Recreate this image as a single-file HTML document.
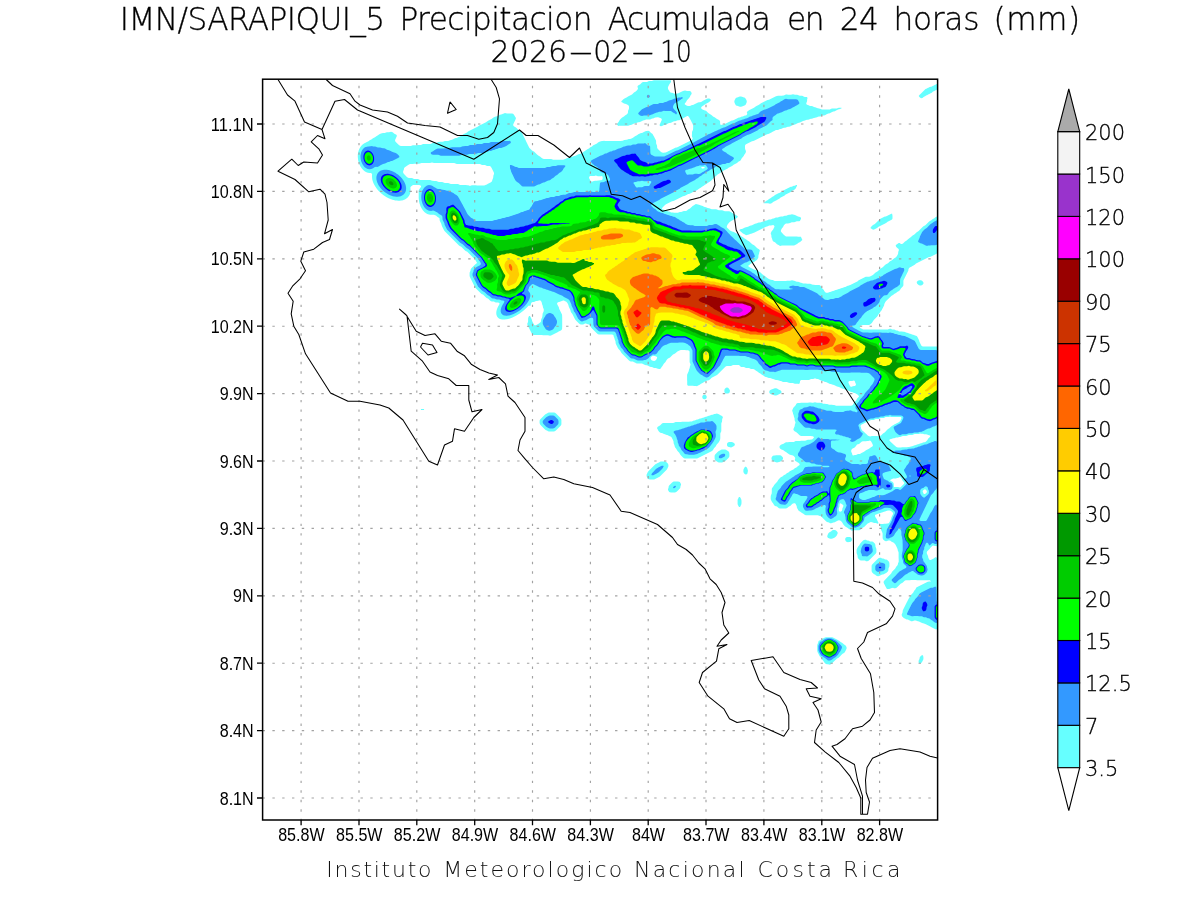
<!DOCTYPE html>
<html lang="es"><head><meta charset="utf-8"><title>IMN/SARAPIQUI_5 Precipitacion Acumulada en 24 horas (mm)</title>
<style>html,body{margin:0;padding:0;background:#fff}svg{display:block;will-change:transform}text{font-family:"Liberation Sans",sans-serif;fill:#000}.t2{font-family:"DejaVu Sans","Liberation Sans",sans-serif;font-weight:200;fill:#111}.t{font-family:"DejaVu Sans","Liberation Sans",sans-serif;font-weight:200;stroke:#000;stroke-width:.3px}</style></head><body>
<svg width="1200" height="900" viewBox="0 0 1200 900">
<rect width="1200" height="900" fill="#fff"/>
<g id="precip" clip-path="url(#clipf)"><path fill="#66FFFF" fill-rule="evenodd" d="M652,81 653,80.5 654,80.2 655,80.2 656,80.2 657,80.2 658,80.2 659,80.2 660,80.2 661,80.3 662,80.3 663,80.3 664,80.3 665,80.3 666,80.3 667,80.3 668,80.3 669,80.3 670,80.3 671,80.5 671,81.8 670.4,83 669.5,84 669,85 668.5,86 668,87 667.9,88 668.1,89 668.6,90 669,90.6 669.9,92 671,92.7 672,92.8 672.9,93 674,93.6 675,93.7 676,93.7 677,93.6 678,93.5 678.9,93 680,92.5 680.9,92 682,91.6 683,91 684,90.7 685,90.4 686,90.7 687,90.9 688,90.9 689,90.9 690,91 691,91.8 691.6,93 691.6,94 691,94.8 690.2,96 690,96.7 689.1,98 688.2,99 687.2,100 686.5,101 686.1,102 685.2,103 684.6,104 685,104.6 685.7,105 687,105.8 688,106 689,106 690,105.9 691,105.4 692,105.1 693,104.9 694,104.5 694.9,104 696,103.5 697,103 698,102.6 699,102.3 700,102.2 701,102.1 702,101.6 702.6,101 704,100.2 705,99.7 706,99.3 707,98.7 708,98.4 709,98.5 710,98.8 711,100 710.2,101 709.2,102 708,102.7 707,103.3 706,103.7 705,104.3 704.3,105 703,105.8 702,106.4 701.4,107 701.1,108 701.7,109 703,109.7 703.6,110 705,110.4 706,110.8 707,111.7 708,112.7 709,113.6 709.8,114 711,114.7 712,115.5 712.5,116 713,116.5 714,117 715,117.5 715.6,118 717,118.9 718,119.4 719,119.9 720,120.9 720.1,122 720.1,123 720.2,124 720.7,125 722,124.8 723,124.6 724,124.4 724.7,124 726,123.4 726.7,123 728,122.4 728.7,122 730,121.4 730.7,121 732,120.6 733,120.4 733.7,120 735,119.4 735.7,119 737,118.4 737.7,118 739,117.6 740,117.4 740.7,117 742,116.6 743,116.4 743.7,116 745,115.6 746,115.4 746.6,115 747.3,114 747,113.1 746.8,112 748,111 749,110.2 750,109.8 751,109.2 752,108.8 753,108.2 754,107.8 755,107.1 756,106.2 757,105.8 758,105.2 759,104.8 760,104.1 761,103.2 762,102.8 763,102.2 764,101.8 765,101.2 766,100.8 767,100.3 767.7,100 769,99.8 770,99.2 771,98.8 772,98.2 773,97.8 774,97.2 775,96.8 776,96.2 777,95.9 778,95.8 779,95.8 780,95.8 781,95.7 782,95.7 783,95.6 784,95.4 784.7,95 786,94.6 787,94.6 788,94.7 789,94.7 790,94.7 791,94.7 792,94.6 793,94.3 794,94.6 795,94.7 796,94.7 797,94.7 798,94.9 799,95.5 800,95.7 801,95.7 802,95.8 802.8,96 804,96.7 805,96.9 806,96.9 806.9,97 807.6,98 807.2,99 807.1,100 807.1,101 806.8,102 806.3,103 806.3,104 807,104.7 808,104.9 809,105.4 810,105.9 811,106 812,106.1 813,106.5 814,107 815,107.2 816,107.6 816.9,108 818,108.3 819,108.4 820,108.7 820.7,109 822,109.4 823,109.4 824,109.4 825,109.4 826,109.4 827,109.5 828,109.5 829,109.5 830,109.4 830.6,109 832,108.6 833,108.5 834,108.6 835,108.6 836,108.6 837,108.5 837.8,108 839,107.7 840,107.7 841,107.7 842,108 841,108.4 840.2,109 839,109.3 838,109.5 837.2,110 836,110.5 835.3,111 834,111.4 833,111.6 832.4,112 831,112.6 830.4,113 829,113.5 828,113.6 827.4,114 826,114.6 825.5,115 824,115.5 823,115.6 822,115.7 821,116.2 820,116.6 819,116.6 818,116.8 817,117.3 816,117.6 815,117.7 814,117.9 813,118.3 812,118.7 811,118.7 810,118.9 809,119.4 808,119.7 807,119.8 806,119.9 805,120.4 804,120.7 803,121 802,121.4 801,121.9 800,122.4 799,122.8 798,123 797,123.4 796,123.9 795,124.4 794,124.8 793,125 792,125.4 791,125.9 790,126.4 789,126.7 788,126.8 787,127 786,127.4 785,127.8 784,127.8 783.2,128 782,128.5 781,128.9 780,129.1 779,129.5 778,129.9 777,130 776,130.1 775,130.6 774.3,131 773,131.6 772.3,132 771,132.7 770.4,133 769,133.7 768.1,134 767,134.2 766,134.7 765.4,135 764,135.7 763.4,136 762,136.7 761,137.2 760,137.7 759,138.2 758,138.7 757,139.2 756,139.7 755,140.2 754,140.7 753.3,141 752,141.2 751,141.7 750,142.2 749,142.7 748,143.2 747,143.7 746,144.2 745.2,145 745,146 745,147 745,148 745.1,149 745.5,150 745.9,151 745.9,152 745.5,153 745,153.7 744.1,155 743.7,156 743,156.8 742,157.9 741.3,159 741,159.7 740,160.9 739,161.3 738.1,162 737,163 736,163.4 735.1,164 734,164.5 733.3,165 732.1,166 731,166.5 730.1,167 729,167.4 728.2,168 727,169 726,169.3 725,169.9 724,170.3 723,171 722,171.8 721,172.2 720,172.9 719,173.8 718,174.2 717,174.9 716,175.9 715,176.8 714,177.8 713,178.8 712,179.8 711,180.7 710,181.6 709.3,182 708,182.8 707,183.6 706.3,184 705,184.8 704,185.6 703.3,186 702,186.8 701,187.6 700.3,188 699,188.8 698,189.6 697.3,190 696,190.7 695,191.6 694,192 693,192.1 692,192.6 691.3,193 690,193.6 689.1,194 688,194.1 687,194.7 686.4,195 685,195.7 684.2,196 683,196.2 682,196.7 681,197.2 680,197.7 679,198.2 678,198.7 677,199.2 676,199.8 675,200.2 674,200.7 673.3,201 672,201.2 671,201.8 670,202.2 669,202.8 668,203.2 667,203.8 666,204.2 665,204.9 664,205.9 663,207 662.2,208 661.8,209 663,209.5 664,209.8 665,210.4 666,210.6 667,210.8 668,211.4 669,211.6 670,211.8 671,212.4 672,212.6 673,212.6 674,212.7 675,212.7 676,212.7 677,212.8 678,212.7 679,212.2 680,211.9 681,211.9 682,211.8 683,211.3 684,211 685,211 686,210.9 687,210.4 688,209.5 689,209 690,208.5 690.5,208 691,207.6 691.6,207 692.6,206 694,205.2 695,204.6 695.9,204 697,204.2 698,204.4 699,204.7 699.7,205 701,205.4 702,205.7 702.7,206 704,206.7 704.8,207 706,207.3 707,207.7 707.8,208 709,208.3 710,208.6 710.9,209 712,209.2 713,209.2 714,209.2 715,209.2 716,209.2 717,209.6 718,210 719,210.2 720,210.2 721,210.2 722,210.2 723,210.6 724,211 725,211.2 726,211.2 727,211.2 728,211.2 729,211.3 730,211.6 730.8,212 732,212.7 733,213.6 733.8,214 735,214.6 735.8,215 737,215.7 738,216.8 737,217.8 736,218.4 735,219 734,219.4 733,220 732,220.5 731.2,221 730,221.7 729,222.8 728,224 727.3,225 727,226 726.7,227 727.4,228 728,228.6 729,229.6 730,230.5 731,230.9 732,231.5 733,231.7 734,232 735,232.7 735.9,233 737,233.7 737.8,234 739,234.7 739.7,235 741,236 742,236.8 743,237.2 743.9,238 745,238.8 746,239.3 746.8,240 748,240.8 749,241.3 749.8,242 750.9,243 752,244 753,244.7 753.9,245 755,245.9 756,246.9 757,247.9 758,248.7 758.7,249 759.7,250 759.8,251 759.3,252 759.2,253 759,254 758.5,255 758.4,256 758.4,257 758.2,258 757.5,259 757,260 756,260.5 755.3,261 754.1,262 753,262.5 752.2,263 751,263.5 750.4,264 749.2,265 748,265.9 749,266.8 750,267.5 751,267.9 752,268.5 753,268.9 754,269.5 755,269.7 756,270 757,270.6 758,271 759,271.7 759.9,272 761,272.9 762,273.9 763,274.8 764,275.6 765,276 766,276.9 767,277.8 768,278.6 769,279 770,279.6 771,279.8 772,279.9 773,280.1 774,280.7 775,280.9 776,280.9 777,280.9 778,280.9 779,281 780,281 781,280.9 782,280.9 783,280.9 784,280.9 785,280.9 786,280.9 787,280.8 788,280.8 789,280.8 790,280.8 791,280.6 792,280.3 793,280.6 794,280.7 795,281 796,281.6 797,281.7 798,281.7 799,281.9 800,282.5 801,282.7 802,282.9 803,283.5 804,283.6 805,283.6 806,283.6 807,283.7 808,283.7 809,283.8 810,283.8 810.9,284 812,284.6 813,284.8 814,284.8 815,284.9 816,284.9 817,284.9 818,284.9 819,284.9 820,285.3 820.7,286 821.2,287 821.9,288 822.9,289 823.8,290 824.3,291 825,291.9 826,292.7 827,292.8 828,292.7 829,292.2 830,291.9 831,291.8 832,291.2 833,290.9 834,290.8 835,290.2 835.7,290 837,289.8 838,289.2 839,288.9 840,288.8 841,288.2 842,287.9 843,287.7 844,287.2 845,286.9 846,286.7 847,286.1 848,285.8 849,285.6 850,285 851,284.7 852,284 853,283.7 854,283 855,282.7 856,282 857,281.7 857.9,281 859,280.1 860,279.7 861,279 862,278.7 863,278 864,277.7 865,277 866,276.8 867,276.8 868,276.8 869,276.7 870,276.6 871,276 872,275.6 872.9,275 874,274 875,273 876,272.2 877,271.8 878,271 879,270.1 880,269.1 881,268.2 882,267.8 883,267.1 884,266.1 885,265.1 886,264.3 887,263.8 888,263.2 889,262.2 890,261.3 890.6,261 892,260.2 893,259.3 894,258.4 894.7,258 896,257.3 896.9,256 897.5,255 898,254 898.2,253 898.2,252 898.6,251 898.9,250 898.6,249 898,248.4 897.3,248 896.3,247 895.8,246 895.8,245 897,244.2 898,243.6 898.7,243 899.7,243 900.9,244 902,244 903,243.5 903.5,243 904,242.5 904.5,242 905,241.5 905.9,241 907,240.3 908,239.3 909,238.4 909.6,238 911,237.1 912,236.1 913,235.2 914,234.7 914.9,234 915.9,233 917,232 918,231.5 918.6,231 919.6,230 920.6,229 921.6,228 922.6,227 923.8,226 925,225.4 925.6,225 926.6,224 927.6,223 928.6,222 929.8,221 931,220.4 931.6,220 932.8,219 934,218.4 934.6,218 935.8,217 937,216.6 938,216.6 938,218 938,219 938,220 938,221 938,222 938,223 938,224 938,225 938,226 938,227 938,228 938,229 938,230 938,231 938,232 938,233 938,234 938,235 938,236 938,237 938,238 938,239 938,240 938,241 938,242 938,243 938,244 938,245 938,246 938,247 938,248 937.5,249 937.2,250 937.2,251 937.1,252 937.1,253 936.3,254 935,254.6 934.3,255 933,255.6 932.2,256 931,256.6 930,256.9 929,257.1 928,257.6 927.1,258 926,258.5 925.1,259 924,259.5 923,260 922,260.4 921,260.9 920,261.4 919,262 918,262.5 917.1,263 916,263.6 915,264.6 914.3,265 913,265.7 912,266.2 911,266.9 910,267.3 909.2,268 908.5,269 908.4,270 908.2,271 907.6,272 907.2,273 906.6,274 906.2,275 905.6,276 905.2,277 904.6,278 904.2,279 903.6,280 903.4,281 903.4,282 903.4,283 903.4,284 903.4,285 903.2,286 902.3,287 901.3,288 900.5,289 900,290 899,291 898,291.4 897.2,292 896,293 895,293.4 894.2,294 893,295 892,295.4 891.3,296 890.3,297 889.2,298 888.2,299 887.1,300 886.1,301 885.3,302 885,302.8 884.3,304 884.2,305 883.9,306 883.2,307 883,307.7 882.2,309 881.8,310 881,310.9 880.2,312 879.7,313 879,313.8 878.1,315 877.6,316 877,316.7 876,317.7 875,318.7 874,319.7 873.1,321 872.5,322 872,322.7 871,323.7 870,324.6 869.1,325 868,325 867,325 866,325.1 865,325.1 864,325.1 863,325.1 862,325.2 861,325.4 860.2,326 859.7,327 860.4,328 861,328.4 862,328.8 863,329.4 864,329.6 865,329.6 866,329.6 867,329.6 868,329.6 869,329.6 870,329.6 871,329.6 872,329.6 873,329.6 874,329.6 875,329.6 876,329.6 877,329.6 878,329.6 879,329.6 880,329.6 881,329.6 882,329.6 883,329.6 884,329.6 885,329.6 886,329.6 887,329.6 888,329.4 888.7,329 890,328.7 891,328.8 892,329.4 893,329.6 894,329.6 895,329.8 896,330.4 897,330.6 898,330.8 899,331.4 900,331.6 901,331.6 902,331.6 903,331.7 904,331.7 905,331.9 906,332.5 907,332.7 908,332.9 909,333.5 910,333.7 911,334 912,334.6 913,334.8 914,335 915,335.6 916,335.8 917,336.3 917.4,337 918,337.9 918.4,339 919,339.9 919.3,341 919.5,342 920,342.8 920.5,344 921,344.8 921.6,346 923,346.6 924,346.6 925,346.6 926,346.6 927,346.6 928,346.6 929,346.6 930,346.6 931,346.6 932,346.6 933,346.6 934,346.6 935,346.6 936,346.6 937,346.6 938,346.6 938,348 938,349 938,350 938,351 938,352 938,353 938,354 938,355 938,356 938,357 938,358 938,359 938,360 938,361 938,362 938,363 938,364 938,365 938,366 938,367 938,368 938,369 938,370 938,371 938,372 938,373 938,374 938,375 938,376 938,377 938,378 938,379 938,380 938,381 938,382 938,383 938,384 938,385 938,386 938,387 938,388 938,389 938,390 938,391 938,392 938,393 938,394 938,395 938,396 938,397 938,398 938,399 938,400 938,401 938,402 938,403 938,404 938,405 938,406 938,407 938,408 938,409 938,410 938,411 938,412 938,413 938,414 938,415 938,416 938,417 938,418 938,419 938,420 938,421 938,422 938,423 938,424 938,425 938,426 938,427 938,428 937.6,429 937.3,430 937.2,431 937.2,432 937.1,433 937.2,434 937.2,435 937.5,436 938,437 938,438 938,439 938,440 938,441 938,442 938,443 938,444 938,445 938,446 938,447 938,448 938,449 938,450 938,451 938,452 938,453 938,454 938,455 938,456 938,457 938,458 938,459 938,460 938,461 938,462 938,463 938,464 938,465 938,466 938,467 938,468 938,469 938,470 938,471 938,472 938,473 938,474 938,475 938,476 938,477 938,478 938,479 938,480 938,481 938,482 938,483 938,484 938,485 938,486 938,487 938,488 938,489 938,490 938,491 938,492 938,493 938,494 938,495 938,496 938,497 938,498 938,499 938,500 938,501 938,502 938,503 938,504 938,505 938,506 938,507 938,508 938,509 938,510 938,511 938,512 938,513 938,514 938,515 938,516 938,517 938,518 938,519 938,520 938,521 938,522 938,523 938,524 938,525 938,526 938,527 938,528 938,529 938,530 938,531 938,532 938,533 938,534 938,535 938,536 938,537 938,538 938,539 938,540 938,541 938,542 938,543 938,544 938,545 938,546 938,547 938,548 937.6,547 937,546.2 936,546 935,545.9 934,545.8 933,545.6 932.2,546 931.2,547 930.2,548 929.6,549 929,549.6 928,550.5 927.5,551 927,551.6 926.7,553 927,553.7 927.5,555 928,556 928.2,557 928.4,558 929,559 929.6,560 931,560 932,559.3 933,558.9 934,558.3 935,557.5 936,557 936.9,558 936.9,559 936.9,560 937,561 937,562 937,563 937,564 937,565 937,566 937,567 937,568 937,569 937,570 937,571 937,572 937,573 937,574 937,575 937,576 937.1,577 937.1,578 937.2,579 937.2,580 937.5,581 938,582 938,583 938,584 938,585 938,586 938,587 938,588 938,589 938,590 938,591 938,592 938,593 938,594 938,595 938,596 938,597 938,598 938,599 938,600 938,601 938,602 938,603 938,604 938,605 938,606 938,607 938,608 938,609 938,610 938,611 938,612 938,613 938,614 938,615 938,616 938,617 938,618 938,619 938,620 938,621 938,622 938,623 938,624 938,625 938,626 938,627 938,628 937.4,629 936,629.4 935,629 934,628.4 933,628 932,627.4 931,627 930,626.3 929.1,626 928,625.3 927.1,625 926,624.3 925.1,624 924,623.4 923,623.2 922.1,623 921,622.4 920,622 919,621.4 918,621.3 917,621.1 916,620.5 915,620.4 914,620.6 913.3,621 912,621.3 911,621.2 910,620.6 909,620.2 908,619.6 907,619.4 906,619.2 905,618.6 904,618.2 903,617.3 902,616.2 901.7,615 901.8,614 902.4,613 902.6,612 902.7,611 902.9,610 903.5,609 903.9,608 904.5,607 904.9,606 905.5,605 905.9,604 906.5,603 906.9,602 907.6,601 907.9,600 908.6,599 909,598 909.8,597 910.6,596 911,595 911.9,594 912.9,593 913.6,592 914,591 914.9,590 915.7,589 916,588.1 917,587.1 918,586.7 919,586.1 920,585.7 921,585.1 922,584.7 923,584.1 924,583.7 925,583.1 926,582.7 927,582 928,581.7 929,581.6 930,581.6 931,581.4 930,580.2 929,580.2 928,580.2 927,580.2 926,580.2 925,580.2 924,580.3 923,580.3 922,580.3 921,580.3 920,580.2 919,580.2 918,580.2 917,580.2 916,580.1 915,580.1 914,580.1 913,580.1 912,580.1 911,580.1 910,580.2 909,580.2 908,580.2 907,580.3 906,580.3 905,580.6 904.4,581 903.4,582 902.2,583 901,583.6 900.4,584 899.4,585 898.4,586 897.4,587 896.2,588 895,588.3 894,588.2 893,587.7 892.1,588 891,588.3 890,588.8 889,589.1 888,589.1 887,589 886.3,588 885.8,587 885.2,586 884.8,585 884.2,584 883.8,583 883.5,582 884,581 884.9,580 885.8,579 886.8,578 887.7,577 888.7,576 889.7,575 890.7,574 891.5,573 891.9,572 892.8,571 893.8,570 894.8,569 895.6,568 896,567 896.9,566 897.7,565 897.9,564 898.1,563 898.7,562 898.7,561 898.7,560 898.7,559 898.6,558 898.6,557 898.6,556 898.6,555 898.6,554 898.6,553 898.5,552 898,551.1 897.7,550 897.6,549 897,548 896.7,547 896.1,546 895.7,545 895,544 894,543 893,542.3 892,542 891,541.2 890,540.5 889,540.4 888,540.6 887.3,541 886,541.3 885,541.1 884,540.3 883,539.2 882.6,538 882.6,537 882.6,536 882.6,535 882.6,534 882.5,533 882,532 881.7,531 881.1,530 880.9,529 880.9,528 880.8,527 880.3,526 879.9,525 880,524.1 881,523.9 882,523.9 883,523.9 884,523.8 885,523.8 886,523.7 887,523.6 888,523.5 889,523.1 889.5,522 890,521.2 890.5,520 891,519.2 891.3,518 891.5,517 892,516.2 892.5,515 893,514.2 893.1,513 892.2,512 891,511 890,510.5 889,510.6 888,510.6 887,510.7 886.4,511 885,511.5 884,511.7 883.4,512 882,512.5 881,512.7 880,513.2 879,513.5 878,513.7 877,514.2 876,514.5 875,514.9 875.1,516 875.3,517 876,518 876.7,519 877.1,520 877.6,521 878,521.8 878.5,523 878,523.8 877,523.5 876,523.1 875,523 874,523 873,522.6 872,522.2 871,522.1 870,522.2 869,522.9 868,523.3 867.1,524 866.1,525 865.1,526 864.1,527 863,527.5 862.4,528 861.3,529 860.1,530 859,530.3 858,530.3 857,530.3 856,530.3 855,530.3 854,530.3 853,530.5 852,530.8 851,530.3 850,529.5 849,529.1 848,528.3 847,527.5 846,527.1 845,526.3 844,525.2 843,524.1 842.6,523 842,522.2 841,521.1 840,520.4 839,520.3 838,520.5 837.1,521 836,521.5 835.2,522 834,522.4 833,522.6 832.3,523 831,523.3 830,523.2 829,522.5 828,522.3 827,522 826,521.2 825,520.2 824,519.2 823,518.2 822,517.2 821,516.3 820,516.1 819,515.8 818,515.3 817,515.2 816,515.2 815,515.2 814,515.2 813,515.3 812,515.3 811,515.3 810,515.3 809,515.3 808,515.3 807,515.3 806,515.3 805,515.1 804,514.3 803,513.5 802,513.1 801,512.2 800,511.4 799,511 798.1,510 797.7,509 797,508 796.8,507 796.7,506 796.1,505 795.7,504 795,503.3 794,503.2 793,503.4 792.2,504 791.2,505 790.2,506 789,506.5 788.4,507 787.2,508 786,508.4 785,508.4 784,508.4 783,508.4 782,508.4 781,508.4 780,508.4 779,508.2 778,507.4 777,506.6 776,506.3 775,506 774,505.1 773.5,504 773,503.3 772,502.1 771.5,501 771,500.1 770.7,499 770.7,498 770.7,497 770.8,496 771,495 771.6,494 771.7,493 771.8,492 771.8,491 771.8,490 771.8,489 772,488.3 772.9,487 773.7,486 774,485.2 775,484 776,483 776.9,482 777.7,481 778,480.2 779,479 780,478 781,477.1 782,476.7 783,476 784,475.1 785,474.7 786,474 787,473.1 788,472.7 789,472 790,471.1 791,470.7 792,470.1 793,469.7 794,469 795,468.1 796,467.7 797,467 798,466.1 799,465.6 799.6,465 799.6,464 799,463.2 798,462.4 797,462 796,461.3 795.3,461 794.8,460 795,459 795.3,458 794.6,457 794,456.3 793,455.4 792,455.2 791,455.1 790,454.8 789,454.2 788,453.6 787.3,453 786,452.1 785,451.5 784.4,451 783,450 782,449.8 781,449.3 780,448.4 779.4,447 779.7,446 780.6,445 782,444.3 783,444.1 784,443.5 784.6,443 786,442.2 787,442.2 788,442.2 789,442.1 790,442.1 791,442.1 792,442 793,442 794,441.9 795,441.3 795.8,441 797,440.9 798,440.9 799,440.9 800,440.9 801,440.8 802,440.8 803,440.8 804,440.8 805,440.7 806,440.6 807,440 808,439.8 809,439.7 810,439.7 811,439.6 812,439.4 812.6,439 813.6,438 814,437.3 813,436.2 812,436.2 811,436.1 810,436.1 809,436.1 808,436.1 807,436.1 806,436 805,436 804,436 803,436 802,436 801,436 800,435.6 799.3,435 798.3,434 797.3,433 796,432.1 795,431.6 794.3,431 793.5,430 793.4,429 793.9,428 794.3,427 794.7,426 794.8,425 795,424.1 795.5,423 795.4,422 795,421.3 794.6,420 794.6,419 794.5,418 794,417.1 793.8,416 793.6,415 793.1,414 792.9,413 792.7,412 792.2,411 792.3,410 792.8,409 793.2,408 794,407 795,406 795.8,405 796.2,404 797,403.2 798,402.9 799,402.9 800,402.9 801,402.8 802,402.8 803,402.8 804,402.8 805,402.8 806,402.8 807,402.7 808,402.7 809,402.6 810,402.6 811,402.6 812,402.7 813,402.7 814,402.6 815,402.3 816,402.6 817,402.8 818,402.8 819,402.8 820,402.8 821,402.9 822,403.1 823,403.7 824,403.8 825,403.8 826,403.9 827,403.9 828,404.2 829,404.7 830,404.8 831,404.8 832,404.8 833,404.9 834,404.9 835,405.2 836,405.7 837,405.8 838,405.8 839,405.8 840,405.8 841,405.8 842,405.8 843,405.8 844,405.8 845,405.8 846,405.8 847,405.8 848,405.8 849,405.7 850,405.7 851,405.7 852,405.5 852.7,405 853.4,404 853.8,403 854.6,402 855.6,401 856.4,400 856.8,399 857.6,398 858.6,397 859,396.3 858.1,395 857,394.2 856,393.7 855,393.1 854,393 853,392.6 852,392.1 851,391.9 850,391.5 849,391 848,390.4 847.1,390 846,389.7 845,389.4 844.1,389 843,388.7 842,388.4 841.1,388 840,387.4 839,387 838,386.8 837,386.4 836,386 835,385.5 834,385 833,384.8 832,384.5 831,384 830,383.9 829,383.5 828,383 827,382.5 826,382.1 825,381.9 824,381.5 823,381.1 822,381 821,380.6 820,380.1 819,379.6 818,379.1 817,379 816,378.7 815,378.3 814,378.7 813,379 812,379 811,379.1 810,379.6 809,380 808,380 807,380 806,380 805,380 804,380 803,380 802,380 801,380.1 800.1,381 799.9,382 799.8,383 799,383.9 798,383.8 797,383.8 796,383.8 795,383.8 794,383.4 793,383 792,382.9 791,382.9 790,382.9 789,382.8 788,382.5 787,382 786,381.9 785,381.9 784,381.9 783,381.9 782,381.5 781,381.1 780.1,381 779,380.6 778,380.2 777,380.1 776,380.1 775,379.7 774,379.2 773,379.1 772,378.8 771,378.2 770,378.1 769,378.1 768,377.8 767,377.3 766,377.1 765,376.8 764,376 763,375.3 762.2,375 761,374.1 760,373.3 759.2,373 758,372 757,371.2 756,370.8 755.1,370 754,369.2 753,369.1 752,369 751,369 750,368.6 749,368.1 748,368 747,368 746,367.9 745,367.5 744,367.1 743,367 742,366.9 741,366.9 740,366.1 739,365.1 738,365 737,365 736,365 735,365 734,365 733,365.1 732,365.6 731,366 730,366 729,366 728,366.1 727,366.1 726,366.3 725.1,367 724.1,368 723.1,369 722.1,370 721.1,371 720.1,372 719.1,373 718.1,374 717,375 716,375.4 715.1,376 714,376.5 713.2,377 712,377.5 711.4,378 710.4,379 709.2,380 708,380.4 707,380.5 706.1,381 705,381.4 704.1,382 703,382.8 702,383.2 701,383.8 700,384.6 699.3,385 698,385.6 697,386.2 696,386 695,385.9 694,385.9 693,385.8 692,385.8 691,385.8 690,385.8 689,385.8 688,385.7 687.3,385 687.2,384 687.2,383 687.2,382 687.2,381 687.1,380 687.1,379 687.1,378 687.1,377 687.1,376 687.1,375 687.4,374 687.9,373 688.3,372 688.8,371 688.9,370 689.2,369 689.7,368 689.8,367 690,366 690.5,365 690.4,364 690,363.3 689.6,362 689.6,361 689.6,360 689.6,359 689.6,358 689.6,357 689.6,356 689.6,355 689.6,354 689.6,353 689.6,352 689.4,351 688,350.3 687,350.2 686,350.2 685,350.1 684,350.1 683,350.1 682,350.1 681,350.1 680,350.2 679,350.7 678.4,351 677,351.8 676,352.7 675,353.5 674.1,354 673,354.6 672,355.6 671,356.6 670,357.5 669.1,358 668,358.6 667,359.6 666,361 665.5,362 665,362.6 664,363.6 663,365 662.5,366 662,366.5 661,368 660.2,369 659,369 658,368.8 657,368.5 656,368.1 655,368 654,367.9 653,367.6 652,367.1 651,367 650,366.7 649,366.2 648,365.8 647,365.3 646,365.2 645.1,365 644,364.4 643,364.1 642,363.5 641,363.4 640,363.4 639,363.4 638,363.4 637,363.4 636,363.2 635,362.6 634,362.2 633,361.6 632,361.4 631,361.4 630,361.2 629,360.4 628,359.4 627,358.4 626,357.4 625,356.4 624,355.4 623,354.4 622,353.4 621,352.2 620.4,351 620,350.4 619,349.4 618,348.2 617.4,347 617,346.3 616.4,345 616,344.3 615.6,343 615.6,342 615.4,341 615,340.3 614.6,339 614.4,338 614,337.3 613.6,336 613.4,335 612,334.4 611,334.4 610,334.4 609,334.4 608,334.4 607,334.4 606,334.4 605,334.4 604,334.4 603,334.4 602,334.4 601,334.4 600,334.4 599,334.4 598,334.2 597,333.4 596,332.4 595,331.4 594,330.4 593,329.4 592,328.4 591,327.2 590.5,326 590,325.3 589,324.4 588,324.2 587,324.1 586,323.5 585,323.6 584.3,324 583,324.4 582,324.4 581,324.4 580,324.2 579,323.4 578,322.4 577,321.4 576,320.4 575,319.2 574.4,318 574,317.3 573.4,316 573,315.3 572.4,314 572,313.4 571,312.2 570.6,311 570.4,310 570,309.3 569.4,308 569,307.3 568.6,306 568.4,305 568,304.3 567.4,303 567,302.4 566,301.6 565,301.2 564,300.6 563,300.5 562,301 561,301.3 560,301.8 559,302.1 558,302.2 557.2,303 557.1,304 557.6,305 558,305.7 558.7,307 559,307.8 559.2,309 559.8,310 560.2,311 560.8,312 561.2,313 561.8,314 562.1,315 562.1,316 562.2,317 562.2,318 562.2,319 562.2,320 562.2,321 562.2,322 562.2,323 562.2,324 562.2,325 562.2,326 562.2,327 562.1,328 562.1,329 561.5,330 560,330.9 559,331.3 558,332 557,332.4 556.1,333 555,333.4 554.1,334 553,334.5 552.1,335 551,335.4 550,335.7 549,335.4 548,335.3 547,335.3 546,335.2 545,335.2 544,335.2 543,335.2 542,335.1 541,335.1 540,335.1 539,335.1 538,335 537,335 536,335 535,334.9 534,334.9 533,334.8 532,334 531.5,333 531,332 530.5,331 530,330 529.5,329 529,328 528.5,327 528,326 527.6,325 527.2,324 527.6,323 528,322 528.1,321 528.1,320 528.1,319 528.2,318 528.6,317 529,316.1 530,316.1 530.5,317 531,317.9 531.6,319 532,320 532.1,321 532.6,322 533,322.7 533.7,324 534.3,325 535,325.6 536,325.1 537,324.7 537.9,324 539,323.5 539.5,323 540.7,322 541,321.2 541.1,320 541.3,319 541.9,318 542.2,317 542.4,316 542.5,315 542.6,314 542.8,313 543.4,312 543.7,311 543.8,310 543.7,309 543.2,308 542.9,307 542.8,306 542.4,305 542,304 541.9,303 541.5,302 541,301.1 540,300.2 539,300.5 538,300.8 537,300.9 536,301 535,301.5 534,301.9 533,302 532,302.2 531.2,303 531,303.8 530.7,305 530.2,306 529,305.6 528,306.3 527.4,307 526.4,308 525.3,309 524.2,310 523,311 522,311.8 521,312.6 520.4,313 519,314 518,314.6 517.3,315 516,315.8 515,316.3 514,316.8 513,317.2 512,317.7 511.1,318 510,318.4 509,318.7 508,318.9 507,319.2 506,319.3 505,319.5 504,319.5 503,319.5 502,319.4 501,319.2 500,318.9 499,318.4 498.4,318 497.4,317 497,316.3 496.5,315 496.3,314 496.3,313 496.3,312 496.5,311 496.7,310 497,309.2 497.4,308 497.9,307 498.4,306 499,305 499.5,304 499.4,303 498,302.4 497,302.4 496,302.4 495,302.2 494,301.6 493,301.4 492,301.4 491,301.2 490,300.4 489,299.4 488,298.6 487,298.2 486,297.4 485,296.4 484,295.4 483,294.6 482,294.2 481,293.4 480,292.4 479,291.4 478,290.4 477,289.4 476,288.4 475,287.2 474.4,286 474,285.3 473.4,284 473,283.3 472.4,282 472,281.3 471.4,280 471,279.3 470.4,278 470,277.3 469.6,276 469.6,275 469.6,274 469.6,273 469.8,272 470.4,271 470.6,270 470.8,269 471.6,268 472.6,267 473.6,266 474.6,265 475.8,264 477,263.1 476.6,262 476,261.3 475.4,260 475,259.4 474,258.4 473,257.4 472,256.4 471,255.4 470,254.4 469,253.4 468,252.4 467,251.6 466,251.2 465,250.4 464,249.4 463,248.4 462,247.4 461,246.6 460,246.2 459,245.4 458,244.4 457,243.4 456,242.4 455,241.4 454,240.4 453,239.4 452,238.4 451,237.4 450,236.4 449,235.4 448,234.4 447,233.4 446,232.4 445,231.4 444,230.2 443.4,229 443,228.3 442.4,227 442,226.3 441.6,225 441.4,224 441,223.3 440.4,222 440,221.3 439.6,220 439.6,219 439.4,218 438,217.2 437,216.4 436,215.6 435,215.2 434,214.8 433,214.7 432,214.8 431,214.8 430,214.8 429,214.6 428,214.3 427.3,214 426,213.3 425,212.5 424.4,212 423.5,211 423,210.4 422,209 421.4,208 421,207.2 420.4,206 420.1,205 419.7,204 419.4,203 419.2,202 419,201 418.9,200 418.8,199 418.7,198 418.7,197 418.7,196 418.7,195 418.7,194 418.7,193 418.6,192 418.6,191 418.8,190 419.5,189 420,188.3 420.9,187 421.1,186 420,185.2 419,185.1 418,185.1 417,185.1 416,185 415,185 414,185 413,185.1 412,185.7 411,186.4 410.5,187 410.4,188 410.5,189 410.5,190 410.5,191 410.4,192 410.2,193 409.9,194 409.5,195 409,195.8 408.1,197 407.1,198 406,198.8 405,199.4 404,199.8 403,200.2 402,200.4 401,200.6 400,200.7 399,200.7 398,200.7 397,200.6 396,200.5 395,200.4 394,200.1 393,199.9 392,199.6 391,199.2 390,198.8 389,198.4 388.2,198 387,197.4 386.3,197 385,196.2 384,195.6 383.2,195 382,194 381,193.2 380,192.3 379,191.3 378,190.2 377,189 376.3,188 375.6,187 375,186.1 374.4,185 374,184.2 373.4,183 373,182 372.7,181 372.4,180 372.2,179 372.1,178 372,177 372,176 372,175 372.1,174 371,173.1 370,173.1 369.2,173 368,172.8 367,172.5 366,172 365,171.4 364.4,171 363.2,170 362.3,169 361.5,168 361,167.3 360.2,166 359.7,165 359.3,164 359,163.2 358.6,162 358.3,161 358.1,160 358,159 357.9,158 357.8,157 357.8,156 357.8,155 357.9,154 358.1,153 358.3,152 358.5,151 358.9,150 359.3,149 359.8,148 360.4,147 361,146.2 362,145 363,144.2 364,143.5 365,143.1 366,142.6 366.9,142 368,141.6 368.9,141 370,140.1 371,139.7 372,139 373,138.2 374,137.8 375,137.2 376,136.4 376.7,136 378,135.3 379,134.5 379.9,134 381,133.5 382,133.2 383,133.1 384,133.1 384.9,133 386,132.6 387,132.2 388,132.2 389,132.2 390,132.1 391,131.8 392,132.1 393,132.6 394,133.5 394.9,134 396,134.6 396.6,135 396.9,136 396.4,137 396,138 395.5,139 395.1,140 395.1,141 395.8,142 396.8,143 397.8,144 398.9,145 400,145.8 401,145.9 402,146 403,146 404,146 405,146 406,146 407,146.1 408,146.1 409,146.1 410,146.1 411,146 412,145.6 413,145.3 414,145.2 415,145.2 416,145.2 417,145.2 418,145.1 419,145.1 420,145.1 421,144.9 422,144.4 423,144 424,144 425,144 426,144 427,143.9 428,143.9 429,143.9 430,143.9 431,143.7 432,143.2 433,142.9 434,142.8 435,142.8 436,142.8 437,142.7 438,142.1 439,141.9 440,141.8 441,141.8 442,141.8 443,141.7 444,141.2 445,140.9 446,140.9 447,140.9 448,140.9 449,140.7 450,140.2 451,139.9 452,139.8 453,139.2 454,138.8 455,138.3 455.9,138 457,137.9 458,137.3 458.7,137 460,136.4 460.7,136 462,135.3 463,134.5 463.9,134 465,133.5 465.9,133 467,132.4 468,131.5 469,131 470,130.6 471,130 472,129.6 473,129 474,128.6 475,128.1 476,127.6 477,127.1 478,126.5 478.6,126 480,125.1 481,124.7 482,124.2 483,123.7 484,123.2 485,122.7 486,122.2 487,121.6 487.7,121 489,120.2 490,119.7 491,119.3 492,118.7 492.7,118 494,117.3 495,116.8 496,116.4 497,116.3 498,115.8 499,115.3 500,114.8 501,114.5 502,114.3 503,113.8 504,113.4 504.9,113 506,113.3 507,113.4 508,113.4 509,113.4 510,113.4 511,113.4 512,113.5 513,113.8 514,114.8 514.7,116 515.3,117 516,117.9 515.7,119 515.3,120 515,120.7 514.3,122 514,122.8 513.4,124 513.1,125 513.6,126 515,127 516,127.6 516.5,128 517,128.4 517.6,129 518.6,130 520,131 521,131.6 522,133 522.5,134 523,135 523.5,136 524,137 524.5,138 525,139 525.5,140 526,141 526.4,142 527,143 527.4,144 527.9,145 528.4,146 528.9,147 529.4,148 530,148.6 531,149.6 532,150.6 532.8,151 534,151.6 535,152.5 535.5,153 536,153.5 536.5,154 537,154.4 537.6,155 539,156 540,156.5 540.6,157 541.7,158 543,158.8 544,158.9 545,158.9 546,158.9 547,158.9 548,158.9 549,158.9 550,158.9 551,158.9 552,159.2 553,159.7 554,159.8 555,159.8 556,159.8 557,159.8 558,159.8 559,159.8 560,159.8 561,159.8 562,159.8 563,159.8 564,159.6 565,159 566,158.7 567,158.1 568,157.9 569,157.7 570,157.2 570.7,157 572,156.8 573,156.4 574,156 575,155.9 576,155.5 577,155 578,154.5 579,154.1 580,153.9 581,153.5 581.8,153 583,152.3 584,151.5 584.8,151 586,150.3 587,149.5 587.8,149 589,148.4 590,147.5 590.9,147 592,146.4 593,145.5 593.9,145 595,144.5 595.9,144 597,143.4 598,142.5 599,142 600,141.5 601,141.2 602,141.1 603,141 604,140.7 605,140.9 606,141 607,141 608,141 609,141 610,141 611,141 612,141 613,141 614,141 615,140.9 616,140.9 617,140.9 618,140.9 619,140.9 620,140.9 621,140.9 622,140.8 623,140.7 624,140.1 625,139.9 626,139.8 627,139.7 628,139.2 629,138.9 630,138.9 631,138.7 632,138.2 633,137.8 634,137.1 635,136.3 636,135.8 637,135.2 638,134.4 638.7,134 640,133.4 641,133 642,132.9 643,132.4 643.8,132 645,131.5 646,131.1 647,131 648,130.7 649,130.9 650,131.8 651,132.9 652,133.5 652.5,134 653,134.8 653.6,136 654,136.6 654.7,138 655.2,139 655.8,140 656.1,141 656.1,142 656.1,143 656.3,144 656.8,145 657.1,146 657.1,147 657.2,148 657.9,149 658.9,150 660,151 661,151.9 662,152.6 663,152.7 664,152.7 665,152.6 666,152.4 666.7,152 668,151.4 668.7,151 670,150.4 670.7,150 672,149.4 672.7,149 674,148.4 674.7,148 676,147.6 677,147.4 677.7,147 679,146.4 679.7,146 681,145.4 681.7,145 683,144.4 683.7,144 685,143.4 685.7,143 687,142.4 687.7,142 689,141.4 689.7,141 691,140.4 691.6,140 692.5,139 692.6,138 692.1,137 691.9,136 691.9,135 692,134 692,133 692,132 692.4,131 692.9,130 693.1,129 693.1,128 693.2,127 693.2,126 693,125 692.6,124 692.1,123 691.6,122 691.1,121 690.6,120 690,119 689.5,118 689,117.1 688,116.1 687,116.1 686,116.7 685.4,117 684,117.8 683,118.2 682,118.9 681,119.3 680,120 679,120.2 678,120.3 677,120.4 676,121 675,121.2 674,121.3 673,121.8 672,122.2 671,122.7 670,123 669,123.1 668,123.5 667.1,124 666,124.5 665,124.9 664,125 663,125.5 662,126 661,126.2 660,126 659.5,125 660,124 660.4,123 660.9,122 661.3,121 661.8,120 661.7,119 661,118.3 660.1,118 659,117.4 658,117.3 657,117.3 656,117.4 655,117.6 654.3,118 653,118.4 652,118.6 651.3,119 650,119.4 649,119.4 648,119.4 647,119.4 646,119.5 645.1,120 644,120.3 643,120.5 642.1,121 641,121.4 640,121.9 639,122.2 638,122.3 637,122.8 636.3,123 635,123.2 634,123.6 633.2,124 632,124.5 631,124.9 630,125 629,125.5 628,125.8 627,125.8 626,125.8 625,125.8 624,125.7 623,125.7 622,125.7 621,125.7 620,125.7 619,125.8 618.3,126 617.3,125 617,124.3 617.7,123 618.6,122 619,121.3 619.7,120 620.6,119 621.6,118 623,117 624,116.4 625,115.5 625.8,115 627,114.3 627.9,113 628,112 628,111 628.4,110 628.9,109 629,108 629,107 628.9,106 628,105 627,104.5 626,104 625,103.7 624,103.4 623.2,103 622,102.3 621.4,102 621.4,101 622,100.7 622.6,100 623.7,99 625,98.2 626,97.7 627,97.2 628,96.6 629,96.1 630,95.6 631,95 632,94.5 633,93.4 634,92.5 634.9,92 636,91.3 637,90.3 637.9,89 637.9,88 637.5,87 637.6,86 638.9,85 640,84.4 641,83.4 642,82.5 643,82.1 644,82.1 645,82.1 646,82.1 647,81.9 648,81.5 649,81.1 650,81.1 651,81.1 652,81ZM421.5,163 420,163.5 419,163.8 418,163.8 417,163.8 416,163.8 415,163.8 414,163.8 413,163.9 412,163.9 411,163.9 410,164.1 409,164.6 408.2,165 407,165.7 406,166.6 405.2,167 404.1,168 404,169 403.7,170 403.2,171 403.1,172 403.3,173 404,174 405,175 405.9,176 406.9,177 408,177.8 409,178 410,178 411,178 412,178.1 413,178.5 414,179 415,179.1 416,179.1 417,179.1 418,179.1 419,179.5 420,179.9 421,180 422,180 423,180 424,180 425,180 426,180 427,179.9 428,179.9 429,179.9 430,179.9 431,180.2 432,180.7 433,180.8 434,180.9 435,180.9 436,180.9 437,181.2 438,181.7 439,181.9 440,181.9 441,181.9 442,181.9 443,182.2 444,182.8 445,182.9 446,182.9 447,182.9 448,182.9 449,183.2 450,183.8 451,183.9 452,183.9 453,183.9 454,183.9 455,184 456,184 457,184 458,184 459,184.4 460,184.9 460.9,185 462,185 463,185.1 464,185.1 465,185.1 466,185.1 467,185.2 468,185.2 469,185.6 470,185.9 471,185.6 472,185.3 473,185.3 474,185.3 475,185.3 476,185.3 477,185.4 478,185.4 479,185.4 480,185.4 481,185.4 482,185.4 483,185.5 484,185.5 485,185.3 486,184.8 487,184.4 487.5,184 489,183.3 490,182.7 491,182.3 492,181.3 492.3,180 492.7,179 493,178.2 493.3,177 493.3,176 493.6,175 494,174.1 494,173 493.6,172 493.1,171 492.6,170 492.1,169 491.6,168 491,167 490,166 489,165.9 488,165.9 487,165.9 486,165.5 485,165.1 484,164.9 483,164.9 482,164.9 481,164.6 480,164.1 479,164 478,164 477,164 476,164 475,164 474,164 473,164 472,164 471,164 470,164 469,164 468,164 467,164 466,164 465,164 464,164 463,164.1 462,164.1 461,164.1 460,164.1 459,164.1 458,164.1 457,164.1 456,163.8 455,163.2 454,163.1 453,163.1 452,163.1 451,163.1 450,163.1 449,163.1 448,163.1 447,163.1 446,163.1 445,163.1 444,163.1 443,163.1 442,163.1 441,163.1 440,163.1 439,163.1 438,163.1 437,163.1 436,163.1 435,163.1 434,163.1 433,162.8 432,162.4 431,162.8 430,163.1 429,163.1 428,163.1 427,163 426,163 425,163 424,163 423,163 422,162.9ZM703.4,167 702,167.1 701,167.6 702,168.5 703,168.4 704,168.3 704.8,168 704.3,167ZM594.5,176 593,176.1 592,176 591,176 590,176.1 589.1,177 589.1,178 589.5,179 590,179.8 590.8,181 592,181.7 593,181.2 594,180.9 595,180.8 596,180.7 597,180.7 598,180.6 599,180.4 600,180.3 601,180.3 602,180.1 602.6,179 602.7,178 602.6,177 602.1,176 601,176.2 600,176.3 599,176.3 598,176.2 597,176 596,175.5 595,175.8ZM652.5,356 651,357 650.6,358 650.7,359 651.4,360 652,360.6 653,360.8 654,360.9 655,360.7 655.9,360 656.7,359 656.9,358 657.2,357 656,356.5 655,356.1 654,355.9 653,355.7ZM852.2,381 851,381 850,381.1 849,381.3 848.3,382 848.6,383 849,383.9 849.5,385 850,386 851,386.9 852,386.5 853,386.2 854,386.1 855,385.9 855.9,385 855.9,384 855.4,383 855,382 854.7,381 854,380.4 853,380.7 852.2,381ZM885.9,417 885,417.3 884,417.9 883,418 882,418 881,418 880,418.3 879,418.9 878,419 877,419 876,419 875,419.3 874,419.9 873,420 872,420 871,420 870,420.4 869,420.9 868,421.3 867,421.9 866,422.3 865,422.9 864,423.3 863,423.9 862,424.3 861,424.9 860.4,426 860.8,427 861,428 861.3,429 861.9,430 862.7,431 864,431.8 865,433 866,433.8 867,434.8 868,435.7 868.8,436 870,436.6 871,436.3 871.9,436 873,436 874,436 875,436.1 876,436.1 877,436.1 878,436.2 879,436.2 880,436 881,435.5 882,434.4 883,433.5 883.8,433 885,432.2 886,431.1 887,430 888,429.1 889,428.6 889.6,428 890.6,427 891.9,426 893,425.2 894,424.7 895,424.1 896,423.7 897,423.1 898,422.7 899,422.1 900,421.3 900.7,420 901.1,419 901.6,418 901,417 900,417 899,417 898,417 897,417 896,417 895,417 894,417 893,417 892,417 891,416.9 890,416.6 889,416.9 888,417 887,417 886,417ZM914.9,434 914,434.3 913,434.8 912,434.9 911,435 910,435 909,435 908,435.3 907,435.8 906,435.9 905,435.9 904,435.9 903,436 902,436.3 901,436.8 900,437 899,437.1 898,437.4 897,437.5 896,437.5 895,438 894,438.2 893,438.3 892,438.8 891,439.1 890,439.3 889.3,440 889.8,441 890.8,442 891.9,443 893,444 894,444.9 895,445.8 896,446.7 897,447.3 898,447.5 899,447.5 900,447.5 901,447.4 902,447.3 903,447.3 904,447.3 905,447.3 906,447.3 907,447.2 908,447.1 909,447 910,446.8 911,446.4 912,446.3 913,446.1 914,445.5 915,445.3 916,445.1 917,444.5 918,444.3 919,444.1 920,443.5 921,443.3 922,443.1 923,442.5 924,442.3 925,442.2 926,441.5 926.5,441 927,440.5 927.5,440 927.9,439 928.8,438 929.9,437 930.5,436 930,435.4 929,435.2 928.3,435 927,434.4 926,434.3 925,434.3 924,434.2 923,433.8 922,433.8 921,433.8 920,433.6 919,433.9 918,434 917,434 916,434 915,434ZM868.3,441 867,441.1 866,441.2 865,441.2 864,441.3 863,441.3 862,441.5 861.3,442 860.2,443 859.1,444 858,444.3 857,444.6 856,446 855.1,447 854,447.9 853,448.3 852,449 851.3,450 851.2,451 851.3,452 851.9,453 852.2,454 852.4,455 853,455.5 854,455.2 854.8,455 856,454.9 857,454.4 858,454 859,454 860,453.9 861,453.3 862,452.8 863,452.2 864,451.8 865,451 866,450.2 867,449.8 868,449.2 869,448.8 870,448.1 871,447.3 872,446.8 872.8,446 872.9,445 872.4,444 872,443.1 871.4,442 871,441.3 870,440.4 869,440.8 868.3,441ZM900,477 899,477.6 898,477.9 897,478.1 896,478.4 895,478.4 894,478.4 893,478.4 892.2,479 891,479.5 890.3,480 890.5,481 892,481.5 892.6,482 893.5,483 893.7,484 893.8,485 893.8,486 894,486.9 895,487.1 896,487.1 897,487.1 898,487.1 899,487.2 900,487.4 900.8,487 901.8,486 902.8,485 903.8,484 904.4,483 904,482.2 903,481.2 902.2,480 901.7,479 901.1,478 900,477ZM923.5,490 922.7,491 922.8,492 923.4,493 923.7,494 925,494.1 926,493.3 927,492.1 926.7,491 926.1,490 925,489.3 924,489.8ZM839.7,504 839.5,505 839.5,506 839.4,507 839,507.6 838.7,509 838.8,510 839,511 840,511.7 841,511.5 841.7,511 842.2,510 842.3,509 842.5,508 843,507.3 843.4,506 843.2,505 842,504.2 841,503.4 840,503.3 839.7,504ZM937,83.9 938,83.5 938,85 938,86 938,87 938,88 938,89 937,89.6 936.5,90 935,90.6 934.5,91 933,91.6 932,92.5 931.4,93 930,93.6 929.5,94 928,94.6 927.5,95 926,95.6 925.5,96 924,96.7 923,97.5 922.5,98 921,98.3 920,97.6 919.4,97 918.7,96 919.4,95 920,94.4 921,93.4 922,92.4 923,91.4 924,90.4 925,89.5 925.5,89 927,88.4 927.5,88 929,87.4 929.5,87 931,86.8 932,86.4 932.5,86 934,85.4 934.5,85 936,84.4 936.5,84ZM739,96.7 740,96.4 741,96.4 742,96.7 742.7,97 744,97.4 745,97.7 745.8,99 746.4,100 746.7,101 746.8,102 746.4,103 746,104 745.4,105 744,105.8 743.2,106 742,106.5 741,106.8 740,106.8 739,106.4 738,106 737,105.8 736,105.4 735.1,104 734.7,103 734.3,102 734.4,101 734.7,100 735.3,99 735.8,98 737,97.4 738,97.2 739,96.7ZM797,184.9 797,185.9 796.3,187 796,188 795.2,189 794,190 793,190.3 792,191 791,191.9 790,192.3 789,193 788,193.3 787,194 786,194.3 785.1,195 784,196 783,196.3 782,197 781,197.3 780.1,198 779,199 778,199.3 777.1,200 776,200.4 775.1,201 774,201.4 773.1,202 772,203 771,203.4 770,203.7 769,203.4 768,203.3 767,203.3 766,203.3 765,203.3 764,203.2 763.1,203 764,202.7 764.9,202 766,201 767,200.6 767.9,200 769,199 770,198.6 770.9,198 772,197 773,196.6 773.9,196 775,195 776,194.6 776.9,194 778,193.6 778.9,193 780,192.7 780.9,192 782,191.7 782.9,191 784,190 785,189.7 786,189 787,188.7 788,188 789,187.7 790,187 791,186.8 792,186.7 793,186 794,185.8 795,185.7 796,185.1 797,184.9ZM891,213.9 892,213.6 892.4,215 892.5,216 892.5,217 892.5,218 892.4,219 891.3,220 890,220.5 889.3,221 888,221.5 887.3,222 886.1,223 885,223.5 884.3,224 883,224.5 882.2,225 881,225.5 880.2,226 879,226.5 878.2,227 877.1,228 876,228.4 875.2,229 874,229.4 873,229.7 872,229.1 871,228.4 870.4,228 871,227 871.9,226 873,225 874,224.6 874.8,224 875.9,223 876.9,222 877.9,221 878.9,220 879.9,219 881,218.5 881.8,218 883,217.5 883.8,217 885,216.6 886,216.5 886.7,216 888,215.5 888.7,215 890,214.5 890.7,214ZM788,215 789,214.7 790,214.7 791,214.6 792,214.3 793,214.6 794,214.7 795,215 796,215.6 797,216 798,216.6 799,216.7 800,217 801,217.7 801,219 800.3,220 800,221 799,221.3 798,221.3 797,221.3 796,221.4 795.1,222 794,222.3 793,222.3 792,222.3 791,222.4 790.2,223 789,223.3 788,223.4 787,223.4 786,223.5 785.2,224 784.1,225 783.5,226 783.1,227 782.2,228 781.5,229 781.1,230 780.8,231 781.2,232 782,232.8 783,233.9 784,234.9 785,235.8 786,236.4 787,236.6 788,236.6 789,236.6 790,236.6 791,236.6 792,236.6 793,236.6 794,236.6 795,236.6 796,236.6 797,236.6 798,236.7 799,236.7 800,236.7 801,236.7 801.4,238 802,238.9 802.3,240 801.2,241 800.1,242 799,242.4 798.2,243 797.1,244 796,244.5 795.2,245 794,245.4 793,245.4 792,245.4 791,245.4 790,245.4 789,245.4 788,245.5 787,245.5 786,245.5 785,245.5 784,245.5 783,245.5 782,245.5 781,245.7 780,246 779,245.3 778,244.7 777,244.2 776,243.3 775,242.3 774.4,242 773,241.2 772.4,240 772.2,239 771.8,238 771.4,237 771.4,236 771.3,235 770.8,234 770.8,233 771.3,232 771.8,231 772.8,230 773.4,229 773.8,228 774.4,227 774.4,226 773.3,225 772,225.2 771,225.5 770,225.5 769,225.6 768.4,226 767,226.5 766,226.7 765,227.2 764,227.7 763,228.2 762,228.7 761,229.3 760,229.7 759,230.3 758,230.8 757,231.3 756,231.8 755,232.3 754,232.7 753,232.9 752,233.4 751,233.8 750,234 749,234.4 748,234.8 747,235 746,235.3 745,234.6 744,234.1 743,233.6 742.3,233 741.3,232 740,231.1 739.2,230 740,229.5 741,229.1 742,229 743,228.5 744,228 745,227.6 746,227.3 747,227.1 748,226.7 749,226.2 750,225.7 751,225.4 752,225.2 753,224.7 754,224.3 755,223.8 756,223.5 757,223.3 758,222.8 759,222.5 760,222.5 761,222.3 761.6,222 763,221.5 764,221.4 764.6,221 766,220.6 767,220.4 767.7,220 769,219.6 770,219.5 771,219.4 771.7,219 773,218.6 774,218.5 774.7,218 776,217.6 777,217.6 778,217.5 778.8,217 780,216.7 781,216.6 782,216.6 783,216.5 783.8,216 785,215.7 786,215.7 787,215.6 787.9,215ZM918,280.7 919,280.3 920,280.3 921,280.3 922,280.7 923,281.7 923.6,283 923.2,284 922.3,285 921,285.6 920,285.6 919,285.3 918,284.4 917,283.4 916.7,282 917.6,281ZM726,387.7 727,387.4 728,387.8 729,388.7 729.7,390 730,390.8 729.7,392 729.2,393 728,393.5 727,393.6 726,393.6 725,393.2 724.4,392 724.4,391 724.4,390 724.7,389 725.7,388ZM774,388.6 775,388.3 776,388.3 777,388.6 777.8,389 779,389.7 779.7,390 781,390.7 781.6,392 781.2,393 780,393.7 779,394.3 778,394.7 777,395.3 776,395.6 775,395.6 774,395.3 773.4,395 772,394.6 771,394.3 770.4,394 769.4,393 769.3,392 769.4,391 770,390.2 771,389.7 772,389.3 773,389.1 774,388.6ZM704,394.7 705,394.7 705.7,395 706.6,396 706.7,397 706.6,398 706,398.7 705,399.2 704,399.2 703,398.7 702.4,398 702.3,397 702.4,396 703,395.2 704,394.7ZM421,408.9 422,408.9 423,408.9 424,408.9 424.1,410 423,410.1 422,410.1 421,410.1 420.9,409ZM548,412.8 549,412.6 550,412.6 551,412.6 552,412.6 553,412.6 554,412.6 555,412.8 556,413.6 557,414.6 558,415.6 559,416.6 560,417.6 561,418.8 561.4,420 561.4,421 561.4,422 561.4,423 561.4,424 561.2,425 560.4,426 559.4,427 558.4,428 557.4,429 556.4,430 555.2,431 554,431.4 553,431.4 552,431.4 551,431.4 550,431.4 549,431.4 548,431.2 547,430.6 546,430.2 545,429.4 544,428.4 543,427.4 542,426.4 541,425.4 540,424.2 539.6,423 539.6,422 539.6,421 539.8,420 540.6,419 541.6,418 542.6,417 543.6,416 544.6,415 545.8,414 547,413.4 547.7,413ZM715,413.9 716,413.8 717,413.6 718,413.9 719,414.3 720,414.9 721,415.4 722,415.9 722.9,417 722.7,418 722.2,419 722.1,420 722.1,421 721.9,422 721.4,423 721.3,424 721.3,425 721.3,426 721.3,427 721.3,428 721.3,429 721.3,430 721.3,431 721,432 720.4,433 720.3,434 720.3,435 720.3,436 720.3,437 720.3,438 720.2,439 720,440 719.4,441 719,442 718.1,443 717.2,444 716.4,445 716,446 715.2,447 714.2,448 713.5,449 713,450 712,451 711,451.4 710.1,452 709,452.4 708.1,453 707,453.5 706.1,454 705,454.5 704.2,455 703,455.5 702.2,456 701,456.5 700.3,457 699,457.6 698.3,458 697,458.4 696,458.4 695,458.4 694,458.4 693,458.4 692,458.4 691,458.4 690,458.4 689,458.4 688,458.4 687,458.4 686,458.4 685,458.4 684,458.2 683,457.4 682,456.4 681,455.4 680,454.2 679.4,453 679,452.4 678,451.4 677,450.2 676.4,449 676,448.4 675,447.2 674.6,446 674.4,445 674,444.3 673.6,443 673.6,442 673.4,441 673,440.3 672.5,439 672,438.2 671.4,437 670,436.3 669,436 668,435.3 667,435.1 666,434.8 665,434.2 664,434 663,433.6 662,433.1 661,432.9 660,432.5 659.4,432 658.5,431 658,430 657.5,429 657,428.3 657.5,427 659,426 660,425.4 661,424.4 662,423.5 663,423.1 664,423 665,423 666,423 667,423 668,423 669,422.9 670,422.9 671,422.9 672,422.9 673,422.9 674,422.8 675,422.2 675.7,422 677,421.9 678,421.9 679,421.9 680,421.9 681,421.9 682,421.8 683,421.8 684,421.8 685,421.8 686,421.8 687,421.7 688,421.7 689,421.7 690,421.6 691,421.6 692,421.4 692.7,421 694,420.6 695,420.4 695.7,420 697,419.6 698,419.4 698.7,419 700,418.6 701,418.5 701.9,418 703,417.7 704,417.5 704.9,417 706,416.7 707,416.6 708,416 709,415.8 710,415.6 711,415 712,414.8 713,414.7 714,414.1 715,413.9ZM728,442.5 729,442.1 730,442.1 731,442.1 732,442.1 733,442.5 734,443 734.8,444 734.8,445 734.1,446 733,446.6 732.3,447 731,447.4 730,447.2 729,447.1 728,446.7 727.3,446 727,445.2 727,444 727.4,443 728,442.5ZM721,449.8 722,449.6 723,449.6 724,449.6 725,449.6 726,449.8 727,450.5 728,450.9 729,451.9 729.3,453 729.4,454 729.4,455 729.4,456 729.2,457 728.4,458 727.4,459 726.4,460 725.2,461 724,461.6 723.3,462 722,462.4 721,462.4 720,462.4 719,462.4 718,462.2 717,461.5 716,461.1 715,460.1 714.7,459 714.6,458 714.6,457 714.6,456 714.8,455 715.6,454 716.6,453 717.6,452 718.8,451 720,450.4 720.7,450ZM773,455.8 774,455.4 775,455.4 776,455.3 777,455.3 778,455.3 779,455.3 780,455.3 781,455.6 782,456.5 782.5,457 783,457.7 783,458.8 782.4,460 781.4,461 780,461.7 779,461.9 778,462.3 777,462.6 776,462.3 775.3,462 774,461.6 773,461.2 772,460.2 771.5,459 771.5,458 771.8,457 772.7,456ZM660,461.8 661,461.6 662,461.6 663,461.6 664,461.6 665,461.6 666,461.8 667,462.7 668,463.8 668.4,465 668.4,466 668.2,467 667.6,468 667.2,469 666.4,470 665.4,471 664.4,472 663.4,473 662.4,474 661.4,475 660.4,476 659.2,477 658,477.6 657.3,478 656,478.6 655.3,479 654,479.4 653,479.4 652,479.4 651,479.4 650,479.4 649,479.3 648,479 647.5,478 647,477.3 646.6,476 646.6,475 646.8,474 647.4,473 647.8,472 648.6,471 649.6,470 650.6,469 651.6,468 652.6,467 653.6,466 654.6,465 655.8,464 657,463.4 657.7,463 659,462.4 659.7,462ZM745,466.8 746,466.8 747,467.7 747.5,469 747.7,470 748,470.8 747.7,472 747.5,473 747.2,474 746,474.5 745,474.2 744,473.2 743.4,472 743.4,471 743.4,470 743.7,469 744.3,468 744.8,467ZM673,481.8 674,481.6 675,481.6 676,481.6 677,481.6 678,481.6 679,481.7 679.9,482 680.4,483 681,483.9 681,485 680.5,486 680.4,487 680.2,488 679.4,489 678.4,490 677.4,491 676.2,492 675,492.4 674,492.4 673,492.4 672,492.4 671,492.4 670,492.3 669.1,492 668.6,491 668,490.1 668,489 668.5,488 668.6,487 668.8,486 669.6,485 670.6,484 671.6,483 672.8,482ZM739,496.9 740,496.9 740.5,498 741,498.7 741.4,500 741.5,501 741.5,502 741.5,503 741.4,504 741.1,505 740.5,506 740.1,507 739,507.1 738.5,506 738,505.3 737.6,504 737.6,503 737.6,502 737.6,501 737.6,500 737.9,499 738.5,498 738.9,497ZM832,530.5 833,530.1 834,530 835,530.1 836,530.5 836.6,531 837.4,532 837.8,533 837.4,534 837,534.9 836.4,536 835.4,537 834,537.9 833,538.3 832,538.7 831,538.7 830,538.7 829,538.3 828.2,538 827.3,537 827.3,536 827.6,535 828,534 828.6,533 829.9,532 831,531.4 832,530.5ZM846,537.5 847,537.1 848,537.1 849,537 850,537.1 851,537.5 851.5,538 851.9,539 851.9,540 851.5,541 851,541.5 850,541.9 849,542 848,542.2 847.1,542 846,541.4 845.2,540 845.2,539 845.5,538 846,537.5ZM864,539.9 865,539.7 866,539.8 867,540.4 868,540.6 869,540.8 870,541.4 871,541.6 872,541.6 873,541.8 874,542.7 875,543.8 875.4,545 875.4,546 875.6,547 876,547.7 876.4,549 876.4,550 876.4,551 876.4,552 876.2,553 875.4,554 874.4,555 873.4,556 872.4,557 871.4,558 870.4,559 869.4,560 868.2,561 867,561.3 866,561.2 865,560.6 864,560.4 863,560.4 862,560.4 861,560.4 860,560.2 859,559.3 858,558.2 857.6,557 857.6,556 857.4,555 857,554.3 856.6,553 856.6,552 856.6,551 856.6,550 856.8,549 857.4,548 857.8,547 858.6,546 859.5,545 859.9,544 860.7,543 861.6,542 862.6,541 863.8,540ZM879,557.9 880,557.7 881,557.8 882,558.4 883,558.6 884,558.8 885,559.4 886,559.6 887,559.8 888,560.7 889,561.8 889.4,563 889.4,564 889.4,565 889.4,566 889.2,567 888.6,568 888.4,569 888.4,570 888.2,571 887.3,572 886.2,573 885,573.6 884.3,574 883,574.4 882,574.6 881.3,575 880,575.6 879.3,576 878,576.3 877,576.1 876,575.4 875,574.6 874,574.2 873,573.3 872,572.2 871.6,571 871.6,570 871.6,569 871.6,568 871.6,567 871.6,566 871.8,565 872.6,564 873.6,563 874.6,562 875.6,561 876.6,560 877.6,559 878.8,558ZM825,637.5 826,637.3 827,637.2 828,637.2 829,637.2 830,637.2 831,637.2 832,637.3 833,637.5 833.8,638 835,638.5 835.8,639 837,639.5 837.7,640 839,640.7 840,641.5 840.6,642 842,642.8 843,643.6 844,644.5 845,644.9 846,645.9 846.4,647 846.7,648 846.4,649 846,650 845.4,651 845,652 844,653 843,653.5 842.3,654 841.3,655 840.4,656 839.4,657 838.3,658 837,658.6 836,659.5 835.4,660 834.4,661 833.4,662 832.3,663 831.2,664 830,664.7 829,664.4 828,664.3 827,664.3 826,664 825,663.2 824,662.1 823.5,661 823,660.4 822,659.3 821.3,658 820.4,657 819.5,656 819.1,655 818.5,654 818.1,653 817.5,652 817.3,651 817.2,650 817.2,649 817.2,648 817.2,647 817.2,646 817.3,645 817.5,644 818,643.2 818.3,642 818.6,641 820,640.3 821,640.1 822,639.3 823,638.5 824,638.1 825,637.5ZM921,655.9 922,655.1 923,655.5 923.4,657 923.4,658 923.4,659 923.1,660 922.5,661 922.1,662 921.1,663 920,663.7 919,663.1 918.6,662 918.6,661 918.9,660 919.5,659 919.6,658 919.9,657 920.9,656Z"/>
<path fill="#3399FF" fill-rule="evenodd" d="M648,94.8 649,95 649.9,96 649.6,97 649,97.6 648,97.9 647,97.1 646.8,96 647.6,95ZM682,97 683,98 682,98.7 681,99.3 680.3,100 679,100.8 678,101.4 677,102 676,102.5 675.1,103 674.1,104 673.6,105 673.1,106 673,107 673.1,108 673.8,109 674.7,110 675.7,111 676.6,112 676.9,113 676.7,114 676,114.4 675.5,114 675,113.6 674,113 673,112.5 672.3,112 671,111.1 670,111 669,111 668,111 667,110.9 666,110.9 665,110.9 664,110.8 663,111 662,111.4 661,111.7 660,111.7 659,111.8 658,112.3 657,112.6 656,112.7 655,113.2 654,113.6 653.4,114 652,114.5 651,114.7 650,115.2 649,115.5 648,115.6 647,115.6 646,115.6 645,115.6 644,115.6 643,115.8 642,116.1 641,115.8 640,115.4 639.5,115 639,114.5 638.2,114 638.4,113 639,112.3 640,111.3 641,110.2 642,109.3 642.6,109 644,108.3 644.6,108 646,107.3 646.8,107 648,106.8 649,106.3 649.6,106 651,105.3 651.6,105 653,104.3 653.9,104 655,104 656,104 657,104 658,103.9 659,103.3 659.9,103 661,103 662,103 663,102.9 664,102.4 665,102.1 666,102 667,101.5 668,101 669,100.6 670,100.3 671,100.1 672,99.7 673,99.3 674,98.8 675,98.5 676,98.5 677,98.3 678,97.8 679,97.6 680,97.5 681,97.4 681.9,97ZM786,98.8 787,99 788,99.2 789,99.2 790,99.2 791,99.2 792,99.2 793,99.2 794,99.3 795,99.3 796,99.3 797,99.4 797.9,100 798.4,101 799,101.9 799.4,103 799.1,104 798,104.6 797.4,105 796,105.8 795,106.3 794,106.9 793,107.3 792,108 791,108.4 790.1,109 789,109.3 788,109.5 787.2,110 786,110.4 785,110.6 784.3,111 783,111.6 782.4,112 781,112.5 780,112.7 779,113.3 778,113.6 777,113.8 776,114.7 775,115.5 774,115.9 773,116.9 772.4,118 772.6,119 772.5,120 772,120.5 771,121 770,121.9 769,123 768,124 767,125 766,125.7 765.1,126 764,126.7 763.1,127 762,127.7 761.1,128 760,128.7 759.2,129 758,129.9 757,130.7 756.1,131 755,131.7 754.1,132 753,132.7 752.1,133 751,133.7 750,134 749,134.6 748,134.8 747.1,135 746,135.7 745.1,136 744,136.7 743.1,137 742,137.9 741,138.7 740.1,139 739,139.7 738.2,140 737,140.7 736.3,141 735,141.8 734,142.2 733,142.8 732,143.3 731,143.9 730,144.4 729,144.9 728,145.4 727,145.9 726,146.5 725.3,147 724,147.9 723,148.5 722.3,149 722,149.7 723,151 724,151.4 724.8,152 726,152.6 726.5,153 727,153.5 727.6,154 729,154.8 730,155.5 731,155.9 732,156.6 732.9,157 734,157.9 733.7,159 733,159.7 732,160.7 731,161.6 730,162.5 729,162.9 728,163 727,163.1 726,163.6 725.1,164 724,164.1 723,164.1 722,164.2 721,164.8 720,165.1 719,165.2 718,165.3 717,165.9 716,166.3 715.1,167 714,167.9 713,168.3 712,168.9 711,169.3 710,170 709,170.8 708,171.2 707,171.7 706,172.2 705,172.9 704,173.8 703,174.3 702,175 701,175.9 700,176.3 699.1,177 698,178 697,178.4 696.1,179 695,180 694,180.4 693,181 692,181.4 691,182 690,182.4 689.2,183 688,184 687,184.4 686.1,185 685,185.5 684.2,186 683,186.5 682.3,187 681,187.6 680.4,188 679.3,189 678,189.6 677.4,190 676,190.6 675.5,191 675,191.4 674.3,192 673,192.6 672.3,193 671,193.6 670.3,194 669,194.6 668.3,195 667,195.6 666.3,196 665,196.6 664.3,197 663,197.6 662.3,198 661,198.5 660.4,199 659.2,200 658,200.5 657.2,201 656,201.5 655.2,202 654,202.5 653.3,203 652.2,204 651,205 651.5,206 652,206.5 653,207.6 653.5,208 654,208.4 655,208.8 656,209.8 657,210.8 658,211.6 659,211.8 660,212.2 661,212.7 662,212.9 663,213.1 664,213.7 665,213.9 666,214.2 667,214.7 668,214.9 669,215.2 670,215.7 671,215.9 672,216.1 673,216.7 674,216.8 674.9,217 676,217.8 677,218.5 678,218.9 679,219.6 679.5,220 680,220.4 681,220.7 682,221.5 682.7,222 684,222.6 684.6,223 685.9,224 687,224.4 688,225 689,225.1 690,225.2 691,225.2 692,225.2 693,225.3 694,225.8 694.7,226 696,226.1 697,226 698,226 699,226 700,226 701,226 702,226 703,226 704,226 705,226 706,226 707,226 708,225.6 709,225.1 710,225 711,225 712,225 713,224.7 714,224.2 715,224.1 716,224.1 717,224.3 718,225 719,225.4 719.8,226 720.9,227 722,227.5 722.7,228 724,228.6 725,229.5 725.5,230 726,230.5 726.5,231 727,231.6 728,232.7 729,233.8 730,234.8 731,235.9 732,236.8 733,237.8 734,238.7 735,239.7 736,240.6 737,241.5 737.5,242 738,242.5 738.6,243 739.6,244 740.7,245 741.8,246 742.9,247 743.9,248 745,249 746,249.3 747,249.4 748,249.4 749,249.5 750,249.6 751,249.7 752,250 752.5,251 753,251.8 753.5,253 754,253.8 754.4,255 754.9,256 754.6,257 754,257.3 753.2,258 752.1,259 751,259.5 750.3,260 749.1,261 748,261.5 747.2,262 746,262.4 745,262.6 744.4,263 743,263.7 742,264.4 741,264.9 740.1,266 741,266.3 741.9,267 743,267.5 743.7,268 745,268.6 745.6,269 747,269.6 747.6,270 749,270.6 749.6,271 751,271.6 752,272.4 752.7,273 754,273.6 754.6,274 755.7,275 756.9,276 758,276.5 758.7,277 759.8,278 761,278.6 761.6,279 762.7,280 763.8,281 765,281.6 765.6,282 766.7,283 767.9,284 769,284.5 769.7,285 770.9,286 772,287 773,287.4 773.9,288 775,288.9 776,289.2 777,289.3 778,289.3 779,289.3 780,289.4 781,289.4 782,289.5 783,289.5 784,289.5 785,289.5 786,289.5 787,289.5 788,289.5 789,289.5 790,289.4 791,289.3 792,289.3 793,289.1 792,288.6 791,288.6 790,288.3 789,287 790,286.2 791,285.9 792,285.8 793,285.6 794,285.8 795,285.9 796,286 797,286 798,286 799,286.4 800,286.9 801,287 802,287.1 803,287.1 804,287.1 805,287.5 806,287.9 807,288.4 808,288.9 809,289.3 810,289.9 811,290.3 812,290.8 813,291.3 814,291.8 815,292.2 816,292.8 817,293.2 817.9,294 818.9,295 820,295.8 821,296.3 821.8,297 822.9,298 824,299 825,299.7 826,299.8 827,299.9 828,299.9 829,299.7 830,299.2 831,298.9 832,298.9 833,298.9 834,298.8 835,298.2 836,297.9 837,297.9 838,297.9 839,297.7 840,297.1 841,296.7 842,296 843,295.2 844,294.8 845,294.2 846,293.8 847,293.2 848,292.8 849,292 850,291.2 851,290.8 852,290.2 853,289.8 854,289.2 855,288.8 856,288.2 857,287.8 858,287.2 859,286.7 860,286 861,285.1 862,284.7 863,284 864,283.6 864.9,283 866,282.5 866.8,282 868,281.6 869,281.4 869.7,281 871,280.6 872,280.5 873,280.3 874,279.7 875,279.4 876,279.2 877,278.6 878,278.3 879,278.1 880,277.3 881,276.6 882,276.2 883,275.4 884,274.6 885,274.3 886,273.5 886.7,273 888,272.4 888.7,272 890,271.5 890.8,271 892,270.5 892.9,270 894,269.6 894.9,269 896,268.7 897,268.6 897.9,268 899,267.6 900,267.3 901,267.7 902,267.9 903,267.9 904,268.2 904.1,269 904.3,270 904,271 903.5,272 903,273 902.5,274 902.1,275 901.6,276 901.1,277 900.6,278 900.2,279 900.1,280 900,281 900,282 900,283 900,284 899.4,285 898,286 897,286.9 896,287.3 895,288 894,288.5 893.3,289 892.1,290 891,290.5 890.4,291 889.3,292 888.5,293 888,294 887,295 886,295.3 885,295.3 884,295.6 883.4,296 882.4,297 881.5,298 881,298.6 880,299.8 879.7,301 879.5,302 879,302.7 878,303.9 877,304.9 876,305.9 875,306.7 874.1,307 873,307.9 872,308.7 871.2,309 870,309.7 869.3,310 868,310.8 867.3,311 866,311.9 865,312.8 864,313.8 863,314.9 862,316 861.6,317 861,317.7 860,318.7 859,319.8 858.3,321 857.4,322 856.6,323 856.1,324 855.2,325 854,325.5 853,325.6 852,325.8 852.2,327 853,327.3 853.9,328 855,328.5 855.7,329 857,329.6 857.6,330 859,330.7 860,331.3 861,331.7 862,332.3 863,332.5 864,332.5 865,332.6 866,332.6 867,332.6 868,332.6 869,332.7 870,332.7 871,332.7 872,332.7 873,332.6 874,332.6 875,332.6 876,332.5 877,332.5 878,332.5 879,332.5 880,332.6 881,332.6 882,332.7 883,332.7 884,332.7 885,332.8 886,332.8 887,332.8 888,332.9 889,332.8 890,332.5 891,332.8 892,332.9 893,333 894,333.4 895,333.9 896,334 897,334.3 898,334.8 899,334.9 900,334.9 901,335.2 902,335.7 903,335.8 904,335.9 905,336.1 906,336.7 907,337 908,337.6 909,338 910,338.6 911,338.9 912,339.5 913,339.9 914,340.6 914.8,341 915.3,342 916,343 916.3,344 916.9,345 917.3,346 917.9,347 918.3,348 919,349 920,349.7 921,349.9 922,349.9 923,349.9 924,349.9 925,349.9 926,349.9 927,350 928,350 929,350 930,350 931,349.9 932,349.9 933,349.9 934,349.9 935,349.9 936,349.9 937,350.5 937.4,352 937.5,353 937.6,354 937.7,355 937.8,356 938,357 938,358 938,359 938,360 938,361 938,362 938,363 938,364 938,365 938,366 938,367 938,368 938,369 938,370 938,371 938,372 938,373 938,374 938,375 938,376 938,377 938,378 938,379 938,380 938,381 938,382 938,383 938,384 938,385 938,386 938,387 938,388 938,389 938,390 938,391 938,392 938,393 938,394 938,395 938,396 938,397 938,398 938,399 938,400 938,401 938,402 938,403 938,404 938,405 938,406 938,407 938,408 938,409 938,410 938,411 938,412 938,413 938,414 938,415 938,416 938,417 938,418 938,419 938,420 938,421 938,422 937.7,423 937.5,424 937,425 936,425.4 935.1,426 934,426.4 933,426.6 932.4,427 931,427.7 930,428.3 929,428.4 928,428.6 927.2,429 926,429.4 925.1,430 924,430.7 923.4,431 922,431.6 921.1,432 920,431.7 919.4,432 918,432.4 917,432.4 916,432.4 915,432.4 914,432.5 913.1,433 912,433.3 911,433.3 910,433.3 909,433.3 908,433.4 907,434 906,434.2 905,434.3 904,434.3 903,434.2 902,434.3 901,434.9 900,435.2 899,435.1 898,434.3 897,433.4 896,432.6 895.5,432 895,431.2 894.5,430 894,429 893.7,428 893.7,427 895,426 896,425.7 896.9,425 898,424.6 898.9,424 900,423.6 900.8,423 901.5,422 901.9,421 902.5,420 902.9,419 903.4,418 903.3,417 902.4,416 901,415.6 900,415.5 899,415.5 898,415.5 897,415.5 896,415.5 895,415.5 894,415.4 893,415.4 892,415.4 891,415.2 890,414.8 889,415.2 888,415.5 887,415.5 886,415.5 885,415.7 884,416.2 883,416.5 882,416.5 881,416.6 880,416.7 879,417.2 878,417.5 877,417.6 876,417.6 875,417.7 874,418.2 873,418.5 872,418.6 871,418.6 870,418.8 869,419.3 868,419.7 867,420.2 866,420.6 865.4,421 864,421.6 863.3,422 862,422.5 861.3,423 860,423.5 859.3,424 858.5,425 858.4,426 859,426.9 859.3,428 859.4,429 860,429.9 860.3,431 861,431.9 862,432.7 862.6,433 862.7,434 862.4,435 862,435.6 861,437 860,437.9 859,438.4 858,438.9 857,439.5 856.4,440 855,440.9 854,441.4 853,441.8 852,441.9 851,441.6 850,441 850.4,440 851,439.6 851.5,439 851,438.4 850,438.2 849.3,438 848,437.3 847,437.2 846,437.1 845,436.5 844,436.3 843,436.2 842,435.6 841,435.4 840,435.3 839,434.7 838,434.5 837,434.5 836,434.4 835,433.3 835.4,432 836,431.3 836.8,430 836,429.7 835,429.6 834,429.6 833,429.5 832,429.5 831,429.5 830,429.5 829,429.5 828,429.6 827,429.6 826,429.6 825,429.6 824,429.6 823,429.6 822,429.6 821,429.6 820,429.6 819,429.6 818,429.6 817,429.6 816,429.4 815.2,429 814,428.7 813,428.7 812,428.7 811,428.5 810.1,428 809,427.8 808,427.7 807,427.7 806,427.7 805,427.5 804.3,427 803.2,426 802.3,425 801.3,424 800.4,423 799.5,422 799,421.5 798,420.2 797.6,419 797.8,418 798.2,417 798.4,416 798.3,415 798.3,414 798.5,413 799,412.1 799.3,411 799.6,410 801,409.3 802,409 803,408.2 804,407.5 805,407.4 806,407.3 807,407.2 808,406.7 809,406.4 810,406 811,406.4 812,406.6 813,406.6 814,406.8 815,407.3 816,407.5 817,407.7 818,408.3 819,408.5 820,408.6 821,408.8 822,409.4 823,409.6 824,409.7 825,409.9 826,410.5 827,410.7 828,410.8 829,410.8 830,410.8 831,410.8 831.8,411 833,411.7 834,411.8 835,411.9 836,411.9 837,411.9 838,411.9 839,411.9 840,411.9 841,411.9 842,411.9 843,411.9 844,411.7 845,411.1 846,410.9 847,410.8 848,410.8 849,410.7 850,410.3 851,410.6 852,410.9 853,411.5 854,411.6 855,411.7 856,412.3 857,412.2 857.7,411 857.1,410 856.2,409 855.6,408 855.5,407 855.7,406 856.3,405 856.7,404 857.5,403 858,402.5 858.5,402 859,401.4 859.7,400 860.5,399 861,398.5 861.5,398 862,397.4 863,396.3 864,395.2 864.5,394 865,393.2 866,392.1 867,391 867.9,390 868.9,389 869.7,388 870.1,387 870.8,386 871.7,385 872.6,384 873,383.2 873.6,382 874,381.2 874.5,380 874.6,379 874,378.1 873,377 872,376 871,375 870,374 869,373.2 868,372.9 867,372.8 866,372.8 865,372.8 864,372.7 863,372.7 862,372.7 861,372.7 860,372.6 859,372.6 858,372.6 857,372.6 856,372.6 855,372.6 854,372.6 853,372.6 852,372.6 851,372.6 850,372.7 849,372.7 848,372.7 847,372.7 846,372.7 845,372.7 844,372.7 843,372.7 842,372.7 841,372.8 840,372.6 839,372.1 838,371.9 837,371.9 836,371.9 835,371.9 834,371.8 833,371.8 832,371.8 831,371.6 830,371.1 829,370.9 828,370.8 827,370.8 826,370.8 825,370.8 824,370.8 823,370.8 822,370.6 821,370.1 820,369.9 819,369.9 818,369.8 817,369.8 816,369.8 815,369.8 814,369.8 813,369.8 812,369.8 811,369.8 810,369.8 809,369.8 808,369.9 807,369.9 806,369.9 805,369.9 804,369.8 803,369.8 802,369.8 801,369.8 800,369.8 799,369.8 798,369.8 797,369.8 796,369.8 795,369.8 794,369.8 793,369.8 792,369.8 791,369.8 790,369.8 789,369.8 788,369.8 787,369.7 786,369.7 785,369.7 784,369.7 783,369.7 782,369.7 781,369.9 780,370.5 779,370.7 778,370.9 777,371.5 776,371.8 775,372.2 774,371.8 773,371.7 772,371.7 771,371.7 770,371.7 769,371.6 768.1,371 767,370.7 766,370.6 765,370.3 764,369.6 763.4,369 762.5,368 762.1,367 761.2,366 760.2,365 759.2,364 758.4,363 758,362 757.1,361 756,360 755,359.6 754,359 753,358.8 752,358.6 751,358 750,357.7 749,357.1 748,356.9 747,356.7 746,356.2 745,355.9 744,355.9 743,355.9 742,355.9 741,355.9 740,355.9 739,355.8 738,355.8 737,355.8 736,355.8 735,355.7 734,355.7 733,355.7 732,355.7 731,355.7 730,355.7 729,355.7 728,355.7 727,355.7 726,355.7 725.2,356 724.6,357 724,357.9 723.5,359 723,359.8 722.5,361 722,361.7 721.4,363 721,363.6 720.4,365 719.6,366 719,366.6 718,367.6 717,368.7 716,369.7 715,370.7 714,371.7 713,372.7 712,373.6 711,374.6 710,375.5 709.5,376 709,376.5 708.4,377 707,377.5 706,377.4 705.3,377 704,376.5 703.2,376 702,375 701,374.7 700,374 699,373 698,372 697.1,371 696.4,370 696,369 695.4,368 695.1,367 694.5,366 694.2,365 693.6,364 693.3,363 692.7,362 692.5,361 692.5,360 692.5,359 692.5,358 692.5,357 692.5,356 692.5,355 692.5,354 692.5,353 692.5,352 692.5,351 692.3,350 691.7,349 691.2,348 690.6,347 690.1,346 689,345.4 688,344.6 687.3,344 686,343.4 685.2,343 684,342.7 683,342.6 682,342.6 681,342.6 680,342.6 679,342.6 678,342.7 677,342.7 676,342.7 675,342.8 674,342.8 673,342.7 672,342.7 671,342.8 670,342.9 669,343.5 668,343.8 667,344.5 666,344.7 665,344.9 664,345.6 663,346 662,346.9 661,348 660.5,349 660,349.6 659,350.6 658,351.6 657.2,353 656.2,354 655,354.6 654,354.5 653,354.3 652,354.9 651,355.7 650.4,356 649.2,357 649,357.7 648,358.6 647.3,359 646,359.7 645.3,360 644.1,360 643,360.4 642,360.5 641,360.5 640,360.5 639,360.5 638,360.5 637,360.3 636,359.7 635,359.3 634,358.7 633,358.5 632,358.5 631,358.3 630,357.5 629.5,357 629,356.5 628.5,356 628,355.5 627.5,355 627,354.5 626.5,354 626,353.5 625.5,353 625,352.5 624.5,352 624,351.4 623.3,350 622.5,349 622,348.5 621.5,348 621,347.4 620.3,346 619.7,345 619.3,344 618.7,343 618.5,342 618.5,341 618.3,340 617.7,339 617.5,338 617.3,337 616.7,336 616.5,335 616.3,334 615.7,333 615.2,332 614,331.6 613,331.5 612,331.5 611,331.5 610,331.5 609,331.5 608,331.5 607,331.5 606,331.5 605,331.5 604,331.5 603,331.5 602,331.5 601,331.5 600,331.5 599,331.3 598,330.5 597.5,330 597,329.5 596.5,329 596,328.5 595.5,328 595,327.5 594.5,327 594,326.4 593.5,325 593.4,324 593.4,323 593.3,322 593.3,321 593.3,320 593.2,319 593,318.2 592,317.7 591,317.7 590,318 589,318.6 588,318.9 587,319.7 586,320.3 585,320.5 584,320.7 583,321.3 582,321.5 581,321.3 580,320.5 579.5,320 579,319.5 578.5,319 578,318.4 577.3,317 576.7,316 576.3,315 575.7,314 575.3,313 574.5,312 574,311.4 573.5,310 573.3,309 572.7,308 572.3,307 571.7,306 571.5,305 571.3,304 570.7,303 570.4,302 570,301.4 569.3,300 568,299.1 567,298.4 566,298 565,297.4 564,297 563,296.3 562,295.6 561,295.2 560,294.7 559,294.4 558.3,294 557,293.5 556.2,293 555,292.6 554.1,292 553,291.7 552,291.6 551,291 550,290.7 549,290.6 548.1,290 547,289.7 546,289.5 545.2,289 544,288.7 543,288.5 542.2,288 541,287.6 540,287.5 539.2,287 538,286.5 537.2,286 536,285.5 535.1,285 534,284.6 533,284.1 532,284.3 531.2,285 530.1,286 529.2,287 528.9,288 528.7,289 528.1,290 528.4,291 529,291.7 529.9,293 530.2,294 530.3,295 530.3,296 530.1,297 529.8,298 529.5,299 529,300 528.5,301 528,301.8 527.2,303 526.5,304 526,304.5 525,305.7 524,306.7 523,307.7 522,308.6 521,309.4 520.3,310 519,310.9 518,311.6 517.3,312 516,312.8 515,313.3 514,313.8 513,314.2 512,314.6 511,314.9 510,315.2 509,315.5 508,315.6 507,315.7 506,315.7 505,315.6 504,315.4 503,315 502,314.3 501.1,313 500.8,312 500.7,311 500.7,310 500.9,309 501.2,308 501.5,307 502,306 502.5,305 503,304.2 503.8,303 504.3,302 504.2,301 503,300.6 502,300.5 501,300.3 500,299.7 499,299.5 498,299.5 497,299.5 496,299.3 495,298.7 494,298.5 493,298.5 492,298.3 491,297.5 490.5,297 490,296.5 489.4,296 488,295.3 487,294.5 486.5,294 486,293.5 485.5,293 485,292.5 484.4,292 483,291.3 482,290.5 481.5,290 481,289.5 480.5,289 480,288.5 479.5,288 479,287.5 478.5,287 478,286.4 477.3,285 476.7,284 476.3,283 475.7,282 475.3,281 474.7,280 474.3,279 473.7,278 473.3,277 472.7,276 472.5,275 472.5,274 472.7,273 473.3,272 473.5,271 473.7,270 474.5,269 475,268.5 475.5,268 476,267.5 476.6,267 478,266.3 479,265.7 480,265.2 481,264 480.6,263 480.3,262 479.5,261 479,260.4 478.3,259 477.5,258 477,257.5 476.5,257 476,256.5 475.5,256 475,255.5 474.5,255 474,254.5 473.5,254 473,253.5 472.5,253 472,252.5 471.5,252 471,251.5 470.5,251 470,250.5 469.5,250 469,249.5 468.4,249 467,248.3 466,247.5 465.5,247 465,246.5 464.5,246 464,245.5 463.5,245 463,244.5 462.4,244 461,243.3 460,242.5 459.5,242 459,241.5 458.5,241 458,240.5 457.5,240 457,239.5 456.5,239 456,238.5 455.5,238 455,237.5 454.5,237 454,236.5 453.5,236 453,235.5 452.5,235 452,234.5 451.5,234 451,233.5 450.5,233 450,232.5 449.5,232 449,231.5 448.5,231 448,230.5 447.5,230 447,229.4 446.3,228 445.7,227 445.3,226 444.7,225 444.5,224 444.3,223 443.7,222 443.3,221 442.7,220 442.5,219 442.5,218 442.4,217 442.2,216 441,215.1 440,214.4 439,214 438,213.1 437,212.3 436.3,212 435,211.2 434,210.8 433,210.6 432,210.7 431,210.9 430,210.8 429,210.7 428,210.3 427,209.7 426,209 425,208 424.2,207 423.6,206 423.1,205 422.6,204 422.3,203 422,202.1 421.7,201 421.5,200 421.4,199 421.3,198 421.3,197 421.3,196 421.4,195 421.6,194 421.7,193 421.9,192 422.1,191 422.8,190 423.4,189 424,188.1 425,187 426,186.2 427,185.6 428,185.3 429,185.1 430,185.2 431,185.3 432,185.7 432.6,186 434,186.9 435,187.6 435.9,188 437,188.8 438,188.9 439,188.9 440,188.9 441,189.2 442,189.7 443,189.8 444,189.9 444.8,190 446,190.6 447,190.8 448,190.8 449,190.8 450,191 451,191.8 452,192.5 453,192.8 454,193.6 454.5,194 456,194.7 457,195.5 457.5,196 458,196.5 458.8,198 459.5,199 459.9,200 460.6,201 461,202 461.7,203 462,203.8 462.8,205 463.2,206 463.8,207 464.3,208 464.9,209 465.4,210 465.9,211 466.4,212 466.9,213 467.5,214 468,214.7 469,215.7 470,216.8 471,217.7 472,218.2 473,218.8 474,219.7 475,220.5 476,220.9 477,221 478,221 479,221 480,221 481,221 482,221 483,221 484,221 485,221 486,221 487,221 488,221 489,221 490,221 491,221 492,221 493,220.7 494,220.2 495,220.1 496,220.1 497,219.8 498,219.2 499,219.1 500,219.1 501,218.8 502,218.3 503,218.1 504,218.1 505,217.8 506,217.3 507,217.1 508,217.1 509,216.8 510,216.3 511,216.1 512,215.8 513,215.3 514,215.1 515,214.8 516,214.3 517,214.1 518,213.8 519,213.3 519.7,213 521,212.3 522,212.1 523,211.9 524,211.3 525,211.1 526,210.8 527,210.3 528,210.1 529,209.8 529.8,209 530.2,208 531,207 531.8,206 532.2,205 532.9,204 533.3,203 534,202.1 535,201.3 536,201.2 537,201.1 538,200.9 539,200.3 540,200.2 541,200.1 542,199.8 543,199.3 544,199.1 545,198.8 546,198.2 547,198.1 548,198.1 549,197.8 550,197.2 551,197.1 552,197.1 553,197 554,197 555,196.6 556,196.1 557,196 558,196 559,195.9 560,195.5 561,195 562,194.9 563,194.8 564,194.8 565,194.7 566,194.4 566.9,194 568,193.4 569,193 570,192.9 571,192.9 572,192.8 573,192.5 574,192.1 575,192 576,192 577,192 578,192 579,192 580,192 581,192 582,192 583,192.1 584,192.1 585,192.1 586,192.1 587,192.1 588,191.8 589,191.3 590,191.2 591,191.3 592,191.8 593,192.1 594,192.1 595,192.1 596,192.1 597,192.1 598,192.1 599,191.5 599.4,190 599.4,189 599.5,188 599.6,187 599.7,186 599.8,185 599.9,184 600,183 601,182.3 602,182.2 603,182.2 604,181.9 605,181.4 605.8,181 607,180.9 608,180.8 609,180.7 610,180.4 610,179.1 609.6,178 609,177 608.7,176 608,175.1 607,174.3 606,174.1 605,173.6 604,173.1 603,172.9 602,172.5 601,172.1 600,171.2 599.7,170 599,169.1 598,168.1 597,167.1 596,166.3 595,166 594,165.1 593,164.2 592,163.2 591,162.1 590.7,161 592,160 593,159.6 593.9,159 595,158.5 595.8,158 597,157.5 597.7,157 599,156.4 599.6,156 601,155.5 602,155.3 603,154.7 604,154.3 605,153.6 606,153.4 607,153.2 608,152.6 609,152.2 610,151.6 611,151.4 612,151.2 613,150.6 614,150.5 615,150.2 616,149.7 617,149.3 618,148.7 619,148.5 620,148.3 620.6,148 622,147.4 622.7,147 624,146.6 625,146.4 625.8,146 627,145.7 628,145.6 629,145.6 630,145.6 631,145.4 631.7,145 633,144.6 634,144.6 635,144.6 636,144.4 636.7,144 638,143.6 639,143.6 640,143.6 641,143.6 642,143.6 643,143.6 644,143.4 645,143.1 646,143.7 647,144.7 648,145.5 649,145.6 650,145.9 650.2,147 650.2,148 650.2,149 650.3,150 650.3,151 650.3,152 650.4,153 650.6,154 651.6,155 653,155.6 653.6,156 655,156.4 656,156.4 657,156.4 658,156.5 659,156.5 660,156.5 661,156.5 662,156.5 663,156.5 664,156.4 665,156.2 666,155.6 667,155.3 668,154.7 669,154.3 670,153.7 671,153.3 672,152.7 673,152.3 674,151.7 675,151.3 676,150.7 677,150.5 678,150.3 679,149.7 680,149.3 681,148.7 682,148.3 683,147.7 684,147.3 685,146.7 686,146.3 687,145.7 688,145.3 689,144.7 690,144.3 691,143.7 692,143.3 693,142.7 694,142.3 695,141.6 696,141.2 697,140.5 698,140.1 699,139.4 700,139 701,138.3 701.8,138 703,137.2 704,136.8 705,136.2 706,135.7 707,135.1 708,134.6 709,134.1 710,133.7 711,133.2 712,132.8 713,132.2 713.7,132 715,131.3 716,131 717,130.4 718,130.1 719,129.5 720,129.2 721,128.6 722,128.3 723,127.7 724,127.5 725,127.3 726,126.7 727,126.3 728,125.7 729,125.3 730,124.7 731,124.3 732,123.7 733,123.5 734,123.3 735,122.7 736,122.3 737,121.7 738,121.3 739,120.7 740,120.5 741,120.3 742,119.7 743,119.5 744,119.3 745,118.7 746,118.5 747,118.3 748,117.7 749,117.3 750,116.6 751,116.4 752,116.1 753,115.4 754,115.2 755,115 756,114.4 757,114.2 758,114 759,113.3 759.9,112 761,111.3 762,110.7 763,110.3 764,109.7 765,109.5 766,109.3 767,108.7 768,108.4 768.7,108 770,107.4 770.8,107 772,106.5 772.9,106 774,105.6 774.8,105 776,104.1 777,103.7 778,103.1 779,102.8 780,102.1 781,101.3 781.7,101 783,100.3 784,99.6 785,99.1 786,98.8ZM704.7,165 704,165.2 703,165.5 702,165.5 701,165.4 700,165.2 699,165.7 698.4,166 697,166.3 696,166.5 695.2,167 694,167.5 693,167.7 692,168.3 691,168.6 690,168.7 689,168.9 688,169.5 687,169.8 686,169.8 685,170.9 685.5,172 685.8,173 686.5,174 687,174.8 688,174.7 689,174.5 690,174.6 691,174.6 692,174.6 693,174.5 693.9,174 695,173.8 696,173.8 697,173.8 698,173.9 699,173.9 700,173.8 701,173.2 702,172.5 702.8,172 704,171.5 704.5,171 706,170.2 707,169.6 707.5,169 707.8,168 707,167 706.5,166 706,165.4 705.3,165ZM641.1,181 640,181.2 639,181.2 638,181.2 637,181.6 636,182 635,182.1 634,182.2 633.3,183 634,183.9 634.8,185 635,185.7 636,187 637,187.7 638,187.3 639,187.2 640,187.2 641,187.2 642,187.2 642.7,187 644,186.3 645,186.1 646,186.1 647,186.1 648,186 649,185.9 649.8,185 650.3,184 650.9,183 651.4,182 651,181.2 650,181.1 649,181.1 648,181.1 647,181.2 646,181.2 645,181.3 644,181.2 643,181.1 642,180.8 641.1,181ZM509,141 510,140.8 510.9,142 510.7,143 510,143.5 509.1,144 508,144.7 507,145.6 506.3,146 505,146.6 504.1,147 503,147.2 502,147.7 501.1,148 500,148 499,148.1 498,148.6 497,149 496,149.1 495,149.6 494,150 493,150.1 492,150.6 491,150.9 490,151 489,151.1 488,151.5 487,151.9 486,152 485,152.5 484,152.8 483,152.9 482,152.9 481,152.9 480,152.9 479,152.9 478,153 477,153.5 476,153.8 475,153.8 474,153.9 473,153.9 472,153.9 471,153.9 470,153.9 469,154 468,154.4 467,154.8 466,154.8 465,154.8 464,154.8 463,154.8 462,154.9 461.2,155 460,155.4 459,155.8 458,155.8 457,155.8 456,155.8 455,155.8 454,155.8 453,155.8 452,155.8 451,155.8 450,155.8 449,155.8 448,155.8 447,155.8 446,155.8 445,155.7 444,155.7 443,155.7 442,155.7 441,155.7 440,155.4 439.1,155 438,154.8 437,154.8 436,154.8 435,154.8 434,154.7 433,154.7 432,154.6 431.1,154 430.7,153 431,152.3 432,151.7 433,151.2 434,150.6 434.7,150 436,149.3 437,148.8 438,148.5 439,148.4 440,148.4 441,148.4 442,148.4 443,148.4 444,148.4 445,148.3 446,148.3 447,148.3 448,148.3 449,148.1 450,147.7 451,147.4 452,147.3 453,147.3 454,147.3 455,147.3 456,147.3 457,147.2 458,147.2 459,147.2 460,147.2 461,147 462,146.6 463,146.2 464,146.2 465,146.1 466,146.1 467,146.1 468,146 469,145.5 470,145.1 471,145.1 472,145.1 473,145.1 474,145 475,144.9 476,144.4 477,144.1 478,144 479,144 480,144 481,144 482,143.9 483,143.4 484,143 485,143 486,143 487,143 488,143 489,142.9 490,142.4 491,142 492,142 493,142 494,142 495,142 496,142 497,142 498,142 499,141.9 500,141.4 501,141 502,141 503,141 504,141.1 505,141.1 506,141.1 507,141.1 508,141.1 508.9,141ZM366,146.9 367,146.7 368,146.6 369,146.4 370,146.3 371,146.3 372,146.1 373,146.4 374,146.5 375,146.5 376,146.8 377,147.3 378,147.4 379,147.4 380,147.4 381,147.7 381.8,148 383,148.2 384,148.3 385,148.6 385.8,149 387,149.7 387.8,150 389,150.3 390,150.7 390.7,151 392,151.7 392.7,152 394,152.4 395,152.7 395.6,153 397,153.8 398,154.7 399,155.7 399.5,157 398,157.9 397,158.4 396,158.9 395,159.4 394,160 393,160.4 392,160.9 391,161 390,161.5 389,161.9 388,162.1 387,162.5 386.1,163 385,163.5 384,163.8 383,164 382,164.4 381,164.9 380,165.4 379.4,166 378,166.7 377.1,167 376,166.8 375,167.1 374,167.6 373.5,168 372,168.8 371,169.1 370,169.3 369,169.2 368,169 367,168.7 366,168.1 365,167.4 364,166.4 363,165.1 362.4,164 362,163.3 361.5,162 361.1,161 360.9,160 360.7,159 360.6,158 360.5,157 360.5,156 360.6,155 360.8,154 361,153.1 361.3,152 361.8,151 362.3,150 363,149.1 364,148.1 365,147.3 365.8,147ZM510,165 511,164.9 512,165.2 513,165.8 513.7,166 515,166.7 516,166.9 517,167.1 518,167.7 519,167.9 520,167.9 521,167.9 522,167.9 523,167.9 524,167.9 525,167.9 526,167.9 527,167.9 528,167.9 529,167.9 530,167.9 531,167.9 532,167.9 533,167.9 534,168 535,168 536,168 537,168 538,168 539,168 540,168 541,168 542,168 543,168 544,168 545,167.9 546,167.4 547,167.1 548,167 549,167 550,166.9 551,166.5 552,166.2 553,166.1 554,166.1 555,166.1 556,166 557,165.6 558,165.2 559,165.2 560,165.2 561,165.2 562,165.2 563,165.2 564,165.2 565,165.4 565.5,166 565,166.7 564,167.9 563.2,169 563,169.7 562,171 561,172 560,172.4 559.2,173 558.2,174 557.1,175 556,175.5 555.3,176 554.3,177 553.2,178 552,178.5 551.4,179 550.2,180 549,180.4 548,180.6 547.3,181 546,181.6 545.3,182 544,182.4 543,182.6 542.4,183 541,183.6 540.4,184 539,184.4 538,184.6 537.4,185 536,185.6 535.4,186 534,186.4 533,186.5 532,186.5 531,186.4 530,186.4 529,186.4 528,186.4 527,186.4 526,186.4 525,186.4 524,186.4 523,186.4 522,186.2 521,185.3 520,184.3 519,183.2 518,182.4 517,182 516,181.1 515.1,180 514.7,179 514.1,178 513.7,177 513.2,176 512.8,175 512.2,174 511.8,173 511.3,172 511,171.2 510.8,170 510.3,169 510,168.1 510,167 509.9,166 510,165ZM383,170 384,169.8 385,169.7 386,169.7 387,169.8 388,169.9 389,170.1 390,170.4 391,170.7 391.7,171 393,171.5 393.9,172 395,172.6 395.7,173 397,173.9 398,174.6 398.5,175 399,175.4 399.6,176 400.7,177 401.6,178 402.4,179 403,179.9 403.8,181 404.3,182 404.8,183 405.2,184 405.6,185 405.8,186 406,187 406.1,188 406.1,189 406,190 405.8,191 405.4,192 405,192.8 404.1,194 403,195 402,195.6 401.2,196 400,196.4 399,196.6 398,196.7 397,196.7 396,196.7 395,196.6 394,196.4 393,196.2 392,195.9 391,195.6 390,195.2 389,194.7 388,194.2 387,193.6 386.1,193 385,192.3 384,191.5 383.4,191 382.3,190 381.4,189 380.5,188 380,187.3 379.1,186 378.4,185 378,184.1 377.5,183 377.1,182 376.8,181 376.6,180 376.4,179 376.4,178 376.4,177 376.6,176 376.9,175 377.3,174 377.9,173 378.8,172 380,171.1 381,170.6 382,170.2 383,170ZM936,220.7 937,220.3 937.9,221 938,222 938,223 938,224 938,225 938,226 938,227 938,228 938,229 938,230 938,231 938,232 938,233 938,234 938,235 938,236 938,236.9 937.9,238 937.8,239 937.7,240 937.6,241 937.5,242 937.4,243 937.3,244 936.4,245 935,245.2 934,245.2 933,245.3 932,245.3 931,245.3 930,245.4 929,245.4 928,245.6 927,245.9 926,245.6 925,245.2 924,244.6 923,244.3 922,243.6 921,243.4 920,243.1 919,242.4 918.2,242 918.1,241 918.7,240 919,239.1 919.6,238 919.8,237 920,236.2 920.7,235 921,234.3 921.7,233 922,232.3 923,231 924,230 925,229 926,228.6 926.7,228 927.7,227 928.6,226 929.6,225 930.7,224 932,223.3 933,222.5 933.6,222 935,221.3 935.6,221ZM550,313 551,313.3 552,313.8 553,314.3 553.7,315 554.2,316 554.9,317 555.7,318 556.1,319 556.6,320 557,321 557,322 556.9,323 556.6,324 556.1,325 555.6,326 555,326.6 554,328 553.4,329 552,329.9 551,330.3 550,330.7 549,330.7 548,330.4 547.1,330 546,329.4 545,328.1 544.4,327 543.7,326 543.3,325 542.8,324 542.7,323 542.8,322 542.8,321 543,320 543.7,319 544,318 544.8,317 545.4,316 545.8,315 547,314.1 548,313.5 549,313 550,313ZM549,415.7 550,415.5 551,415.5 552,415.5 553,415.5 554,415.7 555,416.5 555.5,417 556,417.5 556.5,418 557,418.5 557.5,419 558,419.6 558.5,421 558.5,422 558.5,423 558.3,424 557.5,425 557,425.5 556.5,426 556,426.5 555.5,427 555,427.5 554.4,428 553,428.5 552,428.5 551,428.5 550,428.5 549,428.3 548,427.7 547,427.3 546,426.5 545.5,426 545,425.5 544.5,425 544,424.5 543.5,424 543,423.3 542.6,422 542.8,421 543.5,420 544,419.5 544.5,419 545,418.5 545.5,418 546,417.5 546.6,417 548,416.3 549,415.7ZM712,420.9 713,421.6 714,422.6 715,423.6 716,424.7 716.5,426 716.5,427 716.5,428 716.5,429 716.2,430 715.7,431 715.5,432 715.6,433 715.8,434 715.8,435 715.8,436 715.7,437 715.3,438 715,438.7 714.3,440 713.8,441 713.2,442 712.5,443 712,443.8 711,445 710.3,446 709.5,447 708.4,448 707.1,449 706,449.5 705.3,450 704,450.8 703,451.2 702,451.8 701,452.2 700,452.7 699.1,453 698,453.6 697.2,454 696,454.3 695,454.5 694,454.7 693,454.8 692,454.8 691,454.8 690,454.8 689,454.7 688,454.5 687,454.3 686,454.3 685,454 684,453 683.4,452 682.4,451 681.5,450 681,449.1 680.6,448 680,447.1 679,446 678.7,445 678.6,444 678,443.1 677.7,442 677.7,441 677.5,440 677,439.2 676.7,438 676.5,437 676,436.2 675.5,435 675,434.2 674,433.1 673.5,432 674,431.3 675,430.7 676,430.4 677,430.3 678,430.2 679,429.7 680,429.4 681,429.2 682,428.7 683,428.4 684,428.2 685,427.8 686,427.5 687,427.3 688,426.8 689,426.5 690,426.4 690.6,426 692,425.6 693,425.4 693.7,425 695,424.6 696,424.4 696.7,424 698,423.6 699,423.4 699.6,423 701,422.6 702,422.5 703,422.5 704,422.4 705,422.3 706,421.8 707,421.5 708,421.4 709,421.4 710,421.4 711,421.2 712,420.9ZM818,437.6 819,437.6 820,438.5 821,439 822,438.9 823,438.9 824,439 825,439 826,439.1 827,439.1 828,439.1 829,439.3 830,439.7 831,439.6 832,439.5 833,439.5 834,439.5 835,439.6 836,439.6 837,439.7 838,439.8 839,439.8 840,439.9 841,440 840,440.1 839,440.1 838,440.2 837,440.3 836,440.3 835,440.4 834,440.5 833,440.5 832,440.6 831.2,441 830.9,442 830.9,443 830.9,444 831,445 831,446 831,447 831.6,448 833,449 834,449.4 834.7,450 835.7,451 837,451.7 838,452.3 839,452.6 840,452.6 841,452.7 842,453 843,453.6 844,453.8 845,453.9 846,454.9 846,456 845.8,457 845.2,458 845.1,459 845.3,460 846,460.8 847,461.3 848,461.9 849,462.3 850,462.9 851,463.4 852,463.9 853,464 854,464 855,464 856,464 857,464 858,464 859,464.3 860,464.7 861,464.4 862,464 863,464 864,464 865,464 866,464 867,463.8 867.9,463 868,462 868.1,461 868.5,460 869,459 869.1,458 869.3,457 870,456.3 871,456.2 872,456 873,455.6 874,455.2 875,455.2 876,455.9 876.6,457 877,457.7 877.7,459 878.2,460 878.9,461 880,461.8 881,461.9 882,461.9 883,461.9 884,462.2 885,462.8 886,462.9 887,463 888,463.7 888.6,465 889,465.8 889.5,467 890,467.9 890.4,469 890.9,470 891.1,471 890,471 889,471.3 888,471.6 887,471.7 886,471.9 885,472.3 884,472.7 883,472.9 882.5,474 882.5,475 882.7,476 883.2,477 883.5,478 884,479 885,479.5 886,479.9 887,480.5 888,480.8 889,481.9 890,482.4 891,482.7 892,483.5 892.5,485 892.6,486 892.6,487 892.4,488 892,488.7 891,489.8 890,489.9 889,489.9 888,489.8 887,489.8 886,489.8 885,489.7 884.1,489 883,488.1 882,488.5 881,488.8 880,489.4 879,489.8 878,490.2 877,490.6 876,490.6 875,490.3 874,490 873,490 872,490.1 871,490.1 870,490.1 869,490.1 868,490.3 867,490.8 866,491.1 865,491.3 864,491.9 863,492.2 862,492.8 861,493.1 860,493.3 859.3,494 859.1,495 859.1,496 859.1,497 859.2,498 860,498.8 861,499.2 862,499.8 862.8,500 864,500.1 865,500 866,499.8 867,499.3 867.8,499 869,498.8 870,498.3 870.7,498 872,497.4 872.9,497 874,496.9 875,496.4 875.7,496 877,495.4 878,495.1 879,495.1 880,495.1 881,495.2 882,495.2 883,495.2 884,495.1 885,494.7 886,494.2 887,493.8 888,493.4 888.6,493 890,492.5 890.8,492 892,491.6 892.9,491 894,490.1 895,489.4 895.6,489 897,488.9 898,489 899,489.6 900,489.9 901,489.5 901.6,489 902.6,488 903.6,487 904.6,486 905.6,485 906.5,484 906.8,483 906.5,482 906,481.5 905,480.4 904,479.2 905,478.6 906,478.4 907,477.3 906.8,476 906.4,475 905.8,474 905.3,473 904.7,472 904.2,471 903.9,470 904.5,469 905,468.4 905.9,467 906.4,466 907,465.2 908,464.2 908.8,463 909.3,462 909.8,461 910.3,460 910.8,459 910.8,458 910,457.2 909,457 908,456.6 907,456.1 906,456 905,456 904,455.6 903,455.1 902,454.9 901,454.5 900,454 899,453.9 898,453.9 897,453.9 896,453.5 895,453 894,452.8 893,452.8 892,452.6 891.5,452 893,451.4 894,451.3 895,450.8 896,450.6 897,450.6 898,450.6 899,450.6 900,450.5 901,450.4 901.7,450 903,449.7 904,449.7 905,449.6 906,449.6 907,449.5 907.9,449 909,448.8 910,448.8 911,448.7 912,448.6 913,448.6 914,448.4 914.7,448 916,447.6 917,447.4 917.6,447 919,446.6 920,446.4 920.6,446 922,445.6 923,445.3 924,444.8 925,444.5 926,444.4 927,444.2 928,443.7 929,443.2 929.9,443 931,442.5 932,442 933,441.9 934,441.3 934.9,441 936,440.9 937,441.7 937.1,443 937.1,444 937.1,445 937.2,446 937.2,447 937.2,448 937.2,449 937.2,450 937.2,451 937.3,452 937.3,453 937.3,454 937.3,455 937.3,456 937.3,457 937.3,458 937.3,459 937.3,460 937.3,461 937.3,462 937.3,463 937.3,464 937.3,465 937.3,466 937.3,467 937.2,468 937.2,469 937.2,470 937.2,471 937.2,472 937.1,473 937.1,474 937.1,475 937.1,476 937.1,477 937,478 937,479 937,480 937,481 937,482 936.9,483 936.9,484 936.9,485 936.9,486 936.9,487 936.8,488 936.4,489 935.4,490 934.4,491 934,491.7 933.2,493 932.2,494 931.2,495 930.6,496 930.2,497 929.6,498 929.2,499 928.7,500 928.3,501 927.7,502 927.3,503 927,503.7 926.3,505 926,505.8 925.4,507 925,507.8 924.4,509 924,509.9 923.4,511 923,512 922.5,513 922,514 921.5,515 921,516 920.6,517 920.1,518 919.6,519 919.3,520 920,520.8 921,521 922,521 923,521 924,521 925,521 926,520.9 926.9,520 927.4,519 927.9,518 928.5,517 929,516 929.5,515 930,514 930.5,513 931,512.5 932,511 932.6,510 933,509 933.6,508 934,507.1 934.6,506 935.6,505 936,504.4 936.7,505 936.9,506 936.9,507 936.9,508 936.9,509 937,510 937,511 937,512 937,513 937,514 937,515 937,516 937,517 937,518 937,519 937,520 937,521 937,522 937,523 936.9,524 936.9,525 936.9,526 936.8,527 937,527.7 938,528.3 938,530 938,531 938,532 938,533 938,534 938,535 938,536 938,537 938,538 938,539 938,540 938,541 938,542 938,543 937,543.6 936.1,544 935,544 934,543.5 933,543.1 932,543.3 931.2,544 930.2,545 929,545.5 928.6,544 928,543.2 927,542.6 926.3,543 925.5,544 925.3,545 925,546 924.3,547 924.2,548 924.2,549 923.7,550 923.2,551 923.1,552 923.1,553 922.9,554 922.3,555 922.2,556 922.2,557 922.3,558 923,559 923.2,560 923.3,561 924,561.9 924.9,563 925.5,564 926,564.8 926.8,566 927,566.9 927.2,568 927.5,569 927.5,570 927.2,571 926.9,572 926.1,573 925.1,574 924,574.9 923,575.3 922,575.6 921,575.4 920,575.3 919,575 918,574.8 917,574.1 916,573.3 915,572.5 914.3,572 913.1,571 912,571.1 911,571.4 910.2,572 909,572.4 908.1,573 907,574 906,574.3 905,575 904,575.8 903,576.7 902,577.7 901,578.6 900,579.2 899,579.8 898,580.7 897,581.7 896,582.7 895,583.3 894.2,583 893.1,582 892,581 891.6,580 892,579.3 893,578.2 894,577.2 895,576.2 896,575.2 897,574.1 898,573.1 899,572.1 900,571.1 901,570.7 902,570 903,569.6 903.9,569 905,568.6 905.8,568 906.5,567 906.2,566 905.1,565 904,564 903.3,563 903.1,562 903.1,561 902.8,560 902.3,559 902.1,558 901.8,557 901.8,556 901.8,555 901.9,554 902.1,553 902.3,552 902.6,551 902.7,550 902.7,549 902.7,548 902.7,547 902.7,546 902.7,545 902.7,544 902.6,543 902.6,542 902.6,541 902.5,540 902.3,539 902.1,538 902,537 901.7,536 901.4,535 901.4,534 901.4,533 901.4,532 901.2,531 900.7,530 900.3,529 899,528.1 898.3,529 897.8,530 897,531 896.1,532 895.4,533 894.7,534 894.3,535 893.5,536 892.1,537 891,537.4 890,537.8 889,538.4 888,538.6 887,538.5 886.1,538 885.8,537 885.8,536 885.9,535 886.1,534 886.3,533 886.5,532 886.7,531 886.7,530 887.1,529 887.6,528 888,527.4 888.8,526 889.4,525 890,524.3 890.6,523 891,522.4 891.6,521 892,520.4 892.4,519 892.7,518 893.2,517 893.6,516 894,515.4 894.6,514 895,513.2 895,512 894.2,511 893,510.1 892,509.3 891,508.6 890,508.1 889,508 888,507.8 887,507.7 886,507.7 885,507.8 884.2,508 883,508.4 882,508.9 881,509.5 880,509.7 879,509.9 878,510.5 877,510.8 876,511.2 875,511.6 874,511.9 873,512.1 872,512.5 871.1,513 870,513.6 869,514.4 868,515 867,515.7 866,516.5 865,517 864.3,518 864.3,519 864,519.9 863.7,521 863,522 862,523 861.3,524 860.4,525 860,525.6 859,526.3 858,526.8 857.1,527 856,527.5 855,527.7 854,527.6 853,527.1 852,526.9 851,526.3 850,525.3 849,524.4 848.3,524 847.3,523 846.6,522 846.1,521 845.8,520 845.6,519 845.6,518 845.5,517 845.2,516 845.1,515 844.8,514 844,513.1 843.9,512 844.2,511 844.8,510 845,509 845.7,508 846,507 846.6,506 846.6,505 846,504.1 845.7,503 845.5,502 845,501.3 844.4,500 843.2,499 842,499.2 841,499.4 840,499.9 839.1,501 838.7,502 838.4,503 838,503.7 837.7,505 837.7,506 837.5,507 837.2,508 837,508.9 836.8,510 837,511 837.1,512 837.2,513 837.1,514 836.5,515 836.1,516 835,516.5 834.3,517 833.1,518 832,518.6 831,518.9 830,518.7 829,518.1 828,517.2 827.1,516 826.4,515 826,514 825.7,513 825.6,512 825.5,511 825.5,510 825.5,509 825.5,508 825.8,507 825.8,506 825,505.1 824,505.1 823,505.5 822,505.8 821.1,506 820,506.4 819,506.9 818,507.4 817,507.9 816,508.3 815,508.9 814,509.4 813,509.9 812,510.2 811,510.5 810,510.5 809,510.6 808,510.8 807,510.8 806,510.7 805,510.2 804.1,509 803.6,508 803.1,507 802.9,506 803,505 803.3,504 804,503 804.8,502 805.3,501 806,500.2 806.7,499 807,498.3 807.6,497 807,496.3 806,496.1 805,496 804,496 803,496 802,495.9 801,495.9 800,495.5 799,495 798,494.5 797,494 796,493.9 795,493.5 794,493.2 793,493.8 792.2,495 791.8,496 791.1,497 790.5,498 790,498.8 789.4,500 788.7,501 788,502 787.6,503 787,503.6 786,504.5 785,504.8 784,504.7 783,504.5 782,504.4 781,504.3 780,504 779,503.1 778,502.1 777,501.1 776,500.1 775.6,499 775.8,498 776.3,497 776.5,496 776.6,495 776.8,494 777.3,493 777.5,492 777.8,491 778.7,490 779.7,489 780.6,488 781,487.3 781.7,486 782.7,485 783.6,484 784.6,483 785.6,482 787,481.1 788,480.5 788.6,480 790,479.1 791,478.5 791.5,478 793,477 794,476.4 795,475.6 796,475 797,474.5 797.9,474 799,473.4 799.7,473 801,472.3 801.7,472 802.9,471 803.4,470 803.9,469 804.4,468 805,467.4 805.7,467 807,466.9 808,466.8 809,466.8 810,466.7 811,466.7 812,466.7 813,466.6 814,466.6 815,466.5 816,466.5 817,466.4 818,466.4 819,466.4 820,466.4 821,466.3 822,466.3 822.8,467 824,467.3 825,467.3 826,467.3 827,467.3 828,467.3 829,467.1 829.6,466 828,465.8 827,465.8 826,465.8 825,465.8 824,465.8 823,465.8 822,465.8 821.2,465 820,464.7 819,464.7 818,464.7 817,464.6 816,464.4 815,463.7 814,463.5 813,463.5 812,463.4 811,463.2 810,462.5 809,462.3 808,462.3 807,462.2 806,462.2 805,461.8 804.1,461 803.1,460 802.1,459 801,458.2 800,457.6 799.4,457 798.4,456 798,455.4 797.9,454 798.3,453 799,452 799.7,451 800,450 800.6,449 801,448 802,447.1 803,446.8 804,446.6 805,446 806,445.6 807,445 808,444.7 809,444.5 809.7,444 811,443.4 811.6,443 813,442.3 814,441.5 814.5,441 815,440.5 815.5,440 816,439.5 816.5,439 817,438.5 817.6,438ZM909.2,476 910,476.8 910.8,476 910,475.2 909.2,476ZM924.5,487 923.3,488 922,488.2 921,488.9 920.3,490 920.2,491 920.2,492 920.2,493 920.3,494 921,495 921.7,496 922.8,497 924,497.7 925,497.2 926,496.3 927,495.4 928,494.6 928.5,494 928.9,493 928.9,492 928.9,491 928.6,490 928,489.3 927.9,488 927.4,487 926,486.2 925,486.5 924.5,487ZM722,454 723,453.7 724,453.7 725,454 725.2,455 725,456 724,457 723,457.3 722.1,458 721,458.3 720,458.3 719,458 718.8,457 719,456 720,455 721,454.6 721.9,454ZM662,465.8 663,465.8 663.7,466 663.3,467 663,467.8 662,468.9 661,469.9 660,470.9 659,471.9 658,472.8 657,473.3 656,473.9 655,474.3 654,474.9 653,475.2 652,475.2 651.3,475 651.7,474 652,473.2 653,472.2 654,471.2 655,470.1 656,469.1 657,468.2 658,467.7 659,467 660,466.7 661,466 662,465.8ZM675,485.8 676,485.9 675.7,487 675,487.7 674,488.2 673,488.1 673.3,487 674,486.3 675,485.8ZM865,543.6 866,543.7 867,543.8 868,543.9 869,544.1 870,544.3 871,544.7 872,545.7 872.2,547 872.3,548 872.6,549 872.7,550 872.7,551 872.5,552 872,552.6 871,553.7 870,554.5 869.2,555 868,556 867,556.5 866,556.3 865,556.2 864,556.2 863,556.2 862,556.1 861.8,555 861.7,554 861,553 860.8,552 860.7,551 861,550 861.2,549 861.4,548 861.9,547 862.3,546 863,545.1 864,544 865,543.6ZM879,563 880,562.5 881,562.7 882,562.8 883,563 884,563.5 885,563.9 885.2,565 885.2,566 885.2,567 885.2,568 885.1,569 884.5,570 883,571 882,571.2 881,571.3 880,571.6 879,571.8 878,571.9 877,571.5 876.2,571 875.4,570 875.3,569 875.3,568 875.3,567 875.4,566 876,565 877,564 878,563.4 879,563ZM935,586.8 936,586.8 936.3,588 936.3,589 936.4,590 936.4,591 936.4,592 936.4,593 936.5,594 936.5,595 936.5,596 936.5,597 936.6,598 936.6,599 936.6,600 936.6,601 937,602 938,602.2 938,604 938,605 938,606 938,607 938,608 938,609 938,610 938,611 938,612 938,613 938,614 938,615 938,616 938,617 938,618 938,619 938,620 938,621 938,622 937,622.8 936,623 935,622.5 934.1,622 933,621 932,620.2 931.3,620 930.1,619 929,618.3 928,618.2 927.2,618 926,617.3 925,617.2 924,617.2 923.3,617 922,616.2 921,616.2 920,616.2 919,616.2 918,616.1 917,616.1 916,616.1 915,616.1 914,616.1 913,616.2 912,616.3 911,616.1 910,615.6 909,615.2 908,615.1 907,614.4 907,613.4 907.8,612 908,611.3 908.8,610 909,609.3 909.8,608 910,607.3 910.8,606 911,605.3 911.8,604 912.3,603 913,602.2 914,601.1 914.8,600 915,599.3 916,598.2 917,597.2 918,596.1 918.8,595 919,594.3 920,593.2 921,592.7 922,592 923,591.7 924,591 925,590.7 926,590 927,589.7 928,589 929,588.7 930,588 931,587.8 932,587.8 933,587.7 934,587.1 935,586.8ZM826,638.6 827,638.4 828,638.3 829,638.3 830,638.3 831,638.4 832,638.6 832.7,639 834,639.6 834.6,640 836,640.6 837,641.4 837.6,642 838.6,643 839.6,644 840.6,645 841.5,646 842,646.9 841.8,648 841.5,649 841,649.8 840.5,651 840,651.7 839,652.9 838.5,654 838,654.7 837,655.8 836,656.7 835,657.4 834,657.9 833,658.7 832,659.6 831.4,660 830,660.6 829,660.6 828,660.4 827.4,660 826.2,659 825,658 824,657.6 823.3,657 822.2,656 821,655.4 820.2,654 819.6,653 819.2,652 818.7,651 818.4,650 818.4,649 818.4,648 818.4,647 818.4,646 818.7,645 819.3,644 819.6,643 819.9,642 821,641.5 822,641.2 823,640.4 824,639.6 825,639.2 826,638.6Z"/>
<path fill="#0000FF" fill-rule="evenodd" d="M761,117 762,117 763,117 764,117 765,117 766,117.1 766.4,118 766,119 765.5,120 765,121 764.1,122 763,122.6 762.3,123 761,123.8 760,124.3 759,125 758,125.4 757.2,126 756,127 755,127.4 754,128 753,128.4 752,129 751,129.4 750,130 749,130.4 748.1,131 747,131.3 746,131.6 745.3,132 744,132.7 743,133.3 742,133.7 741,134.5 740.4,135 739,135.7 738,136.3 737,136.7 736,137.3 735,137.7 734,138.3 733,138.7 732,139.3 731,139.7 730,140.3 729,140.7 728,141.3 727,141.7 726,142.3 725,142.7 724,143.3 723,143.7 722,144.3 721,144.7 720,145.4 719,145.8 718,146.6 717.4,147 716,147.7 715,148.4 714,148.9 713,149.6 712,150 711,150.7 710.2,151 709,151.8 708.3,152 707,152.8 706,153.2 705,153.8 704.3,154 703,154.7 702.2,155 701,155.7 700.1,156 699,156.7 698,157 697,157.7 696,158 695,158.6 694,159 693,159.6 692,160 691,160.6 690,161 689,161.6 688,161.9 687,162.6 686,162.9 685,163.5 684,163.9 683,164.5 682,164.9 681,165.5 680,165.7 679,165.9 678,166.6 677,167 676,167.7 675.1,168 674,168.7 673.3,169 672,169.8 671,170.2 670,170.8 669,170.9 668,171.3 667,171.8 666,171.9 665,172.1 664,172.7 663,173 662,173.5 661,173.7 660,173.8 659,174 658,174.5 657,174.7 656,174.6 655,174.7 654,174.8 653,175.2 652,175.4 651,175.4 650,175.5 649.1,176 648,176.2 647,176.3 646,176.4 645,176.7 644,176.4 643,176.3 642,176.2 641,176.3 640,176.4 639,176.4 638,176.3 637,176.3 636,176.2 635,176.2 634,176.2 633,176.2 632.2,176 631,175.3 630,175 629,174.2 628,173.5 627,173.2 626,172.5 625,172.1 624,171.3 623,170.5 622,170.1 621,169.2 620,168.2 619,167.1 618,166 617.6,165 617,164.1 616,163.1 615,162 614.2,161 614.1,160 615,159.4 615.9,159 617,158.8 618,158.3 619,157.8 620,157.2 621,156.8 622,156.2 623,155.9 624,155.8 625,155.7 626,155.1 627,154.8 628,154.8 629,154.8 630,154.6 631,154 632,153.8 633,153.8 634,153.7 635,153.4 635.9,154 636.4,155 637,155.8 638,156.8 639,157.9 639.5,159 640,159.7 641,160.5 642,160.9 643,161.5 644,161.7 645,161.9 646,162.5 647,162.9 648,163.4 649,163.5 650,163.5 651,163.5 652,163.5 653,163.3 653.6,163 655,162.6 656,162.6 657,162.3 657.6,162 659,161.6 660,161.5 660.8,161 662,160.7 663,160.7 664,160.5 664.8,160 666,159.6 667,159 668,158.6 669,158 670,157.5 670.8,157 672,156.3 673,155.7 674,155.3 675,154.7 676,154.3 677,153.7 678,153.5 679,153.3 680,152.7 681,152.3 682,151.7 683,151.3 684,150.7 685,150.4 685.8,150 687,149.4 687.8,149 689,148.4 689.9,148 691,147.6 691.9,147 693,146.6 693.9,146 695,145.6 695.9,145 697,144.6 698,144 699,143.7 700,143.1 701,142.7 702,142.1 703,141.7 704,141.1 705,140.7 706,140.1 707,139.7 708,139.1 709,138.7 710,138.1 711,137.7 712,137.1 713,136.7 714,136.1 715,135.7 716,135.1 717,134.7 718,134.1 719,133.7 720,133.1 721,132.7 722,132.1 723,131.7 724,131.1 725,130.9 726,130.7 727,130.1 728,129.7 729,129.1 730,128.7 731,128.1 732,127.7 733,127.1 734,126.8 735,126.6 736,126.1 737,125.7 738,125.1 739,124.7 740,124.1 741,123.9 742,123.7 743,123.1 744,122.8 745,122.6 746,122.1 747,121.8 748,121.6 749,121 750,120.7 751,120.2 752,119.9 753,119.7 754,119.2 755,118.9 756,118.7 757,118.2 758,117.9 759,117.8 760,117.3 761,117ZM367,150.8 368,150.6 369,150.7 369.8,151 371,151.7 372,152.7 372.9,154 373.4,155 373.7,156 374,157 374.1,158 374.1,159 374.1,160 373.9,161 373.6,162 373.1,163 372.4,164 371,165 370,165.3 369,165.4 368,165.1 367,164.7 366.2,164 365.3,163 364.6,162 364.1,161 363.8,160 363.5,159 363.4,158 363.4,157 363.4,156 363.6,155 363.9,154 364.4,153 365,152.1 366,151.3 367,150.8ZM386,173.9 387,173.8 388,173.8 389,173.9 390,174.2 391,174.4 392,174.8 393,175.3 394,175.8 395,176.5 395.8,177 397,178 398,179 398.9,180 399.6,181 400,181.6 400.7,183 401,183.6 401.5,185 401.6,186 401.7,187 401.6,188 401.4,189 401,189.8 400.1,191 399,191.8 398,192.3 397,192.6 396,192.7 395,192.7 394,192.6 393,192.5 392,192.2 391,191.9 390,191.5 389.1,191 388,190.4 387.4,190 386.1,189 385,188 384.1,187 383.2,186 382.6,185 382,184 381.5,183 381.2,182 381,181.2 380.8,180 380.8,179 381,178 381.3,177 381.9,176 383,175 384,174.4 385,174 386,173.9ZM668,179.8 669,179.8 669.7,180 670.7,181 671,182 670.2,183 669,183.6 668.2,184 667,184.6 666.2,185 665,185.6 664.2,186 663,186.6 662.2,187 661,187.5 660,187.9 659,188 658,188.1 657,188.5 656,188.8 655,188.7 654,188.3 653.6,187 654,186.4 654.5,186 656,185.2 657,184.6 658,184 659,183.5 659.8,183 661,182.3 661.6,182 663,181.2 664,180.9 665,180.8 666,180.7 667,180.1 668,179.8ZM427,190 428,189.4 429,189.1 430,189.1 431,189.3 432,189.8 433,190.6 434,191.8 434.7,193 435,193.6 435.5,195 435.8,196 435.9,197 436,198 436,199 435.9,200 435.8,201 435.6,202 435.2,203 434.7,204 434,205 433,206 432,206.6 431,206.9 430,206.9 429,206.7 428,206.2 427,205.4 426,204.2 425.3,203 425,202.4 424.5,201 424.2,200 424.1,199 424,198 424,197 424.1,196 424.2,195 424.4,194 424.8,193 425.3,192 426,191 427,190ZM575,195.8 576,195.6 577,195.6 578,195.6 579,195.6 580,195.6 581,195.6 582,195.6 583,195.6 584,195.6 585,195.6 586,195.6 587,195.6 588,195.6 589,195.4 590,195 591,195.4 592,195.6 593,195.6 594,195.6 595,195.6 596,195.6 597,195.6 598,195.6 599,195.6 600,195.6 601,195.5 602,195.5 603,195.5 604,195.4 605,195.4 606,195.3 607,195.3 608,195.3 609,195.2 610,195.2 611,195.4 612,195.9 613,196.2 614,196.8 615,197.2 616,197.7 616.8,198 618,198.2 619,198.7 620,199.4 620.5,200 620,201 619.2,202 618.4,203 618,203.7 617.5,205 617.9,206 618.7,207 619,207.9 620,209 621,209.8 622,210.1 623,210.2 624,210.6 625,211 626,211.1 627,211.6 628,212 629,212 630,212.1 631,212.6 631.9,213 633,213 634,213.1 635,213.1 636,213.7 636.7,214 638,214.1 639,214.1 640,214.2 641,214.8 642,215.1 643,215.1 644,215.2 645,215.3 646,215.9 647,216.2 648,216.2 649,216.2 650,216.3 650.9,217 652,218 653,219 654,219.9 655,220.3 656,220.6 656.6,221 658,221.5 659,221.6 660,221.8 661,222.3 662,222.7 663,223.3 664,223.5 665,223.7 666,224.3 667,224.6 667.6,225 669,225.4 670,225.6 670.6,226 672,226.6 672.6,227 674,227.4 675,227.7 676,228.3 677,228.6 677.6,229 679,229.5 680,229.7 680.6,230 682,230.5 683,230.5 684,230.6 685,230.6 686,230.6 687,230.6 688,230.6 689,230.6 690,230.6 691,230.6 692,230.7 693,230.7 694,230.7 695,230.7 696,230.7 697,230.7 698,230.7 699,230.7 700,230.7 701,230.7 702,230.7 703,230.6 704,230.4 704.9,230 706,229.8 707,229.8 708,229.7 709,229.5 709.9,229 711,228.8 712,228.7 713,228.6 714,228.6 715,228.3 716,228.6 717,229 718,229.6 719,230 720,230.6 721,231 722,231.6 722.5,232 722.6,233 722.3,234 721.8,235 721.4,236 721,236.7 720,238 719.6,239 719,240 718.7,241 718.7,242 720,242.6 720.7,243 722,243.6 722.6,244 724,244.5 725,244.7 726,245.3 727,245.8 728,246.4 729,246.6 730,246.9 731,247.4 732,247.6 733,247.9 734,248.5 735,248.7 736,248.7 737,249 738,249.5 739,249.8 739.7,250 741,251 742,252 743,252.9 744,253.9 745,254.9 745.4,256 744.2,257 743,257.6 742.3,258 741,258.6 740.4,259 739.2,260 738,260.5 737.2,261 736,261.5 735.2,262 734,262.5 733.2,263 732,263.6 731.4,264 730,264.7 729,265.6 729.5,267 731,267.8 732,268.5 733,268.9 734,269.6 735,269.9 736,270.2 737,270.7 738,270.8 739,270.4 739.9,270 741,270.4 742,270.7 743,271.3 744,271.7 745,272.3 746,272.7 747,273.4 748,273.7 749,274.4 750,274.8 751,275.5 751.5,276 753,276.8 754,277.5 754.5,278 755,278.5 755.6,279 757,279.7 758,280.5 758.6,281 760,281.7 761,282.5 761.5,283 762,283.5 762.6,284 764,284.7 765,285.5 765.5,286 766,286.5 766.6,287 768,287.7 769,288.5 769.5,289 770,289.5 770.6,290 772,290.7 773,291.5 773.5,292 774.7,293 776,293.6 777,294.4 777.5,295 778,295.5 778.6,296 780,296.7 781,297.3 782,297.7 783,298.3 784,298.7 785,299.3 786,299.7 787,300.3 788,300.7 789,301.3 790,301.7 791,302.3 792,302.7 792.6,303 794,303.5 794.8,304 796,304.4 796.9,305 798,306 799,307 800,307.8 801,308.2 802,308.8 803,309.2 804,309.7 805,310.1 806,310.7 806.6,311 808,311.6 808.7,312 810,312.6 810.6,313 812,313.6 812.6,314 814,314.6 814.6,315 816,315.7 816.6,316 818,316.6 818.8,317 820,317.1 821,317.1 822,317.1 823,317.1 824,317.1 825,317.6 825.8,318 827,318.1 828,318.1 829,318.6 829.9,319 831,319 832,319 833,319.1 834,319.6 834.8,320 836,320.1 837,320.1 838,320.1 839,320.1 840,320.2 841,320.9 842,321.3 842.9,322 843.9,323 844.9,324 845.8,325 846.7,326 847.6,327 848,327.6 848.8,329 850,329.7 851,330.3 852,330.7 853,331.3 854,331.7 855,332.3 856,332.7 857,333.3 858,333.7 859,334.3 860,334.7 861,335.3 862,335.7 862.6,336 864,336.4 865,336.6 865.7,337 867,337.4 868,337.5 868.8,338 870,338.3 871,338.3 872,338.1 873,337.6 874,337.2 875,336.6 876,336.5 877,336.3 877.8,336 879,336.4 879.6,337 880.5,338 880.9,339 881.8,340 882.6,341 883,342 883.7,343 883.7,344 883.2,345 882.9,346 883.6,347 885,347.1 886,347.1 887,347.1 888,347.1 889,347.1 890,347.2 891,347.7 892,348.2 893,348.7 894,348.7 895,348.2 896,348.1 897,347.8 898,347.2 898.8,347 900,346.3 901,346.2 902,346.2 903,346.2 904,346.2 905,346.2 906,346 907,345.6 907.6,346 908.4,347 908,347.9 907.7,349 907,350 906.2,351 905.8,352 905.2,353 904.8,354 904.6,355 905,355.7 905.8,357 906.8,358 908,358.1 909,358.1 910,358.2 911,358.8 912,359.1 913,359.1 914,359.2 915,359.3 916,359.9 917,360.1 918,360.2 919,360.2 920,360.3 921,361 922,361.9 923,362.7 923.6,363 925,363.2 926,363.8 927,364.1 928,364.1 929,363.9 930,363.3 931,363 932,362.4 933,362.3 934,362.1 935,361.6 936,361.3 936.7,361 938,361.3 938,363 938,364 938,365 938,366 938,367 938,368 938,369 938,370 938,371 938,372 938,373 938,374 938,375 938,376 938,377 938,378 938,379 938,380 938,381 938,382 938,383 938,384 938,385 938,386 938,387 938,388 938,389 938,390 938,391 938,392 938,393 938,394 938,395 938,396 938,397 938,398 938,399 938,400 938,401 938,402 938,403 938,404 938,405 938,406 938,407 938,408 938,409 938,410 938,411 938,412 938,413 938,414 938,415 938,416 938,417 937.5,418 936,418.7 935.4,419 934,419.5 933,419.8 932,420.5 931,420.8 930,421.3 929.3,421 928,420.7 927,420.6 926,420 925,419.7 924,419.1 923,418.8 922,418.7 921,418 920,417.1 919.2,416 918.7,415 918,414.3 917,413.2 916,412.2 915,411.2 914,410.3 913.4,410 912,409.9 911,409.7 910,409.1 909,408.8 908,408.8 907,408.7 906,408 905,407.7 904,407 903,406.1 902,405.7 901,405 900,404.1 899,403.2 898,402.3 897.4,402 896,401.9 895,401.9 894,401.9 893,402.2 892,402.8 891.3,403 890,403.7 889,403.8 888.3,404 887,404.7 886,404.8 885.3,405 884,405.7 883.2,406 882,406.7 881,406.8 880.2,407 879,407.7 878.1,408 877,408.7 876,408.8 875.1,409 874,409.6 873,409.8 872,409.8 871,410 870,410.6 869,410.8 868,411 867,411.4 866.2,411 865,410.5 864.2,410 863,409.6 862,409.3 861,408.7 860,408.2 859,407 859.4,406 859.8,405 860.6,404 861.6,403 862.4,402 862.8,401 863.6,400 864.6,399 865.6,398 866.5,397 867,396.5 867.8,395 868.6,394 869.6,393 870.6,392 871.6,391 872.6,390 873.4,389 873.8,388 874.6,387 875.6,386 876.4,385 876.8,384 877.4,383 877.8,382 878.4,381 878.7,380 879.3,379 879.6,378 880,377.3 880.1,376 879.3,375 878.5,374 878.1,373 877.1,372 876,371.5 875.3,371 874.1,370 873,369.6 872,369.4 871.4,369 870,368.4 869.3,368 868,367.6 867,367.5 866.2,367 865,366.7 864,366.6 863,366.6 862,366.6 861,366.6 860,366.6 859,366.6 858,366.6 857,366.7 856,366.7 855,366.7 854,366.7 853,366.7 852,366.7 851,366.9 850,367.5 849,367.6 848,367.6 847,367.6 846,367.6 845,367.6 844,367.6 843,367.6 842,367.6 841,367.6 840,367.6 839,367.5 838,367.5 837,367.5 836,367.5 835,367.4 834.3,367 833,366.6 832,366.6 831,366.6 830,366.5 829,366.5 828,366.5 827,366.5 826,366.5 825,366.5 824,366.5 823,366.5 822,366.5 821,366.5 820,366.5 819,366.5 818,366.5 817,366.5 816,366.5 815,366.3 814.4,366 813,365.6 812,365.5 811,365.5 810,365.6 809,365.8 808,366.3 807,366.5 806,366.3 805.4,366 804,365.6 803,365.5 802,365.5 801,365.5 800,365.5 799,365.5 798,365.5 797,365.4 796.3,365 795,364.6 794,364.6 793,364.6 792,364.6 791,364.6 790,364.4 789.2,364 788,363.7 787,363.6 786,363.6 785,363.6 784,363.6 783,363.6 782,363.6 781,363.8 780,364.4 779,364.6 778,364.8 777,365.4 776,365.8 775,366.4 774,366.6 773,366.8 772,367.3 771,367.7 770.1,368 769,367.5 768.5,367 767.3,366 766,365.3 765,364.5 764.5,364 764,363.4 763.3,362 762.4,361 761.5,360 761,359.5 760.5,359 760,358.4 759.3,357 758.3,356 757.2,355 756,354.6 755,354.4 754.3,354 753,353.6 752,353.5 751,353.5 750,353.3 749.4,353 748,352.5 747,352.5 746,352.5 745,352.5 744,352.5 743,352.5 742,352.5 741,352.5 740,352.3 739.4,352 738,351.5 737,351.4 736.3,351 735,350.6 734,350.6 733,350.6 732,350.6 731,350.6 730,350.6 729,350.4 728.2,350 727,349.7 726,349.7 725,349.7 724,349.6 723,349.7 722,350 721.6,351 721.4,352 721,352.6 720.5,354 720.4,355 720,355.6 719.4,357 719,357.6 718.4,359 718,359.6 717.4,361 717,361.6 716.4,363 716,363.6 715.4,365 714.7,366 714.3,367 713.5,368 713,368.5 712.5,369 712,369.5 711.5,370 711,370.5 710.5,371 710,371.5 709.5,372 709,372.5 708.5,373 708,373.5 707.1,374 706,373.7 705,373.3 704,372.5 703.4,372 702,371.3 701,370.4 700.2,369 699.4,368 699,367.4 698.3,366 697.7,365 697.3,364 696.7,363 696.3,362 695.7,361 695.5,360 695.5,359 695.5,358 695.5,357 695.5,356 695.5,355 695.5,354 695.5,353 695.5,352 695.5,351 695.5,350 695.3,349 694.7,348 694.4,347 694,346.4 693.6,345 693.3,344 692.7,343 692.2,342 691.4,341 690.3,340 689,339.4 688.3,339 687,338.4 686.3,338 685,337.6 684,337.6 683,337.6 682,337.6 681,337.6 680,337.6 679,337.6 678,337.6 677,337.6 676,337.8 675,338.1 674,337.8 673,337.6 672,337.4 671.3,337 670,336.5 669.2,336 668,335.7 667,335.7 666,336 665,336.6 664,337 663,337.8 662,338.8 661,339.8 660,340.9 659.5,342 659,342.7 658.4,344 658,344.6 657,345.7 656,346.7 655,347.8 654.4,349 654,349.6 653,350.7 652,351.6 651,352.5 650.4,353 649,353.7 648,354.3 647,354.5 646,354.8 645,355.4 644,355.8 643,356.6 642.4,357 641,357.5 640,357.5 639,357.5 638,357.3 637,356.7 636,356.3 635,355.7 634,355.5 633,355.5 632,355.3 631,354.5 630.5,354 629.4,353 628.4,352 627.5,351 627,350.4 626.3,349 625.4,348 624.5,347 624,346.4 623.3,345 622.7,344 622.3,343 621.7,342 621.5,341 621.5,340 621.3,339 620.7,338 620.5,337 620.3,336 619.7,335 619.5,334 619.3,333 618.7,332 618.5,331 618.2,330 617.4,329 616,328.5 615,328.5 614,328.5 613,328.5 612,328.5 611,328.5 610,328.5 609,328.5 608,328.5 607,328.5 606,328.5 605,328.5 604,328.5 603,328.5 602,328.5 601,328.5 600,328.3 599,327.5 598.5,327 598,326.5 597.5,326 597,325.4 596.5,324 596.5,323 596.5,322 596.5,321 596.5,320 596.5,319 596.5,318 596.5,317 596.5,316 596.2,315 595.6,314 595.2,313 594.5,312 594.1,311 593.1,310 592,310.9 591.5,312 591,312.6 590,313.6 589,314.5 588.4,315 587,315.7 586,316.5 585.3,317 584,317.4 583,317.6 582,318 581,317.3 580.4,316 580,315.4 579.3,314 578.7,313 578.3,312 577.5,311 577,310.3 576.5,309 576.3,308 575.7,307 575.3,306 574.7,305 574.5,304 574.5,303 574.3,302 573.7,301 573.5,300 573.5,299 573.4,298 573.2,297 572.6,296 572.2,295 571.5,294 571.1,293 570.1,292 569,291 568,290.7 567,290.6 566.1,290 565,289.7 564,289.5 563.2,289 562,288.7 561,288.6 560,288.4 559.3,288 558,287.6 557,287.4 556.3,287 555,286.4 554.4,286 553.2,285 552,284.5 551.2,284 550,283.5 549.2,283 548,282.5 547.2,282 546.1,281 545,280.6 544.1,280 543,279.7 542,279.6 541.1,279 540,278.7 539,278.6 538.1,278 537,277.7 536,277.5 535.1,277 534,276.7 533,276.7 532,276.9 531,277.5 530,278 529.7,279 529.6,280 529.4,281 528.7,282 528.3,283 527.5,284 527,284.6 526,285.7 525.5,287 525.3,288 524.7,289 524.4,290 524.2,291 523.4,292 522,292.9 522.3,294 524,294.5 524.9,295 525.6,296 525.9,297 525.9,298 525.7,299 525.4,300 525,300.8 524.4,302 524,302.6 523,303.9 522.1,305 521.1,306 520,307 519,307.8 518,308.5 517.3,309 516,309.8 515,310.3 514,310.8 513,311.2 512,311.5 511,311.7 510,311.9 509,311.9 508,311.8 507,311.5 506.1,311 505.4,310 505.1,309 505.1,308 505.3,307 505.6,306 506,305.2 506.6,304 507,303.4 508,302.1 508.9,301 509.6,300 509.4,299 508,298.5 507,298.4 506,298.3 505,297.7 504,297.5 503,297.4 502,297.3 501,296.7 500,296.5 499,296.4 498,296.4 497,296.2 496,295.7 495,295.5 494,295.4 493,295.2 492,294.5 491.5,294 491,293.5 490.5,293 489,292.2 488,291.4 487,290.4 486,289.5 485.5,289 484,288.2 483,287.4 482,286.4 481,285.3 480.4,284 480,283.4 479.3,282 479,281.4 478.3,280 477.7,279 477.3,278 477,277.4 476.3,276 476,275.4 475.8,274 476.3,273 476.6,272 476.8,271 477.6,270 479,269.3 480,268.7 481,268.3 482,267.7 483,267.3 484,266.6 485,266.1 485.5,265 485.3,264 484.5,263 484,262.4 483.3,261 482.5,260 482,259.3 481.3,258 480.5,257 480,256.5 479.5,256 479,255.5 478.5,255 478,254.5 477.5,254 477,253.5 476.5,253 476,252.5 475.5,252 475,251.5 474.5,251 474,250.5 473.5,250 473,249.5 472.5,249 472,248.5 471.5,248 471,247.5 470.5,247 470,246.5 469.4,246 468,245.2 467,244.4 466,243.4 465,242.4 464,241.4 463.5,241 463,240.6 462,240.2 461,239.4 460,238.4 459,237.4 458,236.4 457,235.4 456,234.4 455,233.4 454,232.4 453,231.4 452,230.4 451,229.4 450,228.3 449.4,227 449,226.4 448.4,225 448,224.3 447.6,223 447.4,222 447,221.4 446.4,220 446,219.3 445.6,218 445.6,217 445.6,216 445.6,215 445.7,214 446,213.4 446.4,212 446.4,211 446.3,210 446.3,209 446.4,208 447,207.1 448,206.3 449,206.2 449.8,206 451,205.3 452,205 453,204.6 453.6,205 454.8,206 455.7,207 456.7,208 457.7,209 458.7,210 459.6,211 460.4,212 460.8,213 461.4,214 461.8,215 462.4,216 462.8,217 463.4,218 463.8,219 464.4,220 464.6,221 464.7,222 464.9,223 465.6,224 465.9,225 467,225.1 468,225.4 469,225.6 470,225.7 471,225.8 472,225.8 473,226.1 474,226.7 475,226.8 476,226.8 477,226.9 477.8,227 479,227.6 480,227.8 481,227.8 482,227.8 483,227.8 483.9,228 485,228.6 486,228.7 487,228.8 488,228.8 489,228.8 490,229 491,229.6 492,229.7 493,229.8 494,229.8 495,229.8 496,229.8 497,229.8 498,229.8 499,229.8 500,229.8 501,229.8 502,229.8 503,229.8 504,229.8 505,229.7 506,229.7 507,229.7 508,229.7 509,229.5 509.9,229 511,228.7 512,228.7 513,228.7 514,228.5 514.9,228 516,227.7 517,227.7 518,227.7 519,227.5 519.9,227 521,226.7 522,226.7 523,226.6 524,226.4 524.7,226 526,225.6 527,225.5 528,225.3 529,224.7 530,224.5 531,224.2 532,223.7 533,223.4 534,223.3 535,223 536,222 537,221 537.8,220 538.3,219 539,218 540,217 541,216 542,215 543,214.2 543.7,214 545,213 546,212.3 546.8,212 548,211 549,210.3 549.8,210 551,209.1 552,208.2 553,207.5 554,207 555,206.1 556,205.3 557,204.6 558,204.1 559,203.2 560,202.3 561,201.6 562,201.2 563,200.4 564,199.5 564.6,199 566,198.6 567,198.4 567.7,198 569,197.5 569.9,197 571,196.7 572,196.6 573,196.6 574,196.4 574.7,196ZM910.5,386 909,386.8 908,387.3 907,388 906,388.7 905.3,389 904,389.8 903,390.3 902.4,391 902,391.7 901.4,393 901,393.7 900.9,395 902,395.4 903,395.6 904,395.1 905,394.3 905.8,394 907,393 908,392.2 909,391.8 909.9,391 910.6,390 911,389.4 911.8,388 912.4,387 912.1,386 911,385.8ZM936,225.9 937,225.9 938,225.9 938,227 938,228 938,229 937,229.9 936.2,231 935.5,232 935,232.5 934.4,233 933.3,233 932.8,232 932.8,231 932.8,230 933.3,229 933.8,228 934.5,227 935,226.5 935.7,226ZM883,280.9 884,280.7 885,280.9 886,281.5 887,282 887.4,283 887.2,284 886.6,285 886.2,286 885.3,287 884,287.5 883,287.8 882,288.4 881,288.6 880,288.8 879,289.3 878,289.5 877,289.5 876,289.5 875,289.4 874,289.1 873,288 873.1,287 873.9,286 874.9,285 875.8,284 876.8,283 878,282.6 879,282.3 879.6,282 881,281.6 882,281.4 882.8,281ZM872,298 873,297.9 874,297.7 874.9,298 875.5,299 875.5,300 875.2,301 874.2,302 873,302.6 872.4,303 871.1,304 870,304.5 869.3,305 868,305.5 867.2,306 866,306.4 865,306.4 864,306.4 863.3,305 863.3,304 863.3,303 864,302.2 864.9,302 866,301.4 867,300.4 868,299.4 868.7,299 870,298.4 871,298 872,298ZM853,312.9 854,312.5 855,312.2 856,312.2 857,312.7 857.2,314 856.3,315 855.3,316 854,316.9 853,317.4 852,317.9 851,317.9 850,317.1 849.9,316 850.3,315 851,314.2 852,313.4 852.7,313ZM805,411 806,410.8 807,410.8 808,410.8 809,410.9 810,411.3 811,411.6 812,411.6 813,411.8 814,412.5 814.6,413 815.7,414 816.7,415 817.7,416 818.5,417 818.9,418 819.4,419 819.6,420 819.4,421 818.6,422 818,422.6 817,423.3 816,423.7 815.3,424 814,424.3 813,424.3 812,424.1 811,423.6 810,423.5 809,423.4 808,423.1 807,422.6 806,422.2 805,421.4 804,420.4 803,419.3 802,418.1 801.7,417 801.6,416 801.6,415 801.8,414 802.6,413 803.8,412 805,411ZM551,419.9 552,419.9 553,420.7 554,421.8 553.3,423 552.2,424 551,424 550,423.4 549,423.1 548,422.1 548.8,421 550,420.6 550.7,420ZM700,429.9 701,429.6 702,429.4 703,429.4 704,429.6 705,429.7 706,429.7 707,429.9 708,430 709,430.2 710,430.8 711,431.5 711.9,433 712.4,434 712.8,435 713,435.9 712.8,437 712.4,438 712.1,439 711.6,440 711.1,441 710.4,442 709.4,443 708.5,444 708,444.5 707,446 706,447 705,447.4 704,448 703,448.7 702.2,449 701,449.3 700,449.9 699,450.2 698,450.3 697,450.5 696.1,451 695,451.3 694,451.4 693,451.8 692.2,452 691,452 690,451.8 689,451.3 688.1,451 687,450.3 686.2,450 685,449.2 684,448.1 683.9,447 683.8,446 683.9,445 684.2,444 684.6,443 684.9,442 685.6,441 686,440.1 686.8,439 687.3,438 688,437.3 689,436.7 689.9,436 691,435.1 692,434.6 692.9,434 694,433.1 695,432.6 695.9,432 697,431.2 698,430.9 699,430.4 699.8,430ZM819,442 820,441.8 821,441.8 822,441.8 823,442 824,442.9 824.6,444 825,444.7 825.3,446 825.1,447 824.5,448 824.1,449 823,449.7 822,450.3 821,450.6 820,450.4 819.2,450 818,449.3 817,448.3 816.5,447 816.5,446 816.6,445 816.9,444 817.9,443 818.9,442ZM926,464.9 927,464.6 928,464.3 929,464.3 930,464.3 930.6,465 930.4,466 930,467 929.9,468 929.9,469 929.9,470 929.6,471 929,471.9 928,472.9 927,473.4 926.2,474 925.1,475 924,475.9 923,476.7 922.1,477 921,477 920,477 919,476.9 918,476.8 917.2,476 917.1,475 917,474.1 917,473 916.8,472 916.4,471 916.2,470 916.2,469 916.4,468 917,467.4 918,467.2 918.8,467 920,466.5 921,466.1 922,466.1 923,465.9 924,465.4 925,465.1 926,464.9ZM844,468.6 845,469 846,469 847,468.7 847.6,469 849,469.6 849.6,470 850.7,471 852,471.7 852.5,473 852.6,474 852.6,475 852.8,476 853.4,477 853.7,478 855,478.5 856,478.2 857,477.3 858,476.6 859,476.2 860,475.5 861,475.2 862,474.6 863,474.4 864,474.2 865,473.6 866,473.4 867,473.4 868,473.2 869,472.6 870,472.4 871,472.2 872,471.8 873,472.2 874,472.8 874.9,472 875,471.2 875.3,470 876,469.4 877,469.4 878,469.4 879,469.4 879.5,470 879.6,471 879.6,472 879.7,473 879.7,474 879.8,475 879.8,476 880,476.9 880.4,478 880.7,479 880.7,480 880.8,481 880.8,482 880.8,483 880.8,484 880.7,485 880.1,486 879,486.7 878,487.2 877,487.2 876.3,486 875,485.5 874,485.5 873,485.5 872,485.5 871,485.6 870,485.6 869,485.6 868,485.6 867,485.6 866,485.9 865,486.4 864,486.6 863,486.6 862,486.6 861,486.9 860,487.4 859,487.6 858,487.8 857,488.4 856,488.7 855,489.3 854,489.5 853,489.7 852.1,490 851,489.4 850,489.7 849,490.4 848,490.8 847,491.6 846,492.6 845,493.4 844,493.8 843,494.4 842,494.5 841,494.8 840,495.4 839,495.8 838.5,497 838.3,498 837.7,499 837.4,500 837.4,501 837.2,502 836.6,503 836.4,504 836.4,505 836.2,506 835.6,507 835.2,508 834.6,509 834.4,510 834.2,511 833.6,512 833.2,513 832.4,514 831.4,515 830,515.8 829.5,515 829,514.4 828.4,513 828,512.4 827.6,511 827.6,510 827.8,509 828.4,508 828.6,507 828.6,506 828.6,505 828.6,504 828.8,503 829.4,502 829.6,501 829.6,500 829.6,499 829.6,498 829.5,497 829.3,496 829,495.1 828,495.6 827,496.5 826.4,497 825,497.6 824,498.4 823.4,499 822.4,500 821.3,501 820,501.6 819,502.4 818.3,503 817,503.6 816,504.4 815.3,505 814,505.6 813,506.4 812.3,507 811,507.4 810,507.4 809,507.4 808,507.6 807,507.8 806.5,507 806,506.4 805.8,505 806.6,504 807.6,503 808.4,502 808.8,501 809.6,500 810.6,499 811.6,498 813,497.4 814,496.6 814.6,496 816,495.4 816.6,495 818,494.4 819,493.5 819.6,493 821,492.4 821.6,492 823,491.6 824,491.6 825,491.5 826,491.4 827,491 827.7,492 828,492.9 829,493.5 829.2,492 829.3,491 829.4,490 829.5,489 829.5,488 829.7,487 830.3,486 830.6,485 831,484.4 831.4,483 831.6,482 832,481.3 832.5,480 833,479.4 834,478.1 834.4,477 835,476 835.4,475 836,474.1 837,473.1 838,472.4 839,472 840,471.1 841,470.1 842,469.4 843,469 844,468.6ZM812,472.5 813,472.3 814,472.3 815,472.3 816,472.4 817,472.4 818,472.4 819,472.4 820,472.4 821,472.4 822,472.5 823,472.6 824,473.5 824.8,475 825.6,476 826,476.7 825.6,478 825,478.7 824.4,480 824,480.6 823,481.6 822,482.4 821,482.6 820,482.8 819,483.4 818,483.6 817,483.6 816,483.8 815,484.4 814,484.6 813,484.8 812,485.4 811,485.5 810,485.5 809,485.5 808,485.5 807,485.5 806,485.5 805,485.5 804,485.5 803,485.5 802,485.5 801,485.5 800,485.7 799,486.3 798,486.5 797,486.7 796,487.3 795,487.5 794,487.7 793,488.5 792.3,490 791.4,491 790.6,492 790.3,493 789.6,494 789.2,495 788.4,496 787.6,497 787.2,498 786.6,499 786.2,500 785.5,501 785,501.8 784,501.6 783,501.2 782,500.6 781,500.1 780.8,499 781.4,498 781.8,497 782.4,496 782.8,495 783.4,494 783.8,493 784.4,492 784.8,491 785.6,490 786.6,489 787.5,488 788,487.5 788.7,486 789.5,485 790,484.5 790.5,484 791,483.5 791.5,483 792,482.5 792.6,482 794,481.3 795,480.5 795.5,480 797,479.2 798,478.3 799,477.1 800,476.1 801,475.4 802,475 803,474.4 804,474.3 805,474 806,473.4 807,473.3 808,473.3 809,473.3 810,473.3 811,473.1 812,472.5ZM887,484.7 888,484.6 889,484.7 890,485 890.3,486 890,487 889,487.3 888,487.4 887,487.3 886,486 886.5,485ZM915,496 915.7,497 916.4,498 916.8,499 917.4,500 917.8,501 918.3,502 918.5,503 918.3,504 917.8,505 917.6,506 917.5,507 917.4,508 917,508.6 916.5,510 916.4,511 916,511.7 915.4,513 915,513.6 914,514.7 913,515.8 912.5,517 912,517.6 911,518.5 910,518.9 909,519.5 908,519.8 907,520.4 906,520.7 905.1,521 904.3,520 903.6,519 903.2,518 902.3,517 901,516.7 900,518 899.4,519 899,519.8 898.3,521 897.7,522 897.2,523 896.6,524 896.1,525 895.5,526 895.1,527 894.5,528 894.1,529 893.1,530 892.4,531 892.1,532 891.4,533 891,534 890,534.3 889,534.4 889.6,533 889.7,532 889.7,531 890,530 890.6,529 890.9,528 891.6,527 891.9,526 892.6,525 892.9,524 893.5,523 893.9,522 894.4,521 894.6,520 894.8,519 895.3,518 895.7,517 896.2,516 896.7,515 897,514.2 897.6,513 897.9,512 898,511 897.5,510 897,509.4 896,508.3 895,507.2 894,506.2 893,505.3 892.4,505 891,504.7 890,504.7 889,504.8 888,504.9 887.1,505 886,505 885,504.9 884,504.8 883,505.3 882,505.7 881,506.5 880.5,507 879,507.5 878,507.7 877,508.4 876,508.8 875,509.4 874,509.6 873,509.8 872,510.4 871,510.8 870,511.5 869,511.9 868,512.7 867,513.4 866,513.8 865,514.7 864,515.4 863,516 862.7,517 862.7,518 862.7,519 862.6,520 862,520.8 861,521.9 860,522.9 859,523.9 858,524.9 857,525.6 856,525.9 855,526.4 854.1,526 853,525.6 852.2,525 851.1,524 850.1,523 849.1,522 848.1,521 847.4,520 847.3,519 847.3,518 847.3,517 847.3,516 847.5,515 848,514.2 848.5,513 849,512.2 849.5,511 850,510.2 850.3,509 850.3,508 850.3,507 850.3,506 850.4,505 851,504 851.1,503 850.6,502 850.5,501 850.5,500 850.6,499 851,498.1 852,498.5 852.5,499 853.7,500 855,500.6 855.6,501 856.8,502 858,502.3 859,502.3 860,502.3 861,502.3 862,502.3 863,502.3 864,502.3 865,502.3 866,502.3 867,502.3 868,502.3 869,502.1 870,501.6 871,501.4 872,501.4 873,501.4 874,501.4 875,501.3 876,501.4 877,501.4 878,501.4 879,501.2 880,500.1 881,499.9 882,500 883,500 884,500 885,500.1 886,500.1 887,500.1 888,500.1 889,500 890,499.9 891,500.2 892,500.4 893,500.5 894,500.6 895,500.8 896,501.4 897,501.5 898,501.5 899,501.4 900,501.7 901,502.5 901.6,503 903,503.9 904,504 905,503.2 905.5,502 906,501.3 907,500.2 908,499.2 908.5,498 909,497.4 910,496.6 911,496.4 912,496.4 913,496.4 914,496.3 914.9,496ZM913,522.8 914,523.2 915,523.4 916,523.4 917,523.6 917.7,524 919,524.5 920,524.5 921,524.8 921.7,526 922.3,527 922.5,528 922.8,529 923.4,530 923.7,531 924.3,532 924.5,533 924.5,534 924.3,535 923.7,536 923.5,537 923.5,538 923.5,539 923.3,540 922.7,541 922.5,542 922.3,543 921.7,544 921.3,545 920.7,546 920.3,547 919.7,548 919.3,549 918.7,550 918.5,551 918.5,552 918.3,553 917.8,554 917.6,555 917.6,556 917.6,557 917.4,558 917,558.8 916.6,560 916.4,561 916,561.8 915.4,563 914,563.9 913,564.7 912,565.5 911,565.8 910,566.3 909,565.7 908.2,565 907.2,564 906,563.4 905.4,563 904.6,562 904.4,561 904.3,560 904.1,559 903.6,558 903.4,557 903.4,556 903.6,555 904,554.2 904.5,553 905,552.2 905.5,551 906,550.3 906.6,549 907,548.4 908,547.3 908.6,546 908.9,545 908.5,544 908,543 907.1,542 906.1,541 905.4,540 905.3,539 905,538 904.4,537 904.3,536 904.3,535 904.4,534 905,533.1 905.3,532 905.3,531 905.4,530 906,529.1 906.5,528 907,527.3 908,526.2 909,525.5 910,525.1 911,524.3 912,523.3 913,522.8ZM936,530.8 937,530.6 938,530.6 938,532 938,533 938,534 938,535 938,536 938,537 938,538 938,539 938,540 938,541 937,541.4 936,541.2 935,540.3 934.6,539 934.6,538 934.6,537 934.6,536 934.6,535 934.6,534 934.6,533 934.8,532 935.7,531ZM866,546.8 867,546.8 868,546.8 868.7,547 869.2,548 869.2,549 869.1,550 868.6,551 867,551.5 866,551.2 865.3,551 864.8,550 864.8,549 864.8,548 865,547.3 866,546.8ZM919,564.7 920,564.6 921,564.6 922,564.6 923,564.7 924,565.5 924.5,566 925,566.6 925.4,568 925.4,569 925.4,570 925.2,571 924.4,572 923.3,573 922,573.4 921,573.4 920,573.4 919,573.2 918,572.5 917.5,572 917,571.5 916.5,571 916,570.4 915.6,569 915.7,568 916.5,567 917,566.5 917.5,566 918,565.5 918.6,565ZM879,566.9 880,566.8 881,566.9 881.3,568 880,568.2 879,568.1 878.9,567ZM924,601.9 925,601.6 926,601.7 926.6,603 927,603.6 927.4,605 927.2,606 926.6,607 926.5,608 926.4,609 926.1,610 925.2,611 924,611.3 923,611.3 922.5,610 922,609.2 921.7,608 921.9,607 922.5,606 922.6,605 922.7,604 922.9,603 923.9,602ZM936,604.8 937,604.6 938,604.6 938,606 938,607 938,608 938,609 938,610 938,611 938,612 938,613 938,614 938,615 938,616 938,617 938,618 938,619 937,620 936,619.4 935,618.3 934.6,617 934.6,616 934.6,615 934.6,614 934.6,613 934.6,612 934.6,611 934.6,610 934.6,609 934.6,608 934.6,607 934.8,606 935.7,605ZM827,639.7 828,639.4 829,639.4 830,639.4 831,639.5 831.9,640 833,640.7 834,641.2 835,641.7 836,642.6 836.9,644 837.6,645 838,645.7 838.5,647 838.5,648 838.4,649 838.2,650 837.6,651 837.2,652 836.6,653 836,654 835,655 834,655.5 833.1,656 832,656.6 831.4,657 830,657.5 829,657.5 828,657.4 827,657 826,656.4 825.1,656 824,655.2 823,654.5 822.2,654 821.6,653 821,652 820.6,651 820,650 819.8,649 819.8,648 819.8,647 819.9,646 820.6,645 821.4,644 822,643.1 823,642.4 824,641.4 825,640.7 826,640.2 827,639.7Z"/>
<path fill="#00FF00" fill-rule="evenodd" d="M755,121.7 756,121.6 757,121.6 758,121.9 757.5,123 757,123.9 756,124.5 755.4,125 754,125.7 753,126.4 752,126.9 751,127.6 750,128 749,128.8 748,129.5 747,129.9 746,130.4 745,130.9 744,131.6 743.4,132 742,132.7 741,133.5 740.4,134 739,134.7 738,135.3 737,135.7 736,136.3 735,136.7 734,137.3 733,137.7 732,138.3 731,138.7 730,139.3 729,139.7 728,140.3 727,140.7 726,141.3 725,141.7 724,142.3 723,142.7 722,143.3 721,143.7 720,144.3 719,144.7 718,145.3 717,145.8 716,146.4 715,146.9 714,147.6 713.5,148 712,148.7 711,149.4 710,149.8 709,150.4 708,150.8 707,151.4 706,151.8 705,152.4 704,152.8 703,153.4 702,153.8 701,154.4 700,154.8 699,155.4 698,155.8 697,156.4 696,156.8 695,157.4 694,157.8 693,158.4 692,158.8 691,159.3 690,159.8 689,160.3 688,160.7 687,161.3 686,161.7 685,162.3 684,162.7 683,163.3 682,163.7 681,164.3 680,164.5 679,164.8 678,165.3 677,165.8 676,166.4 675,166.8 674,167.4 673,167.8 672,168.4 671,168.8 670,169.3 669,169.6 668,169.8 667,170.4 666,170.5 665,170.6 664,170.9 663,171.4 662,171.7 661,171.9 660,172.4 659,172.6 658,172.9 657,173.2 656,173.1 655,173.3 654,173.4 653,173.5 652,173.6 651,173.6 650,173.6 649,173.6 648,173.8 647,174.2 646,174.4 645,174.4 644,174.3 643,174.3 642,174.2 641,174.3 640,174.5 639,174.2 638.2,174 637,173.3 636,173 635,172.4 634,172 633,171.4 632.1,171 631,170.3 630.4,170 629.7,169 629,168 628.6,167 628,166.1 627.6,165 627,164.1 626.6,163 626.7,162 628,161.6 629,161 630,160.8 631,160.6 632,160.3 633,160.8 634,161.8 635,162.8 636,163.7 637,164.7 638,165.4 639,165.6 640,165.6 641,165.6 642,165.8 643,166.3 644,166.4 645,166.4 646,166.4 647,166.4 648,166.4 649,166.3 650,166.1 651,165.6 652,165.4 653,165.4 654,165.2 655,164.6 656,164.4 657,164.2 658,163.7 659,163.4 660,163.4 661,163.1 662,162.6 663,162.4 664,162.2 665,161.6 666,161.2 667,160.6 668,160.3 669,160 670,159.1 671,158.2 672,157.4 672.5,157 674,156.3 675,155.7 676,155.3 677,154.7 678,154.5 679,154.3 680,153.7 681,153.3 682,152.7 683,152.3 684,151.7 685,151.5 686,151.2 687,150.6 688,150.2 689,149.6 690,149.4 691,149.1 692,148.5 693,148.1 694,147.5 695,147.1 696,146.5 697,146.1 698,145.6 699,145.7 700,145.3 700.9,145 702,144.3 702.9,144 704,143.3 704.9,143 706,142.4 707,142 708,141.4 709,141 710,140.4 711,140 712,139.4 713,139 714,138.4 715,138 716,137.4 717,137 718,136.4 719,136 720,135.4 721,135 722,134.4 723,134 724,133.4 725,133.2 725.8,133 727,132.3 727.9,132 729,131.3 729.9,131 731,130.3 731.9,130 733,129.3 733.9,129 735,128.4 736,128.2 736.9,128 738,127.3 738.9,127 740,126.4 741,126.2 741.8,126 743,125.3 743.9,125 745,124.4 746,124.2 746.9,124 748,123.4 749,123 750,122.6 751,122.7 752,122.5 753,122.4 754,122.3 755,121.7ZM367,152.4 368,152.1 369,152.2 370,152.6 370.5,153 371,153.4 371.5,154 372,154.7 372.6,156 372.9,157 373,158 373,159 372.9,160 372.7,161 372.2,162 371.4,163 370,163.8 369,163.9 368,163.6 367,163 366,162 365.4,161 365,160.2 364.6,159 364.5,158 364.5,157 364.6,156 364.8,155 365.3,154 366,153.1 367,152.4ZM385,175.9 386,175.5 387,175.3 388,175.3 389,175.3 390,175.5 391,175.8 392,176.2 393,176.7 393.6,177 395,177.9 396,178.8 397,179.7 398,180.9 398.7,182 399.2,183 399.6,184 399.9,185 400,186 400,187 399.8,188 399.3,189 398.5,190 398,190.4 397,190.9 396,191.1 395,191.2 394,191.2 393,191.1 392,190.8 391,190.5 390,190.1 389,189.6 388.1,189 387,188.2 386,187.3 385,186.2 384.1,185 383.5,184 383,183 382.7,182 382.5,181 382.4,180 382.6,179 382.9,178 383.5,177 384,176.5 384.7,176ZM429,190.6 430,190.6 431,190.9 432,191.4 432.6,192 433.4,193 434,194 434.4,195 434.7,196 434.9,197 435,198 435,199 434.9,200 434.7,201 434.4,202 434,202.9 433.2,204 432,205 431,205.4 430,205.4 429,205.1 428,204.6 427.4,204 426.6,203 426,202 425.6,201 425.3,200 425.1,199 425,198 425,197 425.1,196 425.3,195 425.6,194 426,193.1 426.8,192 428,191 429,190.6ZM590,196.8 591,197 592,197.1 593,197.1 594,197.1 595,197.1 596,197.1 597,197.1 598,197.1 599,197.1 600,197.1 601,197.1 602,197.1 603,197.1 604,197.1 605,197.1 606,197.1 607,197.1 608,197.1 609,197.1 610,197.4 611,197.9 612,198.1 613,198.5 614,199 615,199.5 616,199.9 617,200.7 616.6,202 616,202.8 615.2,204 615,204.8 614.5,206 614.6,207 615,207.6 615.7,209 616.6,210 617.8,211 619,211.5 619.8,212 621,212.3 622,212.3 623,212.3 624,212.4 625,212.6 625.8,213 627,213.4 628,213.4 629,213.5 630,213.6 630.6,214 632,214.4 633,214.4 634,214.5 635,214.6 635.6,215 637,215.4 638,215.4 639,215.5 640,215.7 640.6,216 642,216.4 643,216.5 644,216.5 645,216.7 645.6,217 647,217.4 648,217.5 649,217.5 650,217.7 651,218.4 651.6,219 652.6,220 653.7,221 654.9,222 655.9,223 657,224 658,224.3 659,224.3 660,224.6 660.7,225 662,225.4 663,225.6 663.7,226 665,226.4 666,226.7 666.6,227 668,227.5 669,227.7 670,228.3 671,228.6 671.6,229 673,229.5 674,229.7 674.6,230 676,230.5 677,230.7 678,231.3 679,231.5 680,231.7 681,232.2 682,232.4 683,232.4 684,232.4 685,232.4 686,232.4 687,232.5 688,232.5 689,232.5 690,232.5 691,232.5 692,232.5 693,232.5 694,232.5 695,232.5 696,232.5 697,232.5 698,232.5 699,232.5 700,232.5 701,232.5 702,232.4 703,232.3 704,231.8 705,231.6 706,231.5 707,231.5 708,231.3 708.6,231 710,230.6 711,230.5 712,230.4 713,230.1 714,230.4 715,230.6 716,230.8 717,231.3 718,231.7 719,232.3 720,232.7 720.4,234 720.2,235 719.6,236 719.2,237 718.4,238 718,238.6 717.3,240 716.7,241 716.3,242 716.1,243 717,243.7 718,244.5 718.7,245 720,245.6 720.6,246 722,246.6 722.6,247 724,247.6 724.6,248 725.8,249 727,249.5 727.9,250 729,250.3 730,250.4 731,250.4 732,250.6 732.6,251 734,251.4 735,251.5 736,251.5 737,251.8 738,252.6 738.5,253 739,253.6 739.5,254 740,254.5 741,254.9 741.3,256 740,257 739,257.5 738.2,258 737,258.6 736.4,259 735,259.7 734,260.3 733,260.7 732,261.3 731,261.7 730,262.4 729,262.8 728,263.6 727,264.3 726,264.8 725,265.8 725.5,267 726,267.5 726.6,268 728,268.7 729,269.5 729.7,270 731,270.6 732,271.4 732.7,272 734,272.6 734.6,273 736,274 737,274.1 738,273.7 738.9,273 739.5,272 740,271.4 741,271.6 742,271.9 743,272.6 744,272.9 745,273.6 746,274 747,274.6 748,275 749,275.6 750,276 751,276.9 752,277.6 753,278 754,278.9 755,279.9 756,280.6 757,281 758,281.9 759,282.6 760,283 761,283.9 762,284.8 763,285.5 764,285.9 765,286.7 766,287.7 767,288.4 768,288.8 769,289.7 770,290.7 771,291.4 772,291.8 773,292.7 774,293.6 775,294.4 776,294.8 777,295.6 778,296.6 778.6,297 780,297.7 781,298.3 782,298.7 783,299.3 784,299.7 785,300.3 786,300.7 787,301.3 788,301.7 789,302.3 790,302.7 791,303.3 792,303.7 793,304.3 794,304.7 794.6,305 796,305.7 797,306.4 797.6,307 798.6,308 799.7,309 801,309.7 802,310.3 803,310.8 804,311.4 805,311.8 806,312.5 807,312.9 808,313.6 809,313.9 810,314.6 811,314.9 812,315.5 813,315.9 814,316.5 815,316.9 816,317.5 817,317.8 818,318.4 819,318.5 820,318.5 821,318.4 822,318.4 823,318.5 824,318.6 824.6,319 826,319.4 827,319.5 828,319.6 828.6,320 830,320.4 831,320.4 832,320.5 833,320.6 833.6,321 835,321.4 836,321.4 837,321.5 838,321.5 839,321.6 840,321.8 841,322.3 842,322.7 843,323.4 843.6,324 844.6,325 845.6,326 846.5,327 847,327.6 847.7,329 848.6,330 850,330.7 851,331.3 852,331.7 853,332.3 854,332.7 855,333.3 856,333.7 857,334.3 858,334.7 859,335.3 860,335.7 861,336.3 862,336.7 863,337.3 864,337.5 865,337.7 866,338.3 867,338.5 868,338.7 869,339.2 870,339.5 871,339.5 872,339.4 872.8,339 874,338.6 875,338 876,337.8 877,337.7 878,337.5 878.8,338 879.3,339 880,339.9 881,341 881.4,342 882,343 882.1,344 881.6,345 881.5,346 881.6,347 882,348 883,348.4 884,348.4 885,348.4 886,348.4 887,348.4 888,348.4 889,348.5 890,348.6 890.6,349 892,349.6 892.6,350 894,350.3 894.6,350 896,349.6 897,349.5 897.9,349 899,348.7 900,348.1 901,347.9 902,347.8 903,347.9 904,347.9 905,347.9 905.7,349 905,350 904.3,351 904,352 903.5,353 903.2,354 903,354.9 903.6,356 904,356.7 904.3,358 905,358.5 905.6,359 907,359.4 908,359.4 909,359.5 910,359.7 910.6,360 912,360.4 913,360.5 914,360.5 915,360.7 915.6,361 917,361.4 918,361.5 919,361.5 920,361.7 921,362.4 921.6,363 922.7,364 924,364.5 925,364.8 926,365.4 927,365.7 928,365.7 929,365.7 930,365.1 931,364.7 932,364.1 933,363.8 934,363.6 935,363 936,362.7 937,362.7 937.7,364 937.9,365 938,366 938,367 938,368 938,369 938,370 938,371 938,372 938,373 938,374 938,375 938,376 938,377 938,378 938,379 938,380 938,381 938,382 938,383 938,384 938,385 938,386 938,387 938,388 938,389 938,390 938,391 938,392 938,393 938,394 938,395 938,396 938,397 938,398 938,399 938,400 938,401 938,402 938,403 938,404 938,405 938,406 938,407 938,408 937.9,409 937.8,410 937.8,411 937.7,412 937.6,413 937.5,414 937.4,415 937.2,416 936.3,417 935,417.7 934.3,418 933,418.2 932,418.8 931,419.2 930,419.5 929,419.3 928,419.2 927,419 926,418.4 925,418.1 924,417.5 923,417.4 922,417.1 921,416.2 920.4,415 919.5,414 918.4,413 917.4,412 916.4,411 915.4,410 914.2,409 913,408.6 912,408.5 911,408.3 910.4,408 909,407.6 908,407.5 907,407.3 906.4,407 905,406.4 904,405.6 903.3,405 902,404.4 901,403.6 900.4,403 899.4,402 898.3,401 897,400.4 896,400.3 895,400.3 894,400.3 893,400.5 892.1,401 891,401.5 890.2,402 889,402.4 888,402.5 887.2,403 886,403.4 885,403.6 884.4,404 883,404.6 882.4,405 881,405.5 880,405.7 879.4,406 878,406.5 877.2,407 876,407.4 875,407.5 874.2,408 873,408.3 872,408.4 871,408.5 870.2,409 869,409.3 868,409.4 867,409.7 866,409.3 865.2,409 864,408.3 863,408.1 862,407.7 861,407 860.9,406 861.3,405 862,404.2 863,403.1 863.8,402 864.2,401 865,400.1 866,399.1 867,398.1 868,397 868.7,396 869,395.3 870,394.1 871,393.1 872,392.1 873,391.1 874,390.1 874.8,389 875.3,388 876,387.2 877,386.2 877.8,385 878.3,384 878.8,383 879.3,382 879.8,381 880.3,380 880.8,379 881,378.3 881.7,377 881.6,376 881,375.2 880,374.1 879.5,373 879,372.4 878,371.4 877.4,371 876,370.3 875,369.6 874.3,369 873,368.5 872,368.3 871,367.7 870,367.3 869,366.7 868,366.5 867,366.2 866,365.6 865,365.4 864,365.4 863,365.4 862,365.4 861,365.4 860,365.4 859,365.4 858,365.5 857,365.5 856,365.5 855,365.5 854,365.5 853,365.5 852,365.5 851,365.8 850,366.3 849,366.5 848,366.5 847,366.5 846,366.5 845,366.5 844,366.5 843,366.5 842,366.5 841,366.5 840,366.5 839,366.5 838,366.5 837,366.5 836,366.5 835,366.3 834,365.7 833,365.5 832,365.5 831,365.5 830,365.5 829,365.5 828,365.5 827,365.5 826,365.5 825,365.5 824,365.5 823,365.5 822,365.5 821,365.5 820,365.5 819,365.5 818,365.5 817,365.5 816,365.5 815,365.3 814,364.7 813,364.5 812,364.5 811,364.5 810,364.5 809,364.7 808,365.3 807,365.5 806,365.3 805,364.7 804,364.5 803,364.5 802,364.5 801,364.5 800,364.5 799,364.5 798,364.5 797,364.3 796,363.7 795,363.5 794,363.5 793,363.4 792,363.4 791,363.4 790,363.2 789,362.6 788,362.4 787,362.3 786,362.3 785,362.3 784,362.3 783,362.2 782,362.2 781,362.3 780,362.8 779,363.1 778,363.2 777,363.7 776,364.2 775,364.7 774.3,365 773,365.2 772,365.7 771.4,366 770,366.3 769.4,366 768.2,365 767,364.2 766,363.7 765.3,363 764.8,362 764.1,361 763,360 762,359 761.1,358 760.6,357 760,356.2 759,355.2 758,354.3 757,353.7 756,353.5 755,353.3 754,352.7 753,352.5 752,352.5 751,352.5 750,352.3 749,351.7 748,351.5 747,351.5 746,351.5 745,351.5 744,351.5 743,351.5 742,351.5 741,351.5 740,351.3 739,350.7 738,350.5 737,350.2 736,349.7 735,349.5 734,349.5 733,349.5 732,349.5 731,349.4 730,349.4 729,349.2 728,348.7 727,348.5 726,348.5 725,348.5 724,348.4 723,348.4 722,348.5 721.3,349 720.4,350 720.2,351 720,351.7 719.3,353 719.2,354 719,355 718.4,356 718.1,357 717.5,358 717.1,359 716.5,360 716.2,361 715.6,362 715.2,363 714.6,364 714.2,365 713.6,366 713.2,367 712.3,368 711.4,369 710.4,370 709.3,371 708.3,372 707,372.9 706,372.6 705,372.2 704,371.4 703.4,371 702,370.2 701.3,369 700.5,368 700,367.4 699.3,366 698.7,365 698.3,364 697.7,363 697.3,362 696.7,361 696.5,360 696.5,359 696.5,358 696.5,357 696.5,356 696.5,355 696.5,354 696.5,353 696.5,352 696.6,351 696.6,350 696.6,349 696,348 695.7,347 695.2,346 694.9,345 694.8,344 694.1,343 693.7,342 693,341 692.4,340 691,339.1 690,338.5 689,338.1 688,337.5 687,337.1 686,336.5 685,336.3 684,336.3 683,336.3 682,336.3 681,336.2 680,336.2 679,336.2 678,336.2 677,336.2 676,336.2 675,336.5 674,336.2 673,336.1 672,335.8 671,335.3 670.1,335 669,334.4 668,334.3 667,334.3 666,334.5 665.3,335 664,335.6 663,336.3 662,336.9 661.4,338 660.5,339 660,339.6 659,340.7 658.3,342 657.7,343 657.3,344 656.4,345 655.4,346 654.4,347 653.7,348 653.3,349 652.4,350 651.4,351 650.3,352 649,352.7 648,353.3 647,353.5 646,353.7 645,354.3 644,354.7 643,355.5 642.4,356 641,356.5 640,356.5 639,356.5 638,356.3 637,355.7 636,355.3 635,354.7 634,354.5 633,354.5 632,354.3 631,353.5 630.5,353 630,352.5 629.5,352 629,351.5 628.5,351 628,350.4 627.3,349 626.5,348 626,347.5 625.5,347 625,346.4 624.3,345 623.7,344 623.3,343 622.7,342 622.5,341 622.5,340 622.3,339 621.7,338 621.5,337 621.3,336 620.7,335 620.5,334 620.3,333 619.7,332 619.5,331 619.3,330 618.7,329 618.1,328 617,327.5 616,327.5 615,327.5 614,327.5 613,327.5 612,327.5 611,327.5 610,327.5 609,327.5 608,327.5 607,327.5 606,327.5 605,327.5 604,327.5 603,327.5 602,327.5 601,327.5 600,327.3 599,326.5 598.5,326 598,325.3 597.5,324 597.5,323 597.5,322 597.5,321 597.5,320 597.5,319 597.5,318 597.5,317 597.5,316 597.4,315 597,314.3 596.5,313 596,312.2 595.6,311 595,310 594.7,309 594.6,308 594,307.1 593.1,306 592.4,307 591.6,308 591.4,309 591.1,310 590.4,311 590,312 589.1,313 588,314 587,314.4 586.2,315 585,316 584,316.2 583,316.3 582,316.3 581,315 580.6,314 580,313.2 579.5,312 579,311.3 578,310.1 577.6,309 577.4,308 577,307.4 576.3,306 575.7,305 575.5,304 575.5,303 575.3,302 574.7,301 574.5,300 574.5,299 574.5,298 574.4,297 574,296.2 573.6,295 573,294 572.6,293 572,292.2 571,291.3 570,290.3 569,289.7 568,289.5 567,289.3 566,288.7 565,288.5 564,288.2 563,287.5 562,287.3 561,287.3 560,287 559,286.4 558,286.3 557,286 556,285.4 555,285 554,284.1 553,283.4 552,283.1 551,282.4 550,282.1 549,281.5 548,281.1 547,280.2 546,279.5 545,279.1 544,278.6 543,278.4 542,278.1 541,277.5 540,277.4 539,277.1 538,276.6 537,276.4 536,276.2 535,275.6 534,275.4 533,275.4 532,275.6 531.3,276 530,276.6 529,277.6 528.5,279 528.5,280 528.3,281 527.7,282 527.3,283 526.5,284 526,284.5 525.5,285 525,285.7 524.5,287 524.2,288 523.5,289 523.3,290 523,290.9 522,291.4 521.2,292 520,292.6 519.4,293 518,293.7 517,294.7 516,295.7 515,295.9 514,296.5 513,296.7 512,297.3 511,297.6 510,297.9 509,297.5 508,297.4 507,297.4 506,297.1 505,296.6 504,296.4 503,296.4 502,296.1 501,295.5 500,295.3 499,295.3 498,295.3 497,295.1 496,294.5 495,294.3 494,294.3 493.1,294 492,293 491,292 490,291.2 489,290.7 488.2,290 487.1,289 486,288 485,287.3 484.2,287 483,286 482.1,285 481.6,284 481,283.1 480.6,282 480,281.2 479.5,280 479,279.3 478.4,278 478,277.3 477.5,276 477,275.1 477,274 477.5,273 477.6,272 478,271 479,270.4 479.6,270 481,269.3 482,268.7 483,268.3 484,267.7 485,267.4 485.7,267 487,266 486.9,265 486.7,264 486,263.1 485,262 484.6,261 484,260.2 483,259.1 482.5,258 482,257.4 481,256.3 480,255.4 479,254.4 478,253.4 477,252.4 476,251.3 475,250.3 474,249.3 473,248.3 472,247.2 471,246.2 470,245.1 469,244.3 468.2,244 467,243 466,242 465.1,241 464,240 463,239.2 462,238.7 461.2,238 460.2,237 459.2,236 458.2,235 457.3,234 456.3,233 455.4,232 454.4,231 453.5,230 453,229.5 452.5,229 452,228.5 451,227 450.6,226 450,225 449.6,224 449.1,223 448.9,222 448.4,221 448,220.1 447.5,219 447.2,218 447.1,217 447.1,216 447.1,215 447.3,214 447.7,213 447.8,212 447.9,211 448.1,210 448.3,209 449,208.3 449.8,208 451,207.5 452,207.1 453,206.9 454,207.5 454.6,208 455.8,209 456.9,210 457.9,211 458.7,212 459.3,213 459.9,214 460.3,215 460.8,216 461.2,217 461.7,218 462,218.8 462.6,220 463,221 463,222 463.2,223 463.7,224 464,224.6 464.2,226 464.5,227 465,227.4 466,227.6 467,227.7 467.6,228 469,228.5 469.9,229 471,229.2 472,229.4 473,230 474,230.2 475,230.2 476,230.4 477,231 478,231.2 479,231.2 480,231.3 481,231.4 482,231.9 483,232.1 484,232.2 485,232.4 486,232.9 487,233.2 488,233.2 489,233.4 490,234 491,234.2 492,234.3 493,234.9 494,235.1 495,235.1 496,235.2 497,235.8 498,236.1 499,236.1 500,236.1 501,236.1 502,236.1 503,236.1 504,236.1 505,235.8 506,235.3 507,235.1 508,235.1 509,235.1 510,235.1 511,234.9 512,234.3 513,234.2 514,234.1 515,234.1 516,234.1 517,234.1 518,233.8 519,233.3 520,233.2 521,233.1 522,233.1 523,233.1 524,232.8 525,232.1 526,231.4 527,231.1 528,230.3 529,229.6 530,229.2 531,228.4 531.6,228 533,227.3 534,226.6 535,226.1 536,226.4 537,226.4 538,226.4 539,226.3 540,226.3 541,226.2 542,226.1 543,226.1 544,226 545,226 546,226 547,225.9 548,225.8 549,225.6 550,225.3 550.9,225 552,224.7 553,224.6 554,224.6 555,224.6 556,224.5 557,224.4 558,224.4 559,224.3 560,224.3 561,224.2 562,224.1 563,224.1 564,224.1 565,224.1 566,224.1 567,224.1 568,224.1 569,224.1 570,224 569,223.5 568,223.4 567,223.4 566,223.4 565,223.3 564,223.3 563,223.3 562,223.3 561,223.2 560,223.2 559,223.1 558,223 557,223 556,223 555,223 554,222.9 553,222.9 552,222.9 551,222.9 550,223.2 549,223.8 548,223.9 547,223.8 546,223.8 545,223.7 544,223.7 543,223.7 542,223.6 541,223.5 540,223.5 539,223.4 538,223.1 538.3,222 539,221.3 539.9,220 540.4,219 541,218.3 542,217.4 543,216.5 543.8,216 545,215.4 546,214.5 546.9,214 548,213.4 548.5,213 549,212.5 549.9,212 551,211.5 551.5,211 552,210.6 552.9,210 554,209.4 555,208.5 555.6,208 557,207 558,206.4 558.5,206 559,205.6 559.6,205 560.6,204 562,203.1 563,202.6 563.7,202 564.7,201 566,200.3 567,200.1 568,199.7 569,199.3 570,199.2 570.8,199 572,198.6 573,198.3 574,198.2 575,197.7 576,197.4 577,197.3 578,197.3 579,197.3 580,197.3 581,197.3 582,197.3 583,197.3 584,197.3 585,197.2 586,197.2 587,197.2 588,197.2 589,197 590,196.8ZM909.7,384 909,384.6 908.2,385 907,385.5 906,385.8 905.3,386 904,387 903,387.8 902,388.9 901.4,390 900.7,391 900,392 899.5,393 899,393.7 898.4,395 898,395.7 897.5,397 897.7,398 899,398.1 900,398 901,397.7 902,397.8 902.9,398 904,397.2 905,396.6 906,396.1 907,395.2 908,394.2 909,393.6 910,393.2 911,392.2 911.7,391 912.3,390 913,389.2 914,388.2 914.6,387 915,386 914.3,385 913.4,384 912,383.1 911,383.5 910,383.8ZM880,283.9 881,283.7 882,283.7 883,283.9 883.1,285 882,285.5 881.3,286 880,286.4 879,286.4 878.5,285 879.8,284ZM518,295.9 519,295.6 520,295.5 521,295.5 522,295.6 523,296 524,297 524.2,298 524.2,299 524,299.9 523.6,301 523.1,302 522.4,303 522,303.6 521,304.7 520,305.7 519,306.6 518,307.4 517.1,308 516,308.7 515.4,309 514,309.7 513,310 512,310.3 511,310.5 510,310.5 509,310.4 508,310 507,309 506.8,308 506.8,307 507,306.1 507.4,305 507.9,304 508.6,303 509,302.4 510,301.3 511,300.2 512,299.2 513,298.4 513.6,298 515,297.1 516,296.3 517,296.1 518,295.9ZM805,413.8 806,413.5 807,413.4 808,413.4 809,413.5 810,413.8 811,414.3 812,414.5 813,414.6 814,414.9 815,415.9 815.5,417 816,417.7 816.4,419 816.5,420 816.1,421 815,421.4 814,421.5 813,421.5 812,421.4 811,421.3 810,421.1 809,420.6 808,420.4 807,420.1 806,419.1 805.4,418 804.7,417 804,416.2 803.7,415 804.7,414ZM702,429.8 703,429.8 704,430.2 705,430.3 706,430.4 707,430.9 708,431.2 709,431.5 709.7,432 710.6,433 711.3,434 711.6,435 711.8,436 711.8,437 711.7,438 711.5,439 711,439.8 710.5,441 710,441.6 709,442.7 708,443.7 707,444.8 706,445.9 705,446.6 704,446.8 703,447.2 702,447.8 701.3,448 700,448.8 699,449.3 698,449.4 697,449.6 696.3,450 695,450.4 694,450.5 693,450.6 692,450.7 691,450.6 690,450.5 689,450.2 688,449.6 687,449.2 686,448.3 685.3,447 685,446 685.3,445 685.5,444 685.7,443 685.9,442 686.7,441 687.4,440 688,439.3 689,438.3 690,437.3 691,436.3 692,435.5 693,435 694,434.2 695,433.5 696,433.1 697,432.4 697.8,432 699,431.2 700,430.5 701,430.2 702,429.8ZM924,468.9 925,468.7 926,468.9 926.8,470 926.8,471 926.2,472 925.2,473 924,473.7 923.1,474 922,474.4 921,474.5 920.3,474 919.5,473 919.5,472 920,471.3 921,470.3 922,469.5 923,469.1 924,468.9ZM842,469.9 843,469.5 844,469.1 845,469.4 846,469.6 847,469.5 848,469.9 849,470.4 849.8,471 851,472 851.8,473 852,474 852,475 852.2,476 852.6,477 853,478 853.2,479 854,479.6 855,479.2 856,478.8 857,478.1 858,477.3 858.6,477 860,476.3 861,475.8 862,475.3 862.7,475 864,474.8 865,474.3 865.9,474 867,473.9 868,473.8 869,473.3 869.9,473 871,472.8 872,472.6 872.8,473 874,474 875,474.9 876,475.6 876.7,477 876.8,478 876.8,479 876.8,480 877,481 877.5,482 877.6,483 877.5,484 877.1,485 876,484.8 875,484.7 874,484.8 873,484.9 872,485 871,485 870,485.1 869,485.1 868,485.1 867,485.1 866,485.3 865,485.8 864.3,486 863,486.1 862,486.1 861,486.3 860,486.8 859.2,487 858,487.1 857,487.5 856,487.9 855,488.3 854,488.6 853,488.8 852,488.7 851,488.3 850,488.8 849,489.6 848.2,490 847,490.8 846,491.8 845,492.6 844.4,493 843,493.6 842,494 841,494.1 840,494.5 839,495 838,495.8 837.6,497 837.2,498 836.6,499 836.5,500 836.4,501 836.1,502 835.5,503 835.3,504 835.3,505 835,506 834.4,507 834,508 833.4,509 833.3,510 833,511 832.4,512 832,513 831,514 830,513.9 829.7,513 829,512 828.8,511 828.8,510 829,509 829.6,508 829.7,507 829.7,506 829.7,505 829.7,504 829.9,503 830.5,502 830.6,501 830.6,500 830.6,499 830.6,498 830.5,497 830.5,496 830.4,495 830.3,494 830.3,493 830.3,492 830.3,491 830.3,490 830.3,489 830.3,488 830.6,487 831,486 831.5,485 831.9,484 832,483.2 832.4,482 832.8,481 833.2,480 834,479 834.6,478 834.9,477 835.5,476 835.9,475 836.6,474 837.8,473 839,472.5 839.6,472 840.6,471 841.8,470ZM813,472.8 814,472.7 815,472.7 816,472.8 817,472.9 818,472.9 819,472.9 820,472.9 821,473 822,473.1 823,473.5 823.5,474 824,474.8 824.7,476 825.3,477 824.7,478 824.1,479 823.6,480 823,480.8 822,481.6 821.1,482 820,482.2 819,482.7 818.1,483 817,483.1 816,483.2 815,483.7 814.1,484 813,484.2 812,484.6 811,484.9 810,485 809,485 808,485 807,485 806,485 805,485 804,485 803,485 802,484.9 801,484.9 800,485 799,485.4 798,485.7 797,485.8 796,486.2 795,486.5 794,486.6 793.4,487 792.2,488 791.5,489 791.1,490 790.1,491 789.4,492 789,493 788.3,494 788,495 787,496 786.3,497 786,497.9 785.3,499 785,499.8 784,500.2 783.2,500 782.3,499 782.7,498 783,497.1 783.7,496 784,495 784.7,494 785,493 785.7,492 786,491 787,490 787.9,489 788.9,488 789.5,487 789.9,486 790.8,485 791.8,484 792.8,483 794,482.3 795,481.6 795.5,481 796.8,480 798,479.1 798.8,478 799.7,477 800.8,476 802,475.5 802.8,475 804,474.7 805,474.5 805.8,474 807,473.7 808,473.7 809,473.7 810,473.7 811,473.6 812,473 813,472.8ZM822,492.9 823,492.7 824,492.6 825,492.6 826,492.6 826.6,493 827,493.6 827.1,495 826.1,496 825,496.4 824.2,497 823,498 822,499 821,500 820,500.3 819.1,501 818,501.9 817,502.3 816,503 815,503.9 814,504.3 813,505 812,505.8 811,506.2 810,506.2 809,506.2 808,506.2 807.3,506 807.2,505 808,504.1 809,503 809.7,502 810,501 811,500 812,499 813,498.6 813.9,498 815,497 816,496.6 816.9,496 818,495.6 818.8,495 819.9,494 821,493.6 821.8,493ZM911,496.9 912,496.9 913,497 914,496.9 915,497.2 915.5,498 916,498.8 916.6,500 917,500.8 917.5,502 917.8,503 917.5,504 917.1,505 917,505.9 916.9,507 916.6,508 916.1,509 916,509.8 915.6,511 915.1,512 914.6,513 914,513.8 913,514.9 912.3,516 911.8,517 911,517.8 910,518.3 909,518.8 908,519.2 907,519.6 906.1,520 905,519.8 904.5,519 904,518.2 903.3,517 902.7,516 902,515.1 901.4,514 901.4,513 901.9,512 902.1,511 902.1,510 902.1,509 902.2,508 902.9,507 903.2,506 903.7,505 905,504 905.7,503 906,502.3 906.9,501 907.9,500 908.7,499 909.2,498 910,497.3 910.8,497ZM852,499.6 853,500.4 854,500.9 855,501.4 855.9,502 857,502.6 858,502.7 859,502.7 860,502.7 861,502.7 862,502.7 863,502.7 864,502.7 865,502.7 866,502.7 867,502.7 868,502.7 869,502.6 870,502.2 870.7,502 872,501.9 873,501.9 874,501.9 875,501.8 876,501.9 877,502 878,502 879,502 880,501.5 881,501.5 882,501.7 883,501.9 884,502.6 884.8,503 884,503.3 883.5,504 882,504.8 881,505.4 880.4,506 879,506.8 878.3,507 877,507.5 876.2,508 875,508.6 874,509 873,509.2 872,509.8 871,510.3 870,510.9 869,511.3 868,512 867,512.8 866,513.2 865,513.9 864,514.7 863,515.3 862.5,516 862.3,517 862.3,518 862.3,519 862.1,520 861.4,521 860.4,522 859.4,523 858.4,524 857.2,525 856,525.5 855,525.9 854,525.5 853,525.1 852,524.4 851,523.4 850,522.4 849,521.4 848,520.1 847.7,519 847.7,518 847.7,517 847.8,516 848,515.1 848.7,514 849,513.3 849.6,512 850,511.1 850.6,510 850.7,509 850.7,508 850.7,507 850.7,506 850.9,505 851.5,504 851.7,503 851.4,502 851.2,501 851.4,500 852,499.6ZM913,523.6 914,523.8 915,523.9 916,524 917,524.4 918,524.9 919,525.1 920,525.3 921,526 921.5,527 921.9,528 922.1,529 922.5,530 923,531 923.4,532 923.7,533 923.7,534 923.4,535 923,536 922.9,537 922.8,538 922.8,539 922.4,540 922,541 921.7,542 921.4,543 921,543.8 920.3,545 920,545.7 919.3,547 918.8,548 918.3,549 918,549.8 917.8,551 917.8,552 917.5,553 917.1,554 917.1,555 917.1,556 917.1,557 916.8,558 916.4,559 916.1,560 915.8,561 915.3,562 914.5,563 913.1,564 912,564.8 911,565.3 910,565.6 909,565.1 908,564.1 907,563.3 906,562.8 905.3,562 904.9,561 904.7,560 904.6,559 904.2,558 904,557.3 903.9,556 904.2,555 904.6,554 905,553.1 905.7,552 906.2,551 906.8,550 907.4,549 908,548.3 909,547 909.4,546 909.7,545 909,544 908.5,543 908,542.4 907,541.4 906,540.1 905.7,539 905.5,538 905,537.2 904.7,536 904.7,535 904.9,534 905.5,533 905.7,532 905.7,531 905.9,530 906.5,529 907,528 907.9,527 909,526 910,525.6 910.9,525 912,524.1 913,523.6ZM937,531.8 938,531.7 938,533 938,534 938,535 938,536 938,537 938,538 938,539 938,540 937,540.2 936,540 935.7,539 935.7,538 935.7,537 935.7,536 935.7,535 935.7,534 935.7,533 936,532 937,531.8ZM919,565.8 920,565.5 921,565.5 922,565.6 923,565.9 924,566.9 924.3,568 924.4,569 924.3,570 924.1,571 923.1,572 922,572.3 921,572.4 920,572.4 919,572.1 918,571.2 917,570.2 916.5,569 916.8,568 917.7,567 918.7,566ZM937,605.9 938,605.9 938,607 938,608 938,609 938,610 938,611 938,612 938,613 938,614 938,615 938,616 938,617 938,618 937,618.2 936,617.2 935.9,616 935.9,615 935.9,614 935.9,613 935.9,612 935.9,611 935.9,610 935.9,609 935.9,608 935.9,607 936.7,606ZM828,639.8 829,639.7 830,639.8 831,639.9 832,640.6 832.6,641 834,641.7 835,642.3 835.7,643 836.3,644 836.8,645 837.5,646 837.7,647 837.7,648 837.7,649 837.4,650 837,650.6 836.5,652 836,652.7 835,653.9 834,654.6 833.1,655 832,655.8 831,656.5 830,656.7 829,656.7 828,656.6 827,656 826,655.6 825,655 824,654.4 823,653.5 822.5,653 822,652 821.4,651 821,650 820.5,649 820.4,648 820.4,647 820.6,646 821,645.4 822,644.2 823,643.2 824,642 825,641.3 826,640.7 827,640.3 828,639.8Z"/>
<path fill="#00CC00" fill-rule="evenodd" d="M738,131 739,130.7 739.8,131 739,131.3 738.1,132 737,132.3 736.1,133 735,133.4 734.2,134 733,134.4 732.2,135 731,135.4 730.2,136 729,136.4 728.3,137 727,137.5 726.3,138 725,138.5 724.3,139 723,139.5 722.4,140 721,140.6 720.5,141 719,141.6 718.5,142 717,142.7 716,143.3 715,143.8 714,144.4 713.3,145 712,145.9 711,146.4 710,147 709,147.5 708.1,148 707,148.6 706.3,149 705,149.7 704,150.2 703,150.9 702,151.3 701,152 700,152.5 699.3,153 698,153.6 697.4,154 696,154.6 695.4,155 694,155.6 693.3,156 692,156.6 691.3,157 690,157.6 689.3,158 688,158.6 687.3,159 686,159.6 685.3,160 684,160.6 683.2,161 682,161.5 681.2,162 680,162.4 679,162.6 678.3,163 677,163.5 676.2,164 675,164.4 674,165 673,165.3 672,165.9 671,166.2 670,166.7 669.3,167 668,167.1 667,167.6 666,167.9 665,168 664,168 663,168.4 662,168.8 661,169 660,169.3 659,169.7 658,169.8 657,170.1 656,169.6 655.3,169 656,168.7 657,168.2 657.7,168 659,167.5 660,167.1 661,166.9 662,166.5 663,166 664,165.9 665,165.3 666,164.8 667,164.2 668,163.7 669,163 670,162.5 670.8,161 671.6,160 672.7,159 674,158.4 674.6,158 676,157.4 676.6,157 678,156.6 679,156.3 679.6,156 681,155.4 681.6,155 683,154.4 683.6,154 685,153.6 686,153.3 686.6,153 688,152.4 688.6,152 690,151.6 691,151.3 691.6,151 693,150.4 693.6,150 695,149.4 695.6,149 697,148.4 698,148 699,148.2 699.7,148 701,147.6 702,147.1 703,146.8 704,146.3 704.7,146 706,145.4 707,145.1 708,144.9 709,144.5 710,144 711,143.6 712,143.1 713,142.6 714,142.2 715,141.7 716,141.2 717,140.7 718,140.3 719,139.8 720,139.3 721,138.8 722,138.4 722.6,138 724,137.4 724.6,137 726,136.5 726.7,136 728,135.5 728.8,135 730,134.6 730.8,134 732,133.6 732.8,133 734,132.6 734.9,132 736,131.7 737,131.6 737.9,131ZM368,155.4 369,155.3 370,156 370.5,157 370.7,158 370.7,159 370.3,160 369,160.7 368,160.4 367,159.1 366.8,158 366.8,157 367.3,156 368,155.4ZM387,178.6 388,178.2 389,178.1 390,178.1 391,178.4 392,178.8 393,179.3 394,180 395,181 395.8,182 396.4,183 396.8,184 397,185 396.9,186 396.5,187 396,187.6 395.4,188 394,188.4 393,188.4 392,188.3 391.2,188 390,187.5 389.2,187 388,186 387,185 386.4,184 386,183.3 385.6,182 385.5,181 385.7,180 386.4,179 387,178.6ZM429,193.6 430,193.4 431,193.8 432,194.7 432.7,196 433,197 433.1,198 433.1,199 432.9,200 432.5,201 432,201.7 431,202.4 430,202.6 429,202.2 428,201.3 427.3,200 427,199 426.9,198 426.9,197 427.1,196 427.5,195 428,194.3 429,193.6ZM452,210.5 453,210.4 454,210.6 454.7,211 456,212 456.9,213 457.6,214 458,214.6 458.6,216 459,217 459.3,218 459.5,219 459.6,220 459.6,221 459.5,222 459.3,223 459,223.6 458,225 457,225.5 456,225.6 455,225.4 454.3,225 453,224 452.1,223 451.4,222 451,221.4 450.4,220 450,219 449.7,218 449.5,217 449.4,216 449.4,215 449.5,214 449.8,213 450.2,212 451,211 452,210.5ZM600,212.4 601,212.2 602,212.2 603,212.3 604,212.3 605,212.3 606,212.5 606.8,213 608,213.3 609,213.4 610,213.4 611,213.4 612,213.6 612.6,214 614,214.4 615,214.5 616,214.5 617,214.5 618,214.6 619,214.6 620,214.7 621,214.7 622,214.7 623,214.7 624,214.7 625,214.9 626,215.5 627,215.6 628,215.7 629,215.7 630,215.9 631,216.4 632,216.6 633,216.6 634,216.7 635,216.9 636,217.4 637,217.6 638,217.6 639,217.7 640,217.9 641,218.4 642,218.5 643,218.6 644,218.6 645,218.8 646,219.4 647,219.5 648,219.6 649,219.6 650,219.8 651,220.6 652,221.6 653,222.6 654,223.7 654.5,225 654.8,226 656,226.8 657,227.3 658,227.6 658.6,228 660,228.4 661,228.6 661.6,229 663,229.6 663.8,230 665,230.4 666,230.6 666.8,231 668,231.5 668.8,232 670,232.4 671,232.6 671.8,233 673,233.4 674,233.6 674.8,234 676,234.4 677,234.6 677.8,235 679,235.4 680,235.5 681,235.5 682,235.6 683,235.6 684,235.6 685,235.8 686,236.3 687,236.5 688,236.5 689,236.5 690,236.5 691,236.5 692,236.5 693,236.5 694,236.5 695,236.5 696,236.5 697,236.5 698,236.5 699,236.5 700,236.5 701,236.5 702,236.4 702.8,236 704,235.7 705,235.7 706,235.7 707,235.7 708,235.7 709,235.6 710,235.3 711,235.6 712,235.7 713,235.8 714,235.8 715,236 715.1,237 714.7,238 714,239 713.3,240 713,241 712.2,242 711.6,243 711.3,244 711,244.9 712,245.9 713,246.9 714,247.6 715,248 716,248.7 716.9,249 718,249.7 718.8,250 720,250.9 721,251.7 721.9,252 723,252.7 723.8,253 725,253.7 726,253.9 727,254.3 728,254.8 729,255.3 730,255.9 730.2,257 729,257.8 728,258.7 727,259.2 726,260 725,261 724,261.9 723,262.3 722.1,263 721.1,264 720.1,265 719,265.6 718.4,266 718,266.6 718.3,268 719,268.6 720,269 721,269.9 722,270.6 723,271 724,271.8 725,272.5 726,272.9 727,273.7 728,274.4 729,274.8 730,275.6 731,276.5 731.7,277 733,277.6 734,278.3 734.9,279 736,279.3 737,279 737.3,278 737.6,277 738.5,276 740,275 741,275.3 741.9,276 743,276.5 743.7,277 744.9,278 746,278.5 746.7,279 748,280 749,280.5 749.7,281 751,282 752,282.5 752.8,283 754,283.5 754.7,284 755.9,285 757,285.5 757.7,286 758.9,287 760,287.4 761,287.6 761.6,288 763,288.6 764,289.3 764.7,290 766,290.6 767,291.4 767.7,292 768.8,293 770,293.6 771,294.4 771.7,295 773,295.7 774,296.3 775,296.7 776,297.4 776.6,298 778,298.8 779,299.3 780,299.8 781,300.3 782,300.8 783,301.3 784,301.8 785,302.3 786,302.8 787,303.3 788,303.8 789,304.3 790,304.8 791,305.3 792,305.8 793,306.3 794,306.8 795,307.3 796,307.8 797,308.6 798,309.6 799,310.5 799.5,311 800,311.5 800.6,312 801.7,313 802.7,314 803.7,315 804.5,316 805,316.9 806,317.4 806.9,318 808,318.3 809,318.5 809.8,319 811,319.3 812,319.5 812.8,320 814,320.4 815,320.6 815.7,321 817,321.4 818,321.4 819,321.2 820,320.7 821,320.6 822,320.6 823,320.6 824,320.8 825,321.3 826,321.5 827,321.6 828,321.8 829,322.3 830,322.5 831,322.6 832,322.6 833,322.8 834,323.3 835,323.5 836,323.6 837,323.7 837.6,324 839,324.4 840,324.5 841,324.6 842,324.8 843,325.6 844,326.6 845,327.7 845.7,329 846.2,330 846.8,331 848,331.8 849,332.3 850,332.8 851,333.3 852,333.8 853,334.3 854,334.8 855,335.3 856,335.8 857,336.3 858,336.8 859,337.3 860,337.8 861,338.3 862,338.8 863,339.3 864,339.6 865,339.8 866,340.3 867,340.6 868,340.8 869,341.3 870,341.7 870.6,342 872,342.4 873,342.6 873.9,343 875,343.3 876,343.4 876.8,344 877.8,345 878.7,346 879.3,347 879.7,348 880.4,349 881,349.6 882,350.4 883,350.5 884,350.6 885,350.6 886,350.6 887,350.6 888,350.6 889,350.6 890,350.8 891,351.4 892,351.8 893,352.3 894,352.5 895,352.7 895.7,353 897,353.5 897.9,354 899,354.3 900,354.6 901,355.5 902,357 901.5,358 901,358.8 900.5,360 902,360.4 903,360.5 904,360.6 905,360.8 906,361.3 907,361.5 908,361.6 909,361.6 910,361.8 911,362.3 912,362.5 913,362.6 914,362.6 915,362.8 916,363.3 917,363.5 918,363.6 919,363.6 920,363.8 921,364.6 922,365.6 923,366.6 923.8,368 924.5,369 925,370 925.7,371 926,371.8 926.9,373 928,373.2 929,372.8 930,372 931,371.3 931.8,371 933,370.1 934,369.4 935,369.1 936,368.3 936.9,368 938,368.3 938,370 938,371 938,372 938,373 938,374 938,375 938,376 938,377 938,378 938,379 938,380 938,381 938,382 938,383 938,384 938,385 938,386 938,387 938,388 938,389 938,390 938,391 938,392 938,393 938,394 938,395 938,396 938,397 938,398 938,399 938,400 938,401 937.6,402 937,402.5 936.3,403 935,403.8 934,404.8 933,405.6 932.2,406 931.7,407 931,408 930.1,409 929.3,410 928.8,411 928,412 927,413 926,413.8 925,414.3 924.4,414 923,413.4 922.4,413 921,412.5 920,412.2 919,411.4 918,410.4 917,409.4 916,408.4 915,407.5 914.4,407 913,406.5 912,406.4 911,406.2 910,405.7 909,405.5 908,405.4 907,405.2 906,404.6 905,404.2 904,403.4 903.4,403 902,402.2 901,401.4 900.1,400 901,399 902,399 903,399.2 904,398.5 904.6,398 906,397.3 907,396.5 907.5,396 908,395.5 908.5,395 910,394.3 911,393.5 911.5,393 912,392.4 912.7,391 913.5,390 914,389.5 914.5,389 915,388.4 915.6,387 916,386.3 915.8,385 915.1,384 914,383.2 913,382.5 912.1,382 911,382.4 910,382.6 909.3,383 908,383.8 907,384.1 906,384.2 905,384.3 904,384.4 903.1,385 902.2,386 901.4,387 901,387.6 900.2,389 899.3,390 898.1,391 897,391.7 896,392.6 895.4,393 894,393.9 893,394.8 892,395.3 891,396 890,396.7 889,397.2 888,397.8 887,398.6 886.2,399 885,399.5 884,400 883,400.5 882.4,401 881,401.9 880,402.3 879,402.6 878,402.7 877,402.7 876,402.9 875,403.3 874,403.6 873,403.5 872.5,403 873,402 873.5,401 874,400.4 875,399.3 876,398.3 877,397.3 878,396.2 879,395.3 879.6,395 881,394.1 882,393 883,392 884,391 884.9,390 885.6,389 886,388 886.6,387 886.9,386 887.5,385 887.8,384 888.4,383 888.7,382 889.3,381 889.4,380 889.2,379 888.5,378 888.1,377 887.5,376 887.1,375 886.1,374 885.1,373 884,372 883,371.5 882.3,371 881,370.4 880.4,370 879,369.5 878,369.2 877,368.7 876,368.2 875,367.4 874.4,367 873,366.3 872,365.7 871,365.3 870,364.7 869,364.3 868.4,364 867,363.4 866.4,363 865,362.6 864,362.6 863,362.6 862,362.6 861,362.6 860,362.6 859,362.6 858,362.8 857,363.3 856,363.4 855,363.4 854,363.4 853,363.4 852,363.5 851,363.7 850.4,364 849,364.4 848,364.4 847,364.4 846,364.4 845,364.4 844,364.4 843,364.4 842,364.4 841,364.4 840,364.4 839,364.4 838,364.4 837,364.4 836,364.4 835,364.2 834,363.7 833,363.5 832,363.4 831,363.4 830,363.4 829,363.4 828,363.4 827,363.4 826,363.4 825,363.4 824,363.4 823,363.4 822,363.4 821,363.4 820,363.4 819,363.4 818,363.4 817,363.4 816,363.4 815,363.2 814,362.7 813,362.5 812,362.4 811,362.4 810,362.5 809,362.7 808.4,363 807,363.4 806,363.2 805,362.7 804,362.5 803,362.4 802,362.4 801,362.4 800,362.4 799,362.4 798,362.4 797,362.2 796,361.7 795,361.3 794.4,361 793,360.6 792,360.5 791,360.4 790.4,360 789,359.4 788.2,359 787,358.5 786.1,358 785,357.6 784,357 783,356.7 782,356.1 781,355.7 780,355.2 779,354.9 778,354.8 777,355 776,355.5 775,355.6 774,355.6 773,355.8 772.3,356 771,355.7 770,355.5 769,355.3 768,354.7 767,354.5 766,354.3 765,353.7 764,353.5 763,353.2 762,352.6 761,352.4 760,352.1 759,351.6 758,351.4 757,351.3 756,351.3 755,351.1 754,350.5 753,350.4 752,350.3 751,350.3 750,350.1 749,349.6 748,349.5 747,349.4 746,349.4 745,349.4 744,349.4 743,349.4 742,349.4 741,349.4 740,349.2 739,348.5 738.3,348 737,347.4 736,347.3 735,347.3 734,347.3 733,347.1 732,346.6 731,346.4 730,346.4 729,346.4 728,346.3 727,346.3 726,346.1 725,345.6 724,345.4 723,345.4 722,345.4 721,345.4 720,345.3 719.4,345 718,344.6 717,344.5 716.1,344 715,343.8 714,343.6 713,343.1 712,342.9 711,342.7 710,342.2 709,341.8 708,341.3 707.4,341 706,340.8 705,340.2 704,339.9 703,339.7 702,339.1 701,338.8 700,338.6 699.1,338 698,337.7 697,337.4 696.4,337 695,336.4 694.4,336 693,335.5 692,335.3 691,334.7 690,334.3 689,333.7 688,333.5 687,333.2 686,332.7 685,332.3 684.4,332 683,331.6 682,331.4 681.3,331 680,330.5 679.2,330 678,329.7 677,329.5 676.1,329 675,328.8 674,328.7 673,328.7 672,328.7 671,328.8 670,329.3 669,329.5 668,329.5 667,329.5 666,329.7 665,330.4 664.3,331 663.3,332 662.5,333 662,334 661.1,335 660.1,336 659.4,337 659,338 658.1,339 657.1,340 656.4,341 656,342 655.2,343 654.3,344 653.3,345 652.3,346 651.5,347 651.1,348 650.3,349 649.3,350 648.1,351 647,351.3 646,351.6 645.3,352 644,352.7 643,353.4 642.3,354 641,354.4 640,354.4 639,354.4 638,354.2 637,353.6 636,353.2 635,352.6 634,352.4 633,352.3 632,352 631,351.1 630,350.1 629.5,349 629,348.4 628,347.3 627,346.2 626.4,345 626,344.4 625.3,343 624.8,342 624.6,341 624.5,340 624.3,339 623.8,338 623.6,337 623.3,336 622.8,335 622.6,334 622.3,333 621.8,332 621.6,331 621.3,330 620.8,329 620.3,328 619.8,327 619.3,326 618,325.3 617,325.2 616,325.2 615,325.1 614,325.1 613,325 612,325 611,325 610,324.9 609,324.9 608,324.9 607,324.9 606,324.9 605,324.9 604,324.9 603,324.9 602,324.9 601,324.8 600.2,324 600,323 600,322 600,321 599.9,320 599.9,319 599.9,318 599.8,317 599.8,316 599.7,315 599.6,314 599.5,313 599.4,312 599.4,311 599.4,310 599.3,309 599.3,308 599.3,307 599.3,306 599.3,305 599.3,304 599.4,303 599.4,302 599.4,301 599.3,300 599,299.3 598,298.1 597,297 596,296 595,295.7 594,295.1 593,294.9 592,294.7 591,294.2 590.1,294 589.4,295 590,295.7 590.7,297 590.8,298 590.8,299 590.7,300 590.7,301 590.6,302 590.6,303 590.5,304 590.3,305 589.6,306 589,306.7 588,307.8 587,308.9 586.3,310 585,310.7 584.1,311 583,310.7 582,310.2 581.3,309 580.4,308 579.4,307 578.5,306 578,305.3 577.6,304 577.5,303 577.3,302 576.8,301 576.6,300 576.6,299 576.7,298 577.2,297 577.5,296 578,295.2 579,294 579.9,293 580.2,292 579,291.1 578,290.7 577,290 576,289.6 575.1,289 574,288.7 573,288.6 572,288.3 571,287.6 570,287.4 569,287.3 568,287.1 567.4,286 567.2,285 566,284.5 565,284.2 564,283.6 563,283.2 562,282.6 561,282.4 560,282.2 559,281.6 558,281.3 557,280.7 556,280.3 555,279.7 554,279.3 553.4,279 552,278.5 551,278.3 550.4,278 549,277.4 548.4,277 547,276.4 546.3,276 545,275.6 544,275.4 543.3,275 542,274.6 541,274.4 540.3,274 539,273.6 538,273.5 537,273.3 536.4,273 535,272.6 534,272.6 533,272.6 532,272.6 531,272.8 530,273.4 529,273.7 528,274.6 527.5,276 527.2,277 526.7,278 526.5,279 526.4,280 526.2,281 525.7,282 525.2,283 524.4,284 523.5,285 523,285.5 522,286.7 521,287.7 520,288.8 519,289.7 518,290.7 517,291.6 516,292.6 515.4,293 514,293.5 513,293.5 512,293.6 511,293.9 510,294.4 509,294.6 508,294.6 507,294.5 506,294.5 505,294.3 504.4,294 503,293.4 502.4,293 501.2,292 500,291.5 499,291.4 498,291.3 497,291 496.6,290 496.7,289 497,288.3 497.2,287 497.2,286 497.1,285 497.2,284 497.6,283 498,282.1 498,281 498,280 498,279 498.1,278 498.6,277 499,276 498.6,275 498.2,274 497.7,273 497.2,272 496.8,271 496,270 495.3,269 495,268 494.2,267 493.5,266 493.1,265 492.4,264 492,263 491.2,262 490.4,261 490,260 489,259 488,258.6 487.3,258 486.1,257 485,256.4 484,255.6 483.3,255 482,254.3 481,253.5 480.4,253 479.4,252 478.5,251 478,250.4 477.2,249 476.3,248 475.4,247 474.6,246 474.2,245 473.5,244 473.3,243 473.1,242 472.4,241 472.1,240 471.4,239 470.6,238 470.3,237 469.6,236 469,235.3 468,234 468.5,233 470,232.9 471,233.2 472,233.7 473,233.8 474,234 475,234.5 476,234.6 477,234.7 478,234.8 479,235.3 480,235.4 481,235.2 482,234.9 483,235.2 484,235.6 484.6,236 485.9,237 487,237.3 488,237.4 489,237.5 490,237.8 491,238.3 492,238.6 493,238.7 494,238.7 495,238.9 496,239.6 497,239.8 498,239.8 499,239.8 500,239.9 501,239.9 502,239.9 503,239.9 504,239.9 505,239.9 506,239.9 507,239.8 508,239.3 508.8,239 510,238.9 511,238.9 512,238.9 513,238.9 514,238.8 515,238.2 515.7,238 517,237.9 518,237.9 519,237.9 520,237.9 521,237.9 522,237.7 523,237.2 524,236.9 525,236.9 526,236.9 527,236.8 528,236.8 529,236.6 530,236 531,235.7 532,235.6 532.9,235 534,234.6 534.9,234 536,233.7 537,233.5 537.9,233 539,232.6 540,232 541,231.8 542,231.7 543,231.2 544,230.8 545,230.3 545.9,230 547,230 548,229.9 549,229.4 550,229.1 551,229 552,228.9 553,228.4 554,228.1 555,228 556,227.9 557,227.5 558,227.2 559,227.2 560,227 561,226.7 562,226.5 563,226.5 564,226.4 565,226.4 566,226.4 567,226.4 568,226.4 569,226.3 570,226.3 571,226.1 572,225.3 573,224 574,223.8 575,223.7 576,223.6 577,223.6 578,223.5 579,223.3 580,222.6 581,222.4 582,222.4 583,222.3 584,222.3 585,222.2 585.9,222 587,221.3 588,221.1 589,220.8 590,220.2 591,220.1 592,220 593,219.7 594,219.1 595,219 596,218.6 596.6,218 597.5,217 598,216.5 599,215 599.1,214 599.4,213 600,212.4ZM484,269.8 485,269.6 486,269.5 487,269.5 488,269.4 489,269.4 490,269.5 491,270 492,270.3 493,271 494,271.8 495,272.8 495.9,274 496.5,275 496.9,276 497,276.8 497,278 496.4,279 496,279.6 495,280.8 494,281.2 493,281.8 492,282.2 491,282.7 490,282.8 489,282.8 488,282.7 487,282.6 486.2,282 485,281 484,280.5 483.4,280 482.3,279 481.4,278 480.7,277 480.5,276 480.4,275 480.4,274 480.5,273 480.8,272 481.8,271 483,270.4 483.6,270ZM516,298.9 517,298.5 518,298.2 519,298.1 520,298.3 520.9,299 521.2,300 521,301 520.6,302 520,303 519.2,304 518.2,305 517,305.9 516,306.6 515.2,307 514,307.5 513,307.8 512,307.9 511,307.7 510.1,307 509.8,306 510,305 510.4,304 511,303 511.8,302 512.8,301 514,300.1 515,299.4 515.8,299ZM704,346.2 705,346.1 706,346.1 707,346.1 708,346.1 709,346.7 710,347.7 711,348.8 712,349.8 713,351 713.6,352 713.7,353 713.8,354 714,355 714.5,356 714.6,357 714.4,358 714,358.6 713.6,360 713.3,361 712.8,362 712.3,363 711.7,364 711.3,365 710.7,366 710.2,367 709.3,368 708.1,369 707,369.5 706,369.8 705,369.4 704,369 703,368.2 702,367.1 701.5,366 701,365.3 700.4,364 700,363.3 699.4,362 699,361.4 698.6,360 698.6,359 698.6,358 698.6,357 698.6,356 698.6,355 698.6,354 698.6,353 698.7,352 699.3,351 700,350.2 701,349.1 702,348 703,347 704,346.2ZM702,430.8 703,430.8 704,431.3 705,431.5 706,431.7 707,432.4 707.8,433 708.8,434 709.5,435 709.9,436 710.4,437 710.5,438 710.3,439 709.7,440 709.3,441 708.5,442 708,442.5 707.5,443 707,443.5 706.5,444 706,444.5 705.4,445 704,445.5 703,445.7 702,446.3 701,446.6 700.2,447 699,447.4 698,447.6 697,447.6 696,447.7 695.3,448 694,448.3 693,448.3 692,448.1 691,447.5 690,447.1 689,446.2 688.7,445 688.7,444 688.9,443 689.4,442 689.8,441 690.6,440 691.3,439 691.8,438 692.7,437 693.8,436 695,435.2 696,434.6 697,434.2 698,433.4 699,432.4 699.6,432 701,431.3 702,430.8ZM842,470.8 843,470.4 844,470 845,470.4 846,470.7 846.7,471 847.8,472 848.6,473 849,473.9 849.9,475 850.5,476 850.7,477 850.7,478 850.7,479 850.6,480 850.1,481 849.9,482 849.9,483 849.8,484 849.1,485 848.7,486 848,486.9 847,487.9 846,488.9 845,489.9 844,490.8 843,491.5 842,491.7 841,491.7 840,491.6 839,491 838,490.1 837,489.2 836,488.2 835.2,487 835,486.3 834.4,485 834.3,484 834.3,483 834.3,482 834.5,481 835,480.2 835.4,479 835.6,478 835.8,477 836.4,476 836.8,475 837.8,474 839,473.4 840,472.6 840.6,472 841.8,471ZM813,473.8 814,473.7 815,473.8 815.7,474 817,474.4 818,474.4 819,474.4 820,474.5 820.8,475 821.9,476 822.6,477 822.5,478 822,478.8 821,479.8 820,480.5 819,480.7 818,480.9 817,481.5 816,481.6 815,481.7 814,481.9 813,482.5 812,482.6 811,482.7 810,482.7 809,482.7 808,482.7 807,482.7 806,482.7 805,482.7 804,482.7 803,482.6 802,482 801,481.7 800.1,481 799.5,480 799.5,479 799.9,478 800.8,477 802,476.5 802.8,476 804,475.6 805,475.5 805.7,475 807,474.7 808,474.6 809,474.6 810,474.6 811,474.6 812,474.3 813,473.8ZM866,477 867,476.6 868,476.3 869,476.3 870,476.2 871,476.4 871.4,477 872,478 872.4,479 872.3,480 871.5,481 871,481.5 870.5,482 869,482.6 868,482.7 867,482.7 866,482.9 865,483.3 864,483.7 863,483.8 862,483.9 861,484 860,484.3 859.3,484 858,483 857,482 857,481 858,480.4 858.7,480 860,479.3 861,478.5 862,478 863,477.6 864,477.2 865,477.2 866,477ZM911,498.6 912,498.5 912.8,499 913.9,500 914.6,501 914.7,502 914.8,503 914.7,504 914.7,505 914.7,506 914.6,507 914,507.9 913.7,509 913.7,510 913.5,511 913,511.8 912,512.9 911.6,514 911.4,515 911,515.6 910,516.7 909,517.4 908,517.6 907,517.5 906.2,517 905.2,516 904.5,515 904.3,514 904.3,513 904.4,512 904.4,511 904.4,510 904.5,509 905,508.2 905.4,507 905.5,506 906,505.3 906.6,504 907,503.3 907.6,502 908.4,501 909,500.4 910,499.3 911,498.6ZM875,502.9 876,503.5 876,504.7 875,505.8 874,506.6 873,506.9 872,507.8 871,508.7 870,509.4 869,509.8 868,510.4 867,510.8 866,511.5 865,511.9 864,512.5 863,513 862.5,514 862,514.6 861.5,516 861.4,517 861.4,518 861.4,519 861.2,520 860.4,521 859.4,522 858.4,523 857.3,524 856,524.6 855,525 854,524.6 853,524.2 852,523.4 851,522.4 850,521.4 849,520.3 848.6,519 848.6,518 848.6,517 848.7,516 849.3,515 850,514.1 850.4,513 850.7,512 851.3,511 851.6,510 851.6,509 851.6,508 851.6,507 851.6,506 851.8,505 852.6,504 854,503.3 855,503.4 856,503.5 857,503.6 858,503.6 859,503.6 860,503.6 861,503.6 862,503.6 863,503.6 864,503.6 865,503.6 866,503.6 867,503.6 868,503.6 869,503.6 870,503.5 871,503.4 872,503.4 873,503.4 874,503.2 875,502.9ZM912,525.6 913,525.4 914,525.4 915,525.5 915.8,526 916.9,527 918,528 919,529 919.7,530 919.8,531 919.8,532 919.9,533 919.9,534 919.8,535 919.8,536 919.7,537 919.2,538 918.8,539 918.1,540 917.1,541 916.2,542 915.2,543 914,543.8 913,543.8 912,543.8 911,543.7 910,543.4 909,542.4 908,541.3 907,540.2 906.6,539 906.4,538 906,537.3 905.6,536 905.6,535 905.8,534 906.4,533 906.6,532 906.6,531 906.8,530 907.5,529 908,528.4 909,527.4 910,526.7 911,526.3 912,525.6ZM909,550.4 910,550.2 911,550.2 912,550.2 913,550.9 914,552 914.7,553 915,554 915.5,555 915.6,556 915.6,557 915.6,558 915.3,559 915,559.7 914.4,561 914,561.6 913,562.6 912,563.4 911,563.8 910,564.2 909,563.6 908.4,563 907.2,562 906.3,561 905.7,560 905.6,559 905.4,558 905.3,557 905.4,556 905.4,555 905.7,554 906.4,553 907,552.2 908,551.2 909,550.4ZM828,640.8 829,640.6 830,640.6 831,640.9 832,641.7 833,642.3 834,642.8 835,643.7 835.6,645 836,645.7 836.4,647 836.5,648 836.3,649 835.8,650 835.5,651 835.1,652 834.2,653 833,653.7 832,654.4 831.1,655 830,655.3 829,655.3 828,655.1 827,654.6 826,654.2 825,653.4 824,652.4 823,651.2 822.4,650 822,649.3 821.6,648 821.7,647 821.9,646 822.6,645 823.5,644 824,643.5 824.5,643 825.8,642 827,641.4 827.6,641Z"/>
<path fill="#009900" fill-rule="evenodd" d="M390,181.3 391,181.3 392,181.7 393,182.7 393.5,184 393.1,185 392,185.3 391,185 390,184.4 389.1,183 389.1,182 390,181.3ZM430,197.3 430.4,198 430,198.7 429.6,198 430,197.3ZM453,212.7 454,212.8 455,213.3 455.8,214 456.6,215 457,215.7 457.6,217 457.8,218 458,218.9 458.1,220 458,221 457.6,222 457,222.9 456,223.3 455,223.2 454,222.7 453.2,222 452.4,221 452,220.3 451.4,219 451.2,218 451,217.1 450.9,216 451,215 451.4,214 452,213.1 453,212.7ZM601,217.8 602,217.6 603,217.5 604,217.4 605,217.4 606,217.6 606.7,218 608,218.3 609,218.1 610,217.6 611,217.5 612,217.5 613,217.5 614,217.6 615,217.6 616,217.6 617,217.6 618,217.6 619,217.6 620,217.6 621,217.6 622,217.6 623,217.6 624,217.7 625,217.9 626,218.4 627,218.5 628,218.6 629,218.6 630,218.7 631,218.9 632,219.4 633,219.5 634,219.6 635,219.6 636,219.7 637,219.9 638,220.4 639,220.6 640,220.6 641,220.7 642,220.7 643,220.7 644,220.9 645,221.5 646,221.6 647,221.7 648,221.7 649,221.7 650,221.9 651,222.7 652,223.8 652.4,225 652.5,226 652.5,227 652.8,228 654,228.9 655,229.5 656,229.7 657,230 658,230.6 659,230.8 660,231 661,231.6 662,231.8 662.8,232 664,232.6 665,232.8 665.8,233 667,233.7 667.9,234 669,234.6 670,234.8 670.8,235 672,235.7 673,235.8 673.8,236 675,236.6 676,236.8 676.8,237 678,237.6 679,237.9 680,238.4 681,238.6 682,238.8 683,239.3 684,239.5 685,239.6 686,239.6 687,239.6 688,239.6 689,239.7 690,239.7 691,239.7 692,239.7 693,239.7 694,239.7 695,239.8 696,239.8 697,239.8 698,239.8 699,239.9 700,240.1 701,240.7 702,240.9 703,241.1 704,241.7 705,241.8 706,242 706.2,243 705.8,244 705.1,245 704.4,246 704.1,247 703.6,248 703.4,249 703.2,250 704,250.6 705,251.6 705.5,252 706,252.4 707,252.8 708,253.5 709,253.9 710,254.8 711,255.6 712,256 713,256.9 714,257.8 715,258.7 715.7,259 715.8,260 715,260.2 714,260.9 713,261.2 712,261.3 711,261.5 710.3,262 709,262.4 708,262.7 707,263.8 706.5,265 706,265.7 705,266.9 704.1,268 703.7,269 703.6,270 704.9,271 706,271.4 706.9,272 708,272.3 709,272.5 709.8,273 711,273.4 711.9,274 713,274.4 713.9,275 715,275.4 716,275.9 717,276.2 718,276.4 719,277 720,277.2 721,277.4 722,278 723,278.2 724,278.2 725,278.3 726,278.5 726.8,279 728,279.3 729,279.4 730,279.6 730.6,280 732,280.5 733,280.7 734,281.3 735,281.5 736,281.5 737,281.5 738,281.5 739,281.3 739.8,280 739.9,279 741,278.2 742,278.8 743,279.3 744,280 745,280.7 745.6,281 747,282 748,282.7 748.8,283 750,283.9 751,284.6 752,285 753,285.6 754,286 755,286.8 756,287.5 757,287.9 758,288.7 759,289.4 760,289.6 761,289.8 762,290.4 763,290.8 764,291.7 765,292.4 766,292.8 767,293.7 768,294.7 769,295.4 770,295.8 771,296.7 772,297.4 773,297.8 774,298.4 775,298.8 776,299.7 777,300.4 778,300.8 779,301.4 780,301.8 781,302.4 782,302.8 783,303.4 784,303.8 785,304.4 786,304.8 787,305.4 788,305.8 789,306.4 790,306.8 791,307.4 792,307.8 793,308.4 794,308.8 795,309.4 796,309.8 797,310.7 798,311.7 799,312.7 800,313.7 801,314.7 802,315.8 802.6,317 803,317.7 803.7,319 805,319.6 806,319.9 807,320.4 808,320.6 809,320.9 810,321.4 811,321.7 812,321.9 813,322.4 814,322.7 815,322.9 816,323.4 817,323.5 818,323.5 819,323.4 819.7,323 821,322.6 822,322.5 823,322.6 824,322.8 825,323.4 826,323.5 827,323.6 828,323.8 829,324.4 830,324.5 831,324.5 832,324.6 833,324.8 834,325.4 835,325.6 836,325.7 837,325.9 838,326.5 839,326.6 840,326.7 841,326.7 842,327 843,328 843.5,329 844,329.8 844.6,331 845,331.6 846,332.7 847,333.4 848,333.8 849,334.4 850,334.8 851,335.4 852,335.8 853,336.4 854,336.8 855,337.4 856,337.8 857,338.4 858,338.8 859,339.4 860,339.8 861,340.4 862,340.9 863,341.4 864,341.7 865,342 866,342.5 867,342.7 868,343 869,343.7 869.8,344 871,344.8 872,344.9 873,345.4 874,345.9 874.9,346 876,346.6 877,347.8 877.7,349 878.6,350 879.2,351 880,351.9 881,352.6 882,352.7 883,352.7 884,352.7 885,352.7 886,352.7 887,352.7 888,352.8 889,352.8 889.8,353 891,353.7 891.9,354 893,354.6 894,354.8 895,355.2 896,355.8 897,356.2 898,356.8 898.7,357 898.7,358 898,358.9 897.1,360 896.4,361 896,362 897,362.6 898,362.7 899,362.8 900,362.8 901,362.8 902,362.8 903,362.7 904,362.8 905,363 906,363.5 907,363.6 908,363.6 909,363.6 910,363.8 911,364.4 912,364.5 913,364.5 914,364.6 915,364.8 916,365.4 917,365.6 918,365.7 919,365.7 919.9,366 920.9,367 921.4,368 922,369 922.3,370 922.9,371 923.3,372 923.8,373 924.2,374 924.5,375 924.1,376 923,376.6 922,377.5 921.5,378 921,378.5 920,378.8 919,379.6 918,380.3 917,380.6 916,381.3 915,381.9 914,381.9 913,381.3 912,381 911,381.3 910,381.7 909.2,382 908,382.2 907,382.3 906,382.3 905,382.2 904,381.7 903,381.4 902.2,381 901,380.7 900,380.8 899,380.8 898,380.7 897,380.1 896,379.7 895.2,379 894.2,378 893.3,377 892.4,376 891.5,375 890,374 889,373 888,372.2 887,371.8 886,371 885,370.1 884,369.4 883,369.1 882,368.6 881,368.2 880,367.6 879,367.4 878,367.2 877,366.6 876,366.2 875,365.3 874,364.5 873,364 872,363.3 871.2,363 870,362.2 869,361.7 868,361.1 867,360.6 866,360.1 865,360.1 864,360.1 863,360.1 862,360.1 861,360.2 860,360.2 859,360.2 858,360.4 857,361 856,361.2 855,361.3 854,361.3 853,361.3 852,361.3 851,361.4 850,362 849,362.2 848,362.3 847,362.3 846,362.3 845,362.3 844,362.3 843,362.3 842,362.4 841,362.4 840,362.4 839,362.4 838,362.4 837,362.3 836,362.3 835,362.1 834,361.6 833,361.5 832,361.5 831,361.4 830,361.4 829,361.4 828,361.3 827,361.3 826,361.3 825,361.3 824,361.3 823,361.3 822,361.3 821,361.3 820,361.3 819,361.3 818,361.3 817,361.3 816,361.3 815,361.1 814,360.6 813,360.5 812,360.5 811,360.5 810,360.5 809,360.6 808.3,361 807,361.4 806,361.2 805,360.6 804,360.5 803,360.5 802,360.4 801,360.4 800,360.4 799,360.3 798,360.3 797,360.1 796,359.5 795,359.1 794,358.6 793,358.5 792,358.4 791,358.2 790,357.6 789,357.2 788,356.6 787,356.1 786,355.5 785,355.1 784,354.5 783,354.1 782,353.5 781,353.1 780,352.5 779,352.2 778,351.6 777,351.3 776.4,351 775,350.5 774.2,350 773,349.7 772,349.7 771,349.6 770,349.6 769,349.5 768,349.5 767,349.5 766,349.4 765,349.2 764,348.7 763,348.5 762,348.4 761,348.4 760,348.4 759,348.3 758,348.3 757,348.3 756,348.3 755,348 754,347.5 753,347.3 752,347.3 751,347.3 750,347.2 749,347.2 748,347.2 747,347.2 746,347.2 745,347.2 744,347.2 743,347.2 742,347.1 741,347.1 740,346.5 739,345.3 738,344.6 737,344.4 736,344.4 735,344.3 734,344.1 733,343.6 732,343.4 731,343.4 730,343.4 729,343.3 728,343.2 727,342.6 726,342.4 725,342.4 724,342.4 723,342.3 722,342.2 721,341.6 720,341.4 719,341.2 718,340.6 717,340.4 716,340.4 715,340.2 714,339.6 713,339.4 712,339.2 711,338.6 710,338.4 709,338.1 708,337.6 707,337.4 706,337.3 705,337.1 704,336.5 703,336.3 702,336.1 701,335.5 700,335.2 699,334.6 698,334.2 697,333.6 696,333.2 695,332.6 694,332.4 693,332.2 692,331.6 691,331.2 690,330.6 689,330.3 688,329.7 687,329.3 686,328.7 685,328.5 684,328.3 683,327.7 682,327.5 681,327.3 680,326.7 679,326.5 678,326.3 677,325.7 676,325.5 675,325.4 674,325.4 673,325.4 672,325.4 671,325.4 670,325.4 669,325.4 668,325.4 667,325.4 666,325.4 665,325.4 664,325.4 663,325.5 662,325.9 661.4,327 660.6,328 660,328.6 659,329.8 658.5,331 658,331.8 657.7,333 657.4,334 657,334.7 656.4,336 656,336.6 655,337.6 654,338.7 653.4,340 653,340.6 652,341.7 651.4,343 650.5,344 650,344.5 649,345.6 648.3,347 647.4,348 646,348.7 645,349.5 644.5,350 643.4,351 642.2,352 641,352.4 640,352.5 639,352.4 638,352.2 637,351.4 636,350.6 635,350.3 634,349.6 633.3,349 632,348.3 631,347.5 630,346.4 629,345.4 628,344.3 627.4,343 627,342.3 626.6,341 626.5,340 626.4,339 626,338.3 625.6,337 625.4,336 625,335.3 624.6,334 624.4,333 624,332.3 623.6,331 623.4,330 623,329.3 622.4,328 622,327.3 621.6,326 621.3,325 620.7,324 620.4,323 620.3,322 620.1,321 619.4,320 619.2,319 619.1,318 618.8,317 618.2,316 618.1,315 618,314 618,313 618,312 618,311 617.7,310 617.2,309 617.1,308 616.8,307 616.2,306 616,305.3 615.1,304 614.3,303 614,302.1 613.1,301 612,300 611,299.7 610,299.4 609.3,299 608,298.6 607,298.5 606,298.4 605,298.2 604,297.5 603,297.3 602,297.2 601,297.1 600,296.3 599.7,295 599.6,294 599.2,293 598,292.6 597,292.5 596,292.4 595,292.4 594,292.2 593,291.6 592,291.4 591,291.4 590,291.3 589,291.3 588,291.1 587,290.6 586,290.4 585,290.4 584,290.5 583,290.4 582,290.1 581,289.5 580,289.1 579,288.5 578,288 577,287.4 576,287 575,286.4 574,286 573,285.4 572,285 571,284.2 570,283.1 569,282.1 568,281.1 567,280.2 566,279.2 565,278.2 564,277.4 563,277.2 562,277.2 561,277.1 560,276.8 559,276.2 558,276.1 557,276 556,276 555,275.6 554,275.1 553,275 552,275 551,274.9 550,274.5 549,274 548,273.9 547,273.5 546,273 545,272.9 544,272.5 543,272.1 542,271.9 541,271.5 540,271.1 539,271 538,270.6 537,270.1 536,270 535,270 534,270 533,270 532,270 531,270.2 530,270.7 529.4,271 528,271.2 527,271.6 526.2,273 525.6,274 525.4,275 525.3,276 525.1,277 524.6,278 524.5,279 524.4,280 524.2,281 523.6,282 523.1,283 522.2,284 521.3,285 520.3,286 519.3,287 518.3,288 517.3,289 516.3,290 515.1,291 514,291.3 513,291.4 512,291.4 511,291.6 510.3,292 509,292.4 508,292.5 507,292.5 506,292.4 505,292.2 504,291.5 503,291 502.4,290 502,289.4 501.2,288 500.7,287 500.3,286 500,285.3 499.9,284 500.4,283 500.5,282 500.7,281 501.3,280 501.5,279 501.6,278 501.8,277 502.3,276 502.3,275 501.7,274 501.3,273 500.7,272 500.3,271 499.6,270 499,269.3 498.4,268 498,267.4 497.3,266 496.6,265 496,264.4 495,263.2 494,262 493.6,261 493,260.1 492,259 491.1,258 490.1,257 489,256.1 488,255.5 487.4,255 486,254 485,253.4 484.5,253 484,252.5 483.1,252 482,251.3 481,250.3 480.2,249 479.6,248 479,247.3 478,246.2 477.3,245 476.8,244 476.4,243 476.3,242 475.9,241 476.2,240 477,239.6 478,239.3 479,239.1 480,238.7 481,238.3 481.7,238 483,238.3 484,238.8 485,239.7 485.7,240 487,240.6 488,241 489,241.5 489.7,242 491,242.9 492,243.3 492.9,244 493.3,245 494,245.8 495,246.8 495.6,248 496.6,249 497.5,250 498,250.8 499,251.2 500,251.1 501,251.1 502,251.1 503,250.9 504,250.3 505,250.2 506,250.2 507,250.2 508,250.1 509,249.8 510,249.3 511,249.2 512,249.2 513,249.2 514,249.1 515,248.5 516,248.4 517,248.4 518,248.4 519,248.2 520,247.7 521,247.5 522,247.5 523,247.5 524,247.3 525,246.7 526,246.5 527,246.5 528,246.3 528.6,246 530,245.6 531,245.5 532,245.3 532.6,245 534,244.5 535,244.3 535.6,244 537,243.5 538,243.5 539,243.3 540,242.7 541,242.5 542,242.4 543,242.4 544,242.4 545,242.2 546,241.6 547,241.4 548,241.3 549,241.3 550,241.1 551,240.5 552,240.3 553,240.2 554,240.2 555,240.1 556,239.8 557,239.2 558,238.7 558.9,238 560,237.2 561,236.7 561.9,236 563,235.2 564,235.1 565,234.8 566,234.2 566.7,234 568,233.3 569,233.1 570,232.9 571,232.3 572,232 573,231.4 574,231.2 574.9,231 576,230.3 577,230 578,229.4 579,229.2 580,229.2 581,229 582,228.4 583,228.2 584,228.1 585,227.5 586,227.4 587,227.1 588,226.6 589,226.2 590,225.7 591,225.5 592,225.2 593,224.7 594,224.4 594.6,224 596,223.5 597,223.3 598,222.4 599,221.3 599.6,220 599.8,219 600.4,218ZM485,272.3 486,272.2 487,272.2 488,272.2 489,272.2 490,272.6 491,273 492,273.6 493,274.9 493.5,276 493.5,277 493,277.6 492,278.6 491,279.4 490,279.8 489,279.8 488,279.7 487,279.3 486,278.4 485.3,278 484,277.2 483.4,276 483.3,275 483.6,274 484,273.1 485,272.3ZM581,294.8 582,294.5 583,294.4 584,294.4 585,294.5 586,294.8 587,295.7 588,296.8 588.4,298 588.5,299 588.5,300 588.5,301 588.5,302 588.5,303 588.4,304 588.2,305 587.3,306 586.2,307 585,307.5 584,307.5 583,307.3 582,306.6 581,306.2 580,305.2 579.6,304 579.5,303 579.4,302 579,301.3 578.6,300 578.6,299 578.8,298 579.4,297 579.8,296 580.8,295ZM515,301.8 516,301.4 517,301.3 517.6,302 517.2,303 516.2,304 515,304.6 514,304.7 513.4,304 513.8,303 514.8,302ZM603,305.5 604,305.3 604.9,306 605.2,307 605.2,308 605.2,309 605.2,310 605.1,311 604.8,312 604,312.7 603,312.5 602.3,311 602.3,310 602.3,309 602.3,308 602.3,307 602.6,306ZM704,348.8 705,348.6 706,348.5 707,348.6 708,348.8 709,349.7 710,350.7 711,351.8 711.4,353 711.5,354 711.6,355 712,355.7 712.4,357 712.2,358 711.6,359 711.4,360 711.2,361 710.4,362 709.6,363 709.2,364 708.2,365 707,365.6 706,366 705,365.6 704,365.2 703,364.2 702.4,363 701.6,362 701,361.3 700.6,360 700.5,359 700.5,358 700.5,357 700.5,356 700.5,355 700.5,354 700.6,353 700.8,352 701.7,351 702.7,350 703.8,349ZM936,371 937,370.7 937.9,372 938,373 938,374 938,375 938,376 938,377 938,378 938,379 938,380 938,381 938,382 938,383 938,384 938,385 938,386 938,387 938,388 938,389 938,390 938,391 938,392 938,393 937.8,394 937.7,395 937.6,396 937.4,397 937.3,398 937.2,399 936.6,400 936,400.6 935.3,401 934,401.7 933,402.6 932.3,403 931,403.7 930,404.7 929.1,406 928.5,407 928,407.6 927,408.6 926,410 925.3,411 924,411 923,410.5 922,410.1 921.1,410 920,409.5 919.4,409 918.3,408 917.2,407 916.1,406 915,405.1 914,404.5 913,404.3 912,404.2 911.2,404 910,403.3 909,403.1 908,403.1 907,402.7 906,402.1 905,401.6 904.3,401 904.1,400 905,399 906,398.6 906.7,398 907.8,397 908.7,396 910,395.2 911,394.6 911.6,394 912.6,393 913,392.3 913.7,391 914.6,390 915.6,389 916,388.3 916.7,387 917,386.3 917.3,385 917.8,384 918.6,383 919.4,382 920,381.4 921,380.2 922,379.4 923,379.1 924,378.3 925,377.6 926,377.4 926.6,377 927.9,376 929,375.6 929.8,375 931,374 932,373.6 932.8,373 934,372 935,371.6 935.9,371ZM702,431.7 703,431.7 704,432.3 705,432.5 706,432.7 707,433.5 707.5,434 708,434.6 708.7,436 709.3,437 709.5,438 709.3,439 708.7,440 708.3,441 707.5,442 707,442.5 706.5,443 706,443.5 705.3,444 704,444.5 703,444.7 702,445.3 701,445.5 700,445.5 699,445.6 698,446 697,446 696,445.4 695,445.3 694,445.1 693,444.2 692.7,443 692.7,442 692.7,441 693,440 693.7,439 694.4,438 694.8,437 695.8,436 697,435.3 698,434.5 698.5,434 699,433.5 699.7,433 701,432.3 701.6,432ZM842,472 843,471.7 844,471.4 845,471.7 845.9,472 846.9,473 847.4,474 848,474.8 848.9,476 849.2,477 849.2,478 849.2,479 849,479.8 848.4,481 848.2,482 848.2,483 848,483.8 847.3,485 847,485.7 846,487 845,487.9 844,488.9 843,489.7 842.2,490 841,490 840,489.7 839.2,489 838.1,488 837.2,487 836.8,486 836.2,485 835.9,484 835.8,483 835.8,482 836,481.2 836.6,480 836.7,479 836.8,478 837,477.2 837.7,476 838,475.2 839,474.6 839.7,474 840.8,473 842,472ZM813,475.9 814,475.7 815,475.9 816,476.4 817,476.6 818,476.6 819,476.6 820,476.9 820.1,478 819,478.4 818,478.6 817.3,479 816,479.4 815,479.4 814,479.5 813.2,480 812,480.4 811,480.4 810,480.4 809,480.4 808,480.4 807,480.3 806,480.3 805,480.3 804,480.3 803,480 802,479.2 802.9,478 804,477.7 805,477.6 805.9,477 807,476.7 808,476.7 809,476.6 810,476.6 811,476.6 812,476.5 812.8,476ZM911,501 912,501 912.3,502 912.4,503 912.4,504 912.4,505 912.4,506 912.1,507 911.6,508 911.5,509 911.5,510 911.1,511 910.2,512 909.7,513 909.6,514 909.2,515 908,515.5 907,515.2 906.5,514 906.4,513 906.5,512 906.5,511 906.5,510 906.9,509 907.4,508 907.6,507 907.9,506 908.5,505 908.9,504 909.5,503 909.9,502 911,501ZM854,505.2 855,505.1 856,505.1 857,505.1 858,505.1 859,505.2 860,505.2 861,505.2 862,505.2 863,505.2 864,505.3 865,505.3 866,505.3 867,505.3 868,505.4 869,505.4 870,505.5 871,505.7 870.2,507 869,507.8 868,508.3 867,508.9 866,509.4 865,510 864,510.5 863.2,511 862,511.7 861.2,513 861,513.7 860.4,515 860.4,516 860.5,517 860.5,518 860.5,519 860.2,520 859.4,521 858.4,522 857.3,523 856,523.7 855.1,524 854,523.7 853,523.3 852,522.4 851,521.4 850,520.3 849.5,519 849.5,518 849.5,517 849.7,516 850.6,515 851.4,514 851.7,513 852,512 852.7,511 852.9,510 853,509 853,508 853.1,507 853.2,506 854,505.2ZM912,527 913,526.7 914,526.7 915,526.9 916,527.7 917,528.8 918,530 918.3,531 918.4,532 918.5,533 918.5,534 918.4,535 918.3,536 918,537 917.4,538 917,539 916.1,540 915.1,541 914,541.9 913,542.2 912,542.2 911,542.2 910,541.8 909,541 908.1,540 907.8,539 907.6,538 907,537.1 906.8,536 906.8,535 907,534 907.4,533 907.7,532 907.7,531 908,530 908.9,529 910,528 911,527.6 911.9,527ZM909,551.9 910,551.7 911,551.7 912,552 913,552.9 913.5,554 914,554.9 914.3,556 914.4,557 914.3,558 914.1,559 913.5,560 913,561 912,562 911,562.4 910,562.6 909,562.1 908,561.2 907,560.2 906.6,559 906.5,558 906.5,557 906.5,556 906.6,555 906.9,554 907.8,553 908.9,552ZM828,642 829,641.8 830,641.9 831,642.3 832,642.8 833,643.6 833.9,644 834.3,645 834.7,646 835,646.7 835.2,648 835,649 834.5,650 834.1,651 833.4,652 832.1,653 831,653.4 830,653.4 829,653.4 828,653.4 827,653.1 826,652.4 825,651.4 824,650.2 823.4,649 823,648 823.3,647 823.5,646 823.9,645 824.8,644 826,643.2 827,642.5 827.9,642Z"/>
<path fill="#FFFF00" fill-rule="evenodd" d="M453,215.6 454,215.2 455,215.7 456,217 456.3,218 456.4,219 456.2,220 455,220.8 454,220.3 453,219 452.7,218 452.6,217 452.8,216ZM605,220.9 606,220.7 607,220.7 608,220.7 609,220.7 610,220.7 611,220.6 612,220.6 613,220.6 614,220.6 615,220.6 616,220.6 617,220.6 618,220.8 619,221.3 620,221.5 621,221.5 622,221.5 623,221.5 624,221.5 625,221.6 626,221.6 627,221.6 628,221.6 629,221.8 630,222.4 631,222.5 632,222.6 633,222.6 634,222.6 635,222.8 636,223.4 637,223.6 638,223.6 639,223.6 640,223.6 641,223.7 642,223.9 643,224.4 644,224.6 645,224.7 646,224.7 647,224.7 648,224.7 649,224.8 650,225.6 650.2,227 650.2,228 650.2,229 650.3,230 650.5,231 651,231.6 652,232.5 653,232.9 654,233.5 655,233.7 656,234 657,234.6 658,234.9 659,235.5 660,235.9 661,236.4 662,236.6 663,236.8 664,237.4 665,237.8 666,238.3 667,238.5 668,238.8 669,239.3 670,239.7 671,240.3 672,240.5 673,240.6 674,240.8 675,241.4 676,241.6 677,241.7 678,241.8 679,242 680,242.6 681,242.8 682,242.8 682.8,243 684,243.6 685,243.8 686,243.8 687,243.8 687.8,244 689,244.6 690,244.8 691,244.8 691.9,245 693,246 693.5,247 694,247.7 695,248.8 696,250 696.3,251 696.6,252 696.2,253 695.5,254 695.5,255 696,255.7 697,256.8 697.6,258 698,258.7 698.4,260 698.6,261 699,261.7 699.5,263 700,263.8 699.9,265 699,265.5 698.4,266 697.3,267 696,267.7 695,268.6 694,269.4 693,269.9 692,270.5 691,270.7 690,270.8 689,270.8 688,270.8 687.3,271 686,271.8 685,271.9 684,271.9 683,272 682.5,273 683,273.5 683.5,274 685,274.7 686,274.8 687,274.8 688,274.9 689,274.9 690,274.9 691,275 692,275 693,275 694,275 695,275.1 696,275.1 697,275.1 698,275.1 699,275.1 700,275.3 701,275.8 702,276.1 703,276.1 704,276.2 705,276.3 706,276.9 707,277.1 708,277.2 709,277.2 710,277.4 711,278 712,278.2 713,278.3 714,278.3 715,278.4 716,278.6 716.8,279 718,279.3 719,279.4 720,279.6 720.7,280 722,280.4 723,280.4 724,280.4 725,280.6 725.7,281 727,281.4 728,281.4 729,281.6 729.7,282 731,282.4 732,282.6 732.7,283 734,283.4 735,283.4 736,283.4 737,283.4 738,283.6 738.8,284 740,284.3 741,284.4 742,284.9 743,285.3 744,285.9 745,286.1 746,286.3 747,286.9 748,287.2 749,287.4 750,288 751,288.4 752,289 753,289.2 754,289.5 754.9,290 756,290.3 757,290.5 757.7,291 759,291.4 760,291.6 760.7,292 762,292.6 762.6,293 763.8,294 765,294.6 765.6,295 766.7,296 767.8,297 769,297.6 769.6,298 770.8,299 772,299.6 772.7,300 774,300.6 774.6,301 775.8,302 777,302.6 777.7,303 779,303.6 779.7,304 781,304.6 781.7,305 783,305.6 783.7,306 785,306.6 785.7,307 787,307.6 787.7,308 789,308.6 789.7,309 791,309.6 791.7,310 793,310.6 793.7,311 795,311.6 795.6,312 796.7,313 797.7,314 798.7,315 799.7,316 800.4,317 800.8,318 801.4,319 801.8,320 802.7,321 804,321.6 804.7,322 806,322.4 807,322.6 807.7,323 809,323.6 809.8,324 811,324.3 812,324.5 812.8,325 814,325.3 815,325.4 816,325.4 817,325.4 818,325.4 819,325.4 820,325.2 821,324.6 822,324.4 823,324.6 823.7,325 825,325.4 826,325.4 827,325.6 827.7,326 829,326.4 830,326.4 831,326.4 832,326.6 832.7,327 834,327.5 834.8,328 836,328.5 836.8,329 838,329.4 839,329.4 840,329.6 841,330.4 841.5,331 842.5,332 843,332.5 843.5,333 844.6,334 845.7,335 847,335.6 847.7,336 849,336.6 849.7,337 851,337.6 851.7,338 853,338.6 853.7,339 855,339.6 855.7,340 857,340.6 857.6,341 859,341.6 860,342.4 860.8,343 862,343.6 862.6,344 863.8,345 865,345.7 865.5,347 865,348 864.8,349 864.7,350 864.2,351 863.7,352 863,352.7 862.3,353 861,354 860,354.7 859.3,355 858,355.9 857,356.6 856,356.9 855,357.5 854,357.7 853,357.7 852,357.7 851,357.9 850,358.5 849,358.7 848,358.8 847,358.8 846,359 845,359.5 844,359.6 843,359.6 842,359.6 841,359.8 840.3,360 839,359.8 838,359.6 837,359.6 836,359.7 835,359.6 834,359.6 833,359.5 832,359.5 831,359.4 830.3,359 829,358.7 828,358.7 827,358.7 826,358.7 825,358.7 824,358.7 823,358.7 822,358.7 821,358.7 820,358.7 819,358.7 818,358.7 817,358.7 816,358.7 815,358.6 814,358.6 813,358.6 812,358.6 811,358.6 810,358.6 809,358.6 808,358.7 807.1,359 806,358.7 805,358.5 804,358.5 803,358.5 802,358.3 801.4,358 800,357.6 799,357.6 798,357.6 797,357.4 796.3,357 795,356.6 794,356.5 793,356.4 792,356.2 791,355.6 790,355.2 789,354.4 788,353.7 787,353.3 786,352.7 785,352.2 784,351.5 783.4,351 782,350.3 781,349.7 780,349.3 779,348.7 778,348.5 777,348.2 776,347.7 775,347.3 774,346.7 773,346.5 772,346.4 771.3,346 770,345.7 769,345.7 768,345.7 767,345.6 766,345.4 765.2,345 764,344.7 763,344.7 762,344.7 761,344.6 760,344 759,343.8 758,343.8 757,343.8 756,343.7 755,343.6 754,343 753,342.9 752,342.8 751,342.8 750,342.8 749,342.8 748,342.8 747,342.8 746,342.8 745,342.6 744,342.1 743,341.9 742,341.8 741,341.8 740,341.8 739,341.6 738,341 737,340.7 736,340.6 735,340.6 734,340.3 733.4,340 732,339.6 731,339.5 730,339.5 729,339.5 728,339.3 727,338.7 726,338.5 725,338.5 724,338.5 723,338.4 722,338.2 721,337.7 720,337.5 719,337.2 718,336.7 717,336.5 716,336.4 715,336.2 714,335.7 713,335.4 712,335.2 711,334.6 710,334.4 709,334.2 708,333.6 707,333.4 706,333.3 705,333.1 704,332.5 703,332.3 702,332.1 701,331.5 700,331.1 699,330.5 698,330.3 697,330.1 696,329.5 695,329.1 694,328.5 693,328.3 692,328.1 691,327.5 690,327.1 689,326.5 688,326.3 687,326.1 686,325.5 685,325.3 684,325.1 683,324.5 682,324.3 681,324.1 680,323.5 679,323.3 678,323.1 677,322.5 676,322.3 675,322.2 674,321.6 673,321.5 672,321.4 671,321.2 670,320.7 669,320.5 668,320.5 667,320.5 666,320.5 665,320.5 664,320.5 663,320.5 662,320.6 661,320.8 660,321.8 659.4,323 659,323.7 658.4,325 658,325.7 657.5,327 657,327.7 656.5,329 656,329.8 655.7,331 655.6,332 655.4,333 655,333.7 654.4,335 654,335.6 653,336.7 652,337.8 651.4,339 651,339.6 650,340.8 649.4,342 649,342.6 648,343.7 647,344.7 646,345.8 645,346.7 644,347.7 643,348.7 642,349.7 641,350.4 640,350.6 639,350.4 638.4,350 637.2,349 636,348.4 635.4,348 634.2,347 633,346.4 632.4,346 631.3,345 630.3,344 629.6,343 629.2,342 628.6,341 628.4,340 628.4,339 628.2,338 627.6,337 627.4,336 627.2,335 626.6,334 626.4,333 626.2,332 625.6,331 625.4,330 625.2,329 624.6,328 624.2,327 623.6,326 623.4,325 623.2,324 622.6,323 622.4,322 622.4,321 622.2,320 621.6,319 621.4,318 621.4,317 621.2,316 620.6,315 620.4,314 620.4,313 620.4,312 620.6,311 621,310.2 621.3,309 621.3,308 621.3,307 621.2,306 620.7,305 620.5,304 620.5,303 620.3,302 619.7,301 619.3,300 618.5,299 618,298.4 617,297.4 616,296.4 615.2,295 614.3,294 613.2,293 612,292.7 611,292.6 610,292.4 609.3,292 608,291.6 607,291.6 606,291.5 605,291.3 604,290.7 603,290.4 602,290.3 601,290.2 600.1,290 599,289.4 598,289.2 597,289.2 596,289.2 595,289.1 594,288.8 593,288.3 592,288.1 591,288.1 590,288.1 589,288.1 588,287.7 587,287.2 586,287.1 585,287 584,287 583,287 582,286.6 581.3,286 580.2,285 579.2,284 578.1,283 577.1,282 576.1,281 575.2,280 574.7,279 574,278 573.6,277 573,276.1 572.5,275 573.7,274 575,273.4 575.6,273 577,272.3 578,271.6 579,271.2 580,270.5 581,270.2 582,269.5 583,269.3 584,269.1 585,268.4 586,268 587,267.4 588,267.2 588.9,267 590,266.3 590.8,266 592,265.3 592.7,265 594,264.1 594,263 593,262.9 592,262.3 591.1,262 590,262 589,261.9 588,261.4 587,261 586,261 585,260.8 584.3,260 584.5,259 583,259 582,259.5 581,259.9 580,260.4 579,260.9 578,261.3 577,261.8 576,262.2 575,262.8 574,262.9 573,262.9 572,262.9 571,262.8 570,262.8 569,262.8 568,262.8 567,262.8 566,262.8 565,262.8 564,262.8 563,262.8 562,262.8 561,262.8 560,262.8 559,262.8 558,262.8 557,262.6 556,262 555,261.8 554,261.7 553,261.7 552,261.7 551,261.7 550,261.6 549,261.4 548.3,261 547,260.6 546,260.6 545,260.6 544,260.5 543,260.5 542,260.5 541,260.5 540,260.4 539,260.4 538,260.4 537,260.4 536,260.4 535,260.4 534,260.5 533,260.5 532,260.5 531,260.5 530,260.5 529,260.6 528,260.6 527,260.6 526,260.7 525,260.5 524.1,260 523,259.7 522,259.5 521.9,261 521.9,262 522.2,263 522.7,264 522.8,265 522.8,266 523,266.9 523.6,268 523.6,269 523.6,270 523.6,271 523.6,272 523.5,273 523.4,274 523,274.7 522.7,276 522.6,277 522.5,278 522.5,279 522.3,280 521.6,281 521,281.6 520,282.8 519.5,284 519,284.6 518,285.7 517,286.6 516,287.6 515,288.4 514,288.6 513,288.7 512,288.9 511,289.5 510,289.8 509,290.4 508,290.6 507,290.6 506,290.4 505,289.5 504.2,288 503.6,287 503.2,286 502.6,285 502.4,284 502.4,283 502.6,282 503,281.3 503.5,280 504,279.2 504.5,278 505,277.1 505.3,276 505.1,275 504.3,274 503.6,273 503.2,272 502.6,271 502.2,270 501.5,269 501.2,268 500.6,267 500.3,266 499.7,265 499.3,264 499,263.4 498.5,262 498.3,261 497.7,260 497.5,259 497.3,258 497,257.4 496.9,256 498,255.7 499,255.6 500,255.4 500.6,255 502,254.6 503,254.6 504,254.5 505,254.3 506,253.7 507,253.6 508,253.5 509,253.4 510,253 511,253.3 512,253.6 512.8,254 514,254.3 515,254.5 515.9,255 517,255.4 518,256 519,256.3 520,256.5 520.9,257 522,257.2 523,256.5 524,256.2 525,255.7 526,255.5 527,255.5 528,255.3 528.6,255 530,254.6 531,254.6 532,254.4 532.7,254 534,253.7 535,253.5 535.8,253 537,252.6 538,252.6 539,252.4 539.6,252 541,251.4 541.6,251 543,250.3 544,249.7 545,249.3 546,248.7 547,248.4 548,248.2 549,247.5 550,247.1 551,246.4 552,246 553,245.3 553.8,245 555,244.1 556,243.4 557,243.1 558,242.2 559,241.3 560,240.3 561,239.6 562,239.2 563,238.3 564,237.6 565,237.4 566,237.2 567,236.6 568,236.2 569,235.6 570,235.4 571,235.2 572,234.6 573,234.2 574,233.6 575,233.4 576,233.2 577,232.6 578,232.2 579,231.6 580,231.4 581,231.4 582,231.2 583,230.6 584,230.4 585,230.4 586,230.3 587,230.1 588,229.5 589,229.3 590,229.3 591,229 592,228.4 593,228.3 594,228.2 595,228 596,227.4 597,227.2 598,227.2 598.8,227 599.4,226 599.5,225 599.9,224 601,223.4 601.6,223 602.7,222 604,221.4 604.7,221ZM583,297.3 584,297.2 585,297.6 585.8,299 585.8,300 585.8,301 585.8,302 585.7,303 585.3,304 584,304.3 583.2,304 582.3,303 582.2,302 582,301 581.6,300 581.6,299 582,298.1 583,297.3ZM705,351.5 706,351.2 707,351.5 707.6,352 708.5,353 708.8,354 708.9,355 709,355.8 709.2,357 709,358 708.8,359 708.4,360 707.4,361 706,361.8 705,361.4 704,360.4 703.3,359 703.2,358 703.2,357 703.2,356 703.2,355 703.2,354 703.6,353 704.4,352 705,351.5ZM881,356.9 882,356.9 883,356.9 884,356.9 885,356.9 886,356.9 887,357.1 888,357.6 889,357.8 889.9,358 891,358.9 892,360 892.2,361 892,362 891.2,363 890.3,364 889.3,365 888,365.3 887,365.4 886,366 885,366.1 884,366.1 883,366 882,365.6 881,365.1 880,364.9 879,364.5 878,364 877,363.2 876.3,362 875.9,361 876,360 876.6,359 877,358.1 878,357.8 879,357.7 880,357.1 881,356.9ZM909,365.8 910,366.2 911,366.4 912,366.4 913,366.5 914,366.7 915,367.3 916,367.7 917,368.4 917.7,369 918.4,370 918.7,371 918.7,372 918.6,373 918,373.9 917,375 916,376 915,376.9 914,377.7 913,378 912,378.6 911,378.7 910,379 909,379.5 908,379.7 907,379.5 906,379 905,378.9 904,379.2 903,378.8 902,378.6 901,378.5 900,378.5 899,378.2 898,377.6 897,377.2 896,376.3 895,375.2 894.6,374 894.5,373 894.6,372 895,371.4 896,370.1 897,369.1 898,368.1 899,367.4 900,367.2 901,367.2 901.8,367 903,366.4 904,366.3 905,366.3 906,366.3 907,366.3 908,366.1 909,365.8ZM936,374.5 937,374.4 938,374.4 938,376 938,377 938,378 938,379 938,380 938,381 938,382 938,383 938,384 938,385 938,386 938,387 938,388 938,389 937.5,390 936,390.8 935,391.5 934,392 933,393 932,393.8 931,394.3 930.2,395 929,395.9 928,396.4 927,396.9 926,397.3 925,398 924,398.9 923,399.9 922,400.5 921,400.6 920,400.6 919,400.5 918,400.5 917,400.4 916,400.5 915,400.8 914,400.2 913.4,399 913,398.4 912.3,397 912.9,396 913.8,395 914.7,394 915.4,393 915.8,392 916.6,391 917.5,390 918,389.4 919,388.3 920,387.3 921,386.2 922,385.2 923,384.3 924,383.3 925,382.4 926,381.4 927,380.6 928,380.2 929,379.3 930,378.5 931,378.1 932,377.4 933,377 934,376.1 935,375.2 936,374.5ZM702,432.8 703,432.8 704,433.4 705,433.6 706,433.8 707,434.8 707.6,436 708,436.7 708.4,438 708.2,439 707.6,440 707.2,441 706.3,442 705.2,443 704,443.4 703,443.6 702.3,444 701,444.3 700.3,444 699,443.5 698.2,443 697.1,442 696.3,441 696.3,440 696.3,439 696.4,438 696.6,437 697.6,436 698.7,435 699.8,434 701,433.4 701.7,433ZM842,473.6 843,473.4 844,473.5 844.8,474 845.7,475 846.5,476 846.7,477 846.8,478 846.7,479 846.5,480 846,480.9 845.8,482 845.6,483 845,483.8 844,484.9 843,485.7 842,485.8 841,485.7 840.1,485 839.1,484 838.4,483 838.3,482 838.3,481 838.4,480 838.5,479 839,478.1 839.3,477 839.6,476 840.4,475 841,474.4 842,473.6ZM853,513.6 854,513.3 855,513.2 856,513.1 857,513.3 857.6,514 858,514.9 859,515.6 859.4,517 859.4,518 859.4,519 859.2,520 858.3,521 857.2,522 856,522.6 855,523 854,522.6 853,522.2 852,521.3 851,520.2 850.6,519 850.6,518 850.6,517 850.9,516 852,515.2 852.7,514ZM912,528.6 913,528.4 914,528.4 915,528.7 915.8,530 916.5,531 916.8,532 917.3,533 917.3,534 917,534.7 916.5,536 916,536.8 915.4,538 914,538.9 913,539.6 912,539.7 911,539.6 910.2,539 909.3,538 908.6,537 908.4,536 908.4,535 908.4,534 908.7,533 909,532.3 909.5,531 910,530.3 911,529.3 912,528.6ZM909,553.6 910,553.4 911,553.5 911.6,554 912.4,555 912.8,556 913.1,557 912.8,558 912.4,559 912,559.6 911,560.5 910,560.6 909,560.4 908,559.5 907.6,558 907.6,557 907.6,556 907.7,555 908.5,554ZM827,643.8 828,643.4 829,643.4 830,643.4 831,643.7 832,644.4 832.6,645 833.3,646 833.6,647 833.6,648 833.4,649 833,649.7 832.3,651 831,651.6 830,651.7 829,651.7 828,651.6 827,651.4 826,650.5 825.2,649 824.7,648 824.7,647 825.2,646 825.6,645 826.7,644Z"/>
<path fill="#FFCC00" fill-rule="evenodd" d="M615,227.8 616,228.2 617,228.4 618,228.4 619,228.4 620,228.4 621,228.4 622,228.6 622.8,229 624,229.3 625,229.4 626,229.4 627,229.5 628,229.5 629,229.6 630,229.8 631,230.4 632,230.6 633,230.9 634,231.5 635,231.7 636,231.8 637,232 638,232.6 639,232.8 639.7,233 640.4,234 641,235 641.4,236 642,237 641.8,238 641,238.4 640.2,239 639,239.6 638.5,240 638,240.4 637.4,241 636,241.7 635,242.4 634,242.6 633,242.6 632,242.7 631,242.7 630,242.7 629,242.8 628,242.8 627,242.8 626,242.9 625,242.9 624,242.9 623,243 622,243 621,243.4 620,243.9 619,244 618,244 617,244 616,244.4 615,244.9 614,245 613,245 612,245 611,245.2 610,245.7 609,245.8 608,245.8 607,245.8 606,246 605,246.6 604,246.7 603,246.7 602,246.8 601,247.4 600,247.5 599,247.5 598,247.6 597.2,248 596,248.2 595,248.3 594,248.8 593.2,249 592,249 591,249.1 590,249.5 589,250 588,250 587,250 586,250 585,250 584,250.1 583,250.2 582,250.7 581.1,251 580,251 579,251 578,251.1 577,251.1 576,251.2 575,251.7 574.1,252 573,252 572,252 571,252 570,252 569,252 568,252 567,252 566,252 565,252 564,252 563,251.9 562,251.5 561.4,251 560,250 559,249.4 558,248.3 558.6,247 559.8,246 560.8,245 561.8,244 563,243.4 563.5,243 564.8,242 566,241.5 567,241.3 568,240.8 569,240.3 570,239.7 571,239.4 572,239.2 573,238.7 574,238.2 575,237.7 576,237.3 577,237.1 578,236.6 579,236.1 580,235.6 581,235.2 582,235.1 583,235 584,234.5 585,234.1 586,234 587,234 588,233.9 589,233.3 589.8,233 591,232.9 592,232.8 593,232.2 594,231.9 595,231.8 596,231.7 597,231 598,230.8 599,230.7 600,230.7 601,230.6 602,230.4 602.6,230 604,229.5 605,229.4 606,229.4 607,229.3 608,229.1 609,228.5 610,228.4 611,228.4 612,228.3 613,228.3 614,228.2 615,227.8ZM649,247.9 650,247.4 651,247.2 652,247.2 653,247.2 654,247.3 655,247.3 656,247.3 657,247.3 658,247.3 659,247.4 660,247.4 661,247.4 662,247.5 663,247.5 664,247.5 665,247.7 666,248.5 666.5,249 667,249.5 667.5,250 668,250.5 668.5,251 669,251.5 669.5,252 670,252.5 670.5,253 671,253.5 671.5,254 672,254.6 672.5,256 672.4,257 672,257.7 671.6,259 671.6,260 671.5,261 671.3,262 670.7,263 670.5,264 670.5,265 670.4,266 670.6,267 671,267.8 671.3,269 671.3,270 671.3,271 671.5,272 672,272.9 672.3,274 672.5,275 673,275.7 673.6,277 674.5,278 675.6,279 676.9,280 678,280.3 679,280.3 680,280.1 681,279.6 682,279.5 683,279.5 684,279.5 685,279.5 686,279.5 687,279.5 688,279.5 689,279.5 690,279.5 691,279.5 692,279.5 693,279.5 694,279.5 695,279.5 696,279.4 697,279.2 697.8,279 699,279.3 700,279.5 701,279.6 702,279.6 703,279.6 704,279.8 705,280.3 706,280.5 707,280.6 708,280.6 709,280.8 710,281.3 711,281.5 712,281.6 713,281.6 714,281.6 715,281.8 716,282.3 717,282.5 718,282.6 719,282.8 720,283.3 721,283.5 722,283.6 723,283.6 724,283.8 725,284.3 726,284.5 727,284.6 728,284.8 729,285.3 730,285.5 731,285.8 732,286.3 733,286.5 734,286.6 735,286.6 736,286.6 737,286.8 738,287.4 739,287.6 740,287.8 741,288.4 742,288.8 743,289.3 744,289.5 745,289.8 746,290.3 747,290.5 748,290.8 749,291.3 750,291.7 751,292.3 752,292.5 753,292.8 754,293.3 755,293.5 756,293.8 757,294.3 758,294.5 759,294.8 760,295.3 761,295.7 762,296.6 763,297.3 764,297.7 765,298.6 766,299.6 767,300.3 768,300.7 769,301.6 770,302.3 771,302.7 772,303.3 773,303.7 774,304.6 775,305.3 776,305.7 777,306.3 778,306.7 779,307.3 780,307.7 781,308.3 782,308.7 783,309.3 784,309.7 785,310.3 786,310.7 787,311.3 788,311.7 789,312.3 790,312.7 791,313.3 792,313.7 793,314.3 794,314.7 795,315.7 795.8,317 797,317.8 797.7,319 798.3,320 798.7,321 799.3,322 799.7,323 800.3,324 800.8,325 802,325.7 803,325.8 803.9,326 805,326.7 806,326.8 806.8,327 808,327.6 809,327.7 810,327.8 811,328 812,328.5 813,328.6 814,328.7 815,328.8 815.8,329 817,328.7 818,328.6 819,328.6 820,328.5 821,328.3 821.9,328 823,328.3 824,328.5 825,328.6 826,328.8 827,329.3 828,329.5 829,329.6 830,329.6 831,329.8 832,330.3 833,330.7 834,331.5 834.5,332 835,332.5 835.6,333 837,333.7 838,334.5 838.5,335 840,335.8 841,336.5 842,337 843,337.6 844,338 845,338.6 846,338.9 847,339.5 848,339.9 849,340.5 850,340.9 851,341.5 852,341.9 853,342.5 854,342.9 855,343.6 856,344.4 857,344.9 858,345.8 859,346.7 859.4,348 859.1,349 858.5,350 858.1,351 857,352 856,352.3 855,352.6 854.4,353 853,353.5 852,353.5 851,353.7 850.4,354 849,354.5 848,354.7 847.4,355 846,355.4 845,355.5 844,355.5 843,355.5 842,355.5 841,355.5 840,355.5 839,355.5 838,355.5 837,355.5 836,355.7 835,356 834,355.6 833,355.4 832,355.3 831,355.3 830,355.2 829,355.2 828,355.2 827,355.2 826,355.2 825,355.2 824,355.2 823,355.3 822,355.3 821,355.3 820,355.3 819,355.3 818,355.3 817,355.3 816,355.3 815,355.3 814,355.3 813,355.3 812,355.3 811,355.3 810,355.1 809,354.6 808,354.4 807,354.4 806,354.4 805,354.3 804,354.1 803,353.6 802,353.4 801,353.4 800,353.3 799,353.3 798,353.3 797,353 796,352.2 795,351.5 794,351.1 793,350.3 792,349.5 791,349 790,348.2 789,347.4 788,347 787,346.1 786,345.3 785.1,345 784,344.3 783,344.2 782.1,344 781,343.4 780,343 779,342.5 778,342.3 777,342.1 776,341.5 775,341.3 774,341.3 773,341.3 772,341.3 771,341.3 770,341.2 769,341.1 768,340.6 767,340.4 766,340.4 765,340.4 764,340.3 763,340.3 762,340.3 761,340.2 760,340 759,339.5 758,339.4 757,339.4 756,339.3 755,339.3 754,339.3 753,339.3 752,339.3 751,339.3 750,339.1 749,338.6 748,338.4 747,338.4 746,338.3 745,338.3 744,338.3 743,338.2 742,338.2 741,338.2 740.3,338 739.7,337 739.5,336 739.1,335 738,334.7 737,334.5 736.1,334 735,333.7 734,333.6 733,333.5 732.1,333 731,332.7 730,332.5 729.1,332 728,331.7 727,331.7 726,331.5 725,331 724,330.7 723,330.6 722,330 721,329.8 720,329.7 719,329.6 718,329 717,328.7 716,328.6 715,328 714,327.6 713.2,327 712.1,326 711,325.1 710,324.7 709,324.1 708,323.7 707,323.1 706,322.8 705,322.7 704,322 703,321.8 702,321.6 701,321 700,320.8 699,320.6 698,320 697,319.7 696,319.5 695.1,319 694,318.6 693.1,318 692,317.7 691,317.5 690.2,317 689,316.7 688,316.5 687.2,316 686,315.6 685,315.5 684.2,315 683,314.7 682,314.7 681,314.6 680,314.4 679.2,314 678,313.7 677,313.6 676,313.6 675,313.4 674.3,313 673,312.7 672,312.6 671,312.6 670,312.6 669,312.6 668,312.6 667,312.6 666,312.6 665,312.5 664,312.5 663,312.5 662,312.6 661,312.6 660,312.7 659,312.8 658,313 657,313.5 656,313.6 655.6,315 655.4,316 655,316.6 654.6,318 654.6,319 654.5,320 654.5,321 654.3,322 653.8,323 653.6,324 653.5,325 653.5,326 653.4,327 653.1,328 652.5,329 652.3,330 652.2,331 652,331.7 651.2,333 650.8,334 650,334.9 649,336 648.2,337 647.7,338 647,338.9 646.2,340 645.7,341 645,341.8 644,342.8 643,343.8 642,344.7 641,345.7 640,346.3 639.4,346 638,345.1 637,344.6 636.2,344 635,343.2 634,342.7 633.3,342 632.8,341 632.2,340 631.9,339 631.8,338 631.7,337 631,336 630.8,335 630.6,334 630,333.1 629.7,332 629.4,331 629,330.3 628.6,329 628.4,328 628,327.4 627.3,326 626.8,325 626.5,324 626.3,323 625.8,322 625.6,321 625.5,320 625.3,319 624.8,318 624.6,317 624.5,316 624.3,315 623.8,314 623.6,313 623.8,312 624.3,311 624.7,310 625.4,309 626,308.4 627,307.2 627.5,306 628,305.2 628.3,304 628.4,303 628.6,302 629,301.3 629.3,300 629.2,299 628.7,298 628.3,297 627.8,296 627.6,295 627.3,294 626.7,293 626.3,292 625.6,291 625.1,290 624,289.4 623,288.7 622,288.2 621,287.6 620,287.3 619,287.1 618,286.4 617,286 616,285.3 615.1,285 614,284.3 613.2,284 612,283.1 611,282.3 610.2,282 609,281 608,280.3 607.4,280 606.7,279 606,278 605.7,277 605.1,276 605.1,275 606,274 607,273.4 607.6,272 608.8,271 609.9,270 611,269.5 611.7,269 612.8,268 614,267.5 614.6,267 615.7,266 617,265.4 618,264.6 618.6,264 620,263.3 621,262.5 621.5,262 623,261.2 624,260.4 625,259.3 626,258.5 627,258.1 628,257.2 629,256.4 629.9,256 631,255.1 632,254.3 632.8,254 634,253 635,252.3 636,252.1 637,251.8 638,251.2 639,251.1 640,250.8 641,250.2 642,250.1 643,249.8 644,249.2 645,249.1 646,248.8 647,248.3 648,248.2 648.8,248ZM509,259.5 510,259.4 511,259.4 512,259.6 512.6,260 513.7,261 514.6,262 514.9,263 515.7,264 516.6,265 517.3,266 517.5,267 517.7,268 518.2,269 518.4,270 518.4,271 518.6,272 519,272.9 519.2,274 519.2,275 519,275.8 518.3,277 518,277.9 517.3,279 517.1,280 516.7,281 516.1,282 515.3,283 514,283.7 513,284.2 512,284.7 511.3,285 510,285.6 509.1,286 508,285.9 507.4,285 507,284.4 506.6,283 506.9,282 507.3,281 507.8,280 508.1,279 508.7,278 508.9,277 509.4,276 509.3,275 508.5,274 508,273.5 507,272.3 506.3,271 505.7,270 505.3,269 505,268.4 504.6,267 504.5,266 504.5,265 504.6,264 505,263.2 505.5,262 506,261.3 507,260.5 508,260.1 509,259.5ZM904,370.9 905,370.7 906,370.6 907,370.6 908,370.6 909,370.6 910,370.7 911,370.9 912,371.6 912.6,373 912,373.4 911.1,374 910,374.3 909,374.4 908,374.8 907,374.5 906,374.4 905,374.3 904,374.1 903,373.5 902.5,373 902.6,372 903.8,371ZM936,380.3 936.4,381 936.4,382 936.4,383 936.3,384 936,384.9 935,385.9 934,386.3 933.1,387 932,388 931,388.9 930,389.3 929,390 928,390.9 927,391.3 926,391.6 925,391.1 925,390 926,389.6 926.8,389 927.9,388 928.9,387 929.9,386 930.9,385 932,384 933,383 934,382 935,381.1 936,380.3Z"/>
<path fill="#FF6600" fill-rule="evenodd" d="M609,233.9 610,233.7 611,233.6 612,233.6 613,233.6 614,233.6 615,233.6 616,233.6 617,233.6 618,233.6 619,233.6 620,233.6 621,233.7 622,233.9 623,234.9 623.1,236 622.2,237 621,237.5 620.2,238 619,238.3 618,238.4 617,238.4 616,238.5 615.2,239 614,239.3 613,239.4 612,239.4 611,239.4 610,239.4 609,239.4 608,239.4 607,239.4 606,239.4 605,239.4 604,239.4 603,239.4 602,239.2 601,238.5 600.9,237 601.9,236 603,235.6 603.9,235 605,234.7 606,234.7 607,234.6 608,234.5 608.8,234ZM651,253.7 652,253.3 653,253.3 654,253.3 655,253.6 656,254 657,254.2 658,254.2 659,254.5 660,255 661,255.9 661.6,257 661.6,258 661,258.7 660.3,259 659,259.2 658,259.8 657,260.3 656,260.9 655,261.2 654,261.2 653,261.3 652,261.9 651,262.2 650,262.2 649,262.1 648,262.1 647,261.8 646,261.2 645,261.1 644,261.1 643,260.7 642.3,260 641.5,259 641.3,258 641.7,257 643,256.2 644,255.7 645,255.2 646,254.7 647,254.4 648,254.3 649,254.3 650,254.1 651,253.7ZM510,263.9 511,264.5 511.7,266 512.2,267 512.2,268 512.2,269 512.2,270 512,270.7 511,270.6 510.4,270 509.8,269 509.3,268 508.9,267 508.8,266 508.9,265 509.5,264ZM642,273.9 643,273.7 644,273.6 645,273.6 646,273.6 647,273.6 648,273.6 649,273.8 650,274.4 651,274.5 652,274.6 653,274.8 654,275.4 655,275.6 656,275.8 657,276.4 658,276.8 659,277.6 660,278.6 661,279.4 662,279.8 662.5,281 662.5,282 662.6,283 662.4,284 662,284.7 661,285.8 660,286.7 659.2,287 658.1,288 659,288.4 660,288.1 661,287.9 662,287.6 663,287.1 664,286.7 665,286.2 666,286.1 667,286.1 668,285.8 669,285.3 670,285.2 670.7,285 672,284.4 673,284.3 674,284.3 675,284.3 676,284.2 677,283.7 678,283.6 679,283.5 680,283.4 680.6,283 682,282.6 683,282.6 684,282.6 685,282.6 686,282.6 687,282.5 688,282.5 689,282.5 690,282.5 691,282.5 692,282.5 693,282.5 694,282.6 695,282.6 696,282.5 697,282.4 698,282.1 699,282.4 700,282.5 701,282.6 702,282.6 703,282.6 704,282.8 705,283.3 706,283.4 707,283.5 708,283.6 709,283.8 710,284.3 711,284.4 712,284.4 713,284.5 714,284.6 715,284.8 716,285.3 717,285.4 718,285.5 719,285.8 720,286.3 721,286.4 722,286.4 723,286.5 724,286.7 724.6,287 726,287.4 727,287.5 728,287.7 729,288.3 730,288.5 731,288.7 731.6,289 733,289.4 734,289.4 735,289.6 735.7,290 737,290.4 738,290.6 738.7,291 740,291.4 741,291.5 742,291.7 743,292.3 744,292.5 745,292.7 746,293.3 747,293.5 748,293.7 749,294.3 750,294.7 750.6,295 752,295.5 753,295.7 754,296.3 755,296.5 756,296.7 757,297.3 758,297.5 759,297.7 760,298.5 760.6,299 762,299.7 763,300.5 763.5,301 764,301.5 764.6,302 766,302.7 767,303.5 767.6,304 769,304.7 770,305.3 771,305.7 772,306.5 772.6,307 774,307.7 775,308.3 776,308.7 777,309.3 778,309.7 779,310.3 780,310.7 781,311.3 782,311.7 783,312.3 784,312.7 785,313.3 786,313.7 787,314.3 788,314.7 789,315.3 790,315.7 791,316.3 792,316.7 793,317.6 793.8,319 795,319.9 795.6,321 796,321.7 796.5,323 797,323.9 797.1,325 796.4,326 795,326.8 794,327.7 793,328.6 792,329 791,329.9 790,330.7 789,330.9 788,331.2 787,331.7 786,331.9 785,332.2 784,332.7 783.2,333 782,333.7 781,333.8 780.2,334 779,334.6 778,334.7 777,334.8 776,334.8 775,334.8 774,334.8 773,334.8 772,334.8 771,334.8 770,334.8 769,334.8 768,335 767,335.5 766,335.7 765,335.5 764.1,335 763,334.8 762,334.8 761,334.7 760,334.7 759,334.7 758,334.7 757,334.7 756,334.6 755,334.6 754,334.6 753,334.6 752,334.6 751,334.6 750,334.4 749.3,334 748,333.6 747,333.6 746,333.4 745.2,333 744,332.7 743,332.6 742,332.3 741,331.7 740,331.5 739,331.5 738,331.4 737,331.2 736,330.7 735,330.5 734,330.4 733,330.2 732,329.7 731,329.4 730,329.2 729,328.7 728,328.5 727,328.4 726,328.2 725,327.6 724,327.4 723,327.2 722,326.6 721,326.4 720,326.4 719,326.1 718,325.6 717,325.4 716,325.1 715,324.4 714,323.4 713,322.7 712,322.2 711,321.7 710,321.3 709,320.7 708,320.3 707,319.7 706,319.4 705.4,319 704,318.4 703.3,318 702,317.6 701,317.4 700.4,317 699,316.4 698.3,316 697,315.4 696.3,315 695,314.4 694.3,314 693,313.5 692.2,313 691,312.5 690.2,312 689,311.5 688.1,311 687,310.7 686,310.7 685,310.6 684,310.5 683.2,310 682,309.7 681,309.7 680,309.6 679,309.5 678.2,309 677,308.7 676,308.7 675,308.6 674,308.5 673,308.4 672.3,308 671,307.7 670,307.7 669,307.6 668,307.6 667,307.4 666.2,307 665,306.7 664,306.7 663,306.7 662,306.7 661,306.7 660,306.8 659,307.6 658,309 657,309.6 656,309.3 655,309 654,308.2 653,307.5 652,307.2 651.3,307 650.4,308 650.3,309 650.3,310 650.3,311 650.3,312 650.3,313 650.3,314 650.2,315 650.2,316 650.2,317 650.2,318 650.1,319 650.1,320 650.1,321 650.1,322 650.1,323 650.1,324 649.6,325 649,325.3 648,325.4 647,325.5 646,325.6 645.2,326 644.9,327 644.7,328 644.1,329 643.6,330 643,330.6 642.2,331 641,332 640,333 639,333.7 638,333.8 637,333.6 636.2,333 635.2,332 634.2,331 633.3,330 632.4,329 631.6,328 631.4,327 631.2,326 630.1,325 629.8,324 629.6,323 629.1,322 628.9,321 628.8,320 628.7,319 628.1,318 627.8,317 627.8,316 627.6,315 627,314 626.8,313 627,312.1 627.8,311 628.8,310 629.7,309 630.7,308 631.5,307 631.9,306 632.7,305 633.5,304 633.9,303 634.5,302 634.9,301 635.9,300 637,299.6 638,299.4 638.7,299 640,298.5 641,298.3 641.6,298 643,297.5 644,297.3 645,296.5 645.7,296 645.3,295 644,294.3 643,293.6 642,293.2 641,292.5 640,292.1 639,291.2 638,290.4 637.1,290 636,289 635,288.3 634.3,288 633.1,287 632,286.1 631,285.2 630.4,284 630,283.1 629.9,282 629.9,281 630.2,280 631,279 632,278 633,277.1 634,276.8 635,276.6 635.9,276 637,275.7 638,275.5 638.8,275 640,274.7 641,274.5 641.8,274ZM817,331.9 818,331.6 819,331.6 820,331.6 821,331.4 822,331.2 823,331.5 824,331.6 825,331.7 826,331.9 827,332.4 828,332.6 829,332.6 830,332.7 831,333 832,333.8 833,334.9 833.5,336 834,336.6 835,337.6 836,339 835.7,340 835.5,341 835,341.8 834.6,343 834,343.9 833.6,345 833,345.8 832,346.7 831,346.8 830,347 829,347.7 828,348 827,348.6 826,348.7 825,348.9 824,349.5 823,349.8 822,350.3 821,350.5 820,350.5 819,350.5 818,350.6 817,350.6 816,350.6 815,350.5 814,350.5 813,350.5 812,350.5 811,350.5 810,350.3 809,349.8 808,349.5 807,349.5 806,349.3 805,348.6 804,348.4 803,348.3 802,348.3 801,348.1 800,347.2 799,346.2 798.5,345 798,344.4 797.1,343 797.6,342 798.4,341 799,340.3 799.5,339 800,338.4 801,337.4 802,336.6 803,336.4 804,336.2 805,335.6 806,335.2 807,334.6 808,334.4 809,334.2 810,333.6 811,333.2 812,332.7 813,332.6 814,332.6 815,332.5 816,332.4 816.8,332ZM840,344 841,343.4 842,343.3 843,343.3 844,343.3 845,343.3 846,343.4 847,343.6 847.7,344 849,344.6 849.6,345 851,345.8 852,346.5 852.9,347 853.1,348 852.5,349 852,350 851,350.3 850,350.4 849,350.8 848,351.4 847,351.6 846,351.8 845,352.4 844,352.5 843,352.5 842,352.5 841,352.4 840,352.4 839,352.4 838,352.3 837,352.3 836,352.1 835,351.2 834.4,350 834,349.4 833.1,348 834,347.3 835,346.3 836,345.5 837,345.1 838,344.4 839,344.2 839.9,344Z"/>
<path fill="#FF0000" fill-rule="evenodd" d="M690,284.8 691,285.2 692,285.4 693,285.4 694,285.4 695,285.4 696,285.4 697,285.4 698,285.4 699,285.4 700,285.4 701,285.4 702,285.4 703,285.4 704,285.5 705,285.5 706,285.7 706.7,286 708,286.4 709,286.5 710,286.5 711,286.5 712,286.7 712.7,287 714,287.3 715,287.3 716,287.4 717,287.6 717.8,288 719,288.3 720,288.4 721,288.5 722,288.5 723,288.7 723.6,289 725,289.5 726,289.5 727,289.7 728,290.3 729,290.5 730,290.7 730.6,291 732,291.5 733,291.5 734,291.7 735,292.3 736,292.5 737,292.7 738,293.3 739,293.5 740,293.5 741,293.7 742,294.3 743,294.5 744,294.7 745,295.3 746,295.5 747,295.7 747.6,296 749,296.6 749.6,297 751,297.4 752,297.6 752.6,298 754,298.5 755,298.7 756,299.3 757,299.6 758,299.8 759,300.6 760,301.4 761,301.8 762,302.6 763,303.6 764,304.4 765,304.8 766,305.6 767,306.4 768,306.9 769,307.5 770,307.9 771,308.7 772,309.5 773,309.8 774,310.4 775,310.8 776,311.4 777,311.8 778,312.4 779,312.8 780,313.4 781,313.8 782,314.4 783,314.8 784,315.4 785,315.7 786,316.4 787,316.8 788,317.4 789,317.8 790,318.5 791,318.9 791.6,320 792,320.7 792.6,322 792.9,323 792,323.8 791,324.7 790,325.5 789,326 788,326.8 787,327.5 786,327.9 785,328.5 784,328.9 783,329.5 782,329.9 781,330.5 780,330.8 779,331.4 778,331.7 777,331.9 776,332.4 775,332.6 774,332.6 773,332.6 772,332.6 771,332.6 770,332.6 769,332.6 768,332.6 767,332.8 766.3,333 765,332.8 764,332.5 763,332.5 762,332.5 761,332.5 760,332.5 759,332.5 758,332.3 757.3,332 756,331.6 755,331.6 754,331.6 753,331.5 752,331.5 751,331.4 750,331.2 749,330.7 748,330.5 747,330.4 746,330.2 745,329.6 744,329.5 743,329.4 742,329.2 741,328.6 740,328.5 739,328.4 738,328.4 737,328.1 736,327.6 735,327.4 734,327.4 733,327.1 732,326.6 731,326.4 730,326.1 729,325.6 728,325.4 727,325.2 726,324.6 725,324.2 724,323.7 723,323.4 722,323.2 721,322.7 720,322.5 719,322.2 718,321.7 717,321.5 716,321.2 715,320.6 714,320.2 713,319.6 712,319.4 711,319.1 710,318.5 709,318.1 708,317.5 707,317.1 706,316.5 705,316.2 704,315.6 703,315.4 702,315.1 701,314.5 700,314.2 699,313.6 698,313.2 697,312.6 696,312.2 695,311.7 694,311.3 693,310.7 692,310.3 691.4,310 690,309.4 689.3,309 688,308.6 687,308.6 686,308.6 685,308.4 684.3,308 683,307.6 682,307.6 681,307.6 680,307.4 679.3,307 678,306.6 677,306.6 676,306.4 675.2,306 674,305.7 673,305.7 672,305.6 671,305.4 670.2,305 669,304.7 668,304.7 667,304.5 666.2,304 665,303.6 664,303.5 663,303.5 662,303.4 661,303.3 660,303.1 659,302.3 658.3,301 657.6,300 657.2,299 656.8,298 657.3,297 657.7,296 658.5,295 659,294.4 659.8,293 660.8,292 662,291.5 662.7,291 664,290.6 665,290.3 666,289.7 667,289.3 668,288.8 669,288.5 670,288.3 671,287.7 672,287.3 672.6,287 674,286.5 675,286.5 676,286.5 677,286.5 678,286.4 679,286.4 680,286.4 681,286.2 682,285.6 683,285.4 684,285.4 685,285.4 686,285.4 687,285.4 688,285.4 689,285.2 690,284.8ZM637,309.6 637.9,310 639,311 640,311.7 640.9,312 641.6,313 641,314 640.1,315 639.1,316 638,317 637,317.5 636.2,317 635.3,316 634.9,315 634.2,314 633.5,313 633.6,312 634.8,311 636,310.3 637,309.6ZM638,323.6 638.6,324 639.6,325 640.5,326 641,326.8 640.3,328 639.3,329 638,330 637,329.3 636,328.3 635,327.1 635.6,326 636.4,325 637,324.3 638,323.6ZM819,336 820,335.8 821,336 822,336.1 823,336.2 824,336.2 825,336.2 826,336.3 827,336.7 828,337.5 828.5,338 829,338.5 830,339.8 829.5,341 829,341.9 828.3,343 827.3,344 826,344.6 825,344.7 824,344.7 823,344.9 822,345.3 821,345.7 820,345.8 819,345.8 818,346 817,346.2 816,346 815,345.9 814,345.9 813,345.9 812,345.9 811,345.8 810,345.4 809,344.3 808.1,343 807.6,342 808,341.2 809,340.2 810,339.3 811,338.4 812,337.5 813,337.1 814,337.1 815,336.9 816,336.5 817,336.2 818,336.1 819,336ZM842,346.9 843,346.6 844,346.6 845,346.7 846,346.9 846.3,348 845,348.5 844,348.9 843,348.6 842,348.4 841.9,347Z"/>
<path fill="#CC3300" fill-rule="evenodd" d="M683,288.7 684,288.6 685,288.6 686,288.6 687,288.6 688,288.5 689,288.4 690,288.2 691,288.5 692,288.7 693,288.7 694,288.8 695,288.8 696,288.8 697,288.8 698,288.9 699,288.9 700,288.9 701,288.9 702,288.8 703,288.8 704,288.8 705,288.8 705.8,289 707,289.6 708,289.7 709,289.7 710,289.7 711,289.8 712,289.8 713,289.9 714,289.9 715,289.9 716,290.2 717,290.7 718,290.9 719,291.1 720,291.6 721,291.8 722,291.8 722.8,292 724,292.6 725,292.8 726,293 727,293.6 728,293.7 729,293.8 729.9,294 731,294.6 732,294.7 733,295 734,295.6 735,295.7 736,295.9 737,296.5 738,296.7 739,296.7 740,296.9 741,297.5 742,297.6 743,297.8 744,298.4 745,298.5 746,298.6 747,298.8 748,299.4 749,299.6 750,299.8 751,300.4 752,300.8 753,301.5 753.6,302 755,302.6 755.6,303 756.7,304 758,304.7 759,305.6 760,306.7 761,307.7 762,308.6 763,309 764,309.9 765,310.9 766,311.9 767,312.6 768,313 769,313.6 770,313.9 771,314.5 772,314.7 773,314.9 774,315.5 775,315.8 776,316.4 777,316.6 778,316.8 779,317.4 780,317.8 781,318.5 782,318.7 783,319 784,319.8 785,320.8 786,321.7 786.8,322 787.1,323 786,324 785,324.9 784,325.3 783,326 782,326.4 781.2,327 780,327.5 779.2,328 778,328.5 777.1,329 776,329.4 775,330 774,330.2 773,330.2 772,330.2 771,330.2 770,330.2 769,330.2 768,330.2 767,330.1 766,329.9 765,329.4 764,329.2 763,329.2 762,329.1 761,329.1 760,329.1 759,329 758,328.7 757,328.1 756,328 755,327.7 754,327.2 753,326.8 752,326.3 751,326.2 750.2,326 749,325.4 748,325.2 747,325 746,324.5 745,324.3 744,324.3 743,324.1 742,323.6 741,323.4 740,323.3 739.4,323 738,322.6 737,322.6 736,322.4 735.3,322 734,321.6 733,321.5 732.2,321 731,320.7 730,320.6 729.1,320 728,319.7 727,319.5 726.2,319 725,318.5 724.2,318 723,317.7 722,317.4 721.3,317 720,316.6 719,316.4 718.3,316 717,315.5 716,315.3 715,314.7 714,314.5 713,314.3 712,313.7 711,313.3 710,312.6 709,312.4 708,312.2 707,311.6 706,311.3 705,311.1 704,310.5 703,310.1 702,309.5 701,309.3 700,309.1 699,308.5 698,308.3 697,308.2 696,308.2 695.3,308 694,307.3 693,307.1 692,307.1 691,306.7 690,306.2 689,306.1 688,306.1 687,306.1 686,305.7 685,305.2 684,305.1 683,305.1 682,305.1 681,304.8 680,304.3 679,304.2 678,304.1 677,303.9 676,303.3 675,303.2 674,303.2 673,303.1 672,302.9 671,302.3 670,302.1 669,302.1 668,301.7 667.2,301 666.7,300 666,299.1 665.5,298 665.1,297 665.7,296 666.7,295 667.7,294 668.7,293 670,292.4 670.6,292 672,291.3 673,290.7 674,290.2 675,289.6 676,289.5 677,289.4 678,289.4 679,289.4 680,289.4 681,289.4 682,289.3 683,288.7Z"/>
<path fill="#990000" fill-rule="evenodd" d="M677,292.8 678,292.7 679,292.7 680,292.7 681,292.7 682,292.7 683,292.7 684,292.6 685,292.6 686,292.6 687,292.6 688,292.9 689,293.7 689.6,294 691,294.9 690.5,296 690,296.5 689.5,297 688,297.7 687,297.7 686,297.7 685,297.7 684,297.7 683,297.7 682,297.6 681,297.6 680,297.6 679,297.6 678,297.5 677,297.5 676,297.2 675,296.2 674.3,295 675,294 676,293 677,292.8ZM707,295.9 708,295.7 709,295.9 710,295.9 711,296 712,296.2 713,296.7 714,296.8 715,296.9 716,297.1 717,297.6 718,297.8 719,297.8 720,298 721,298.5 722,298.7 723,298.7 724,298.7 725,298.9 726,299.4 727,299.6 728,299.6 729,299.6 730,299.8 731,300.3 732,300.5 733,300.5 734,300.5 735,300.6 735.7,301 737,301.4 738,301.4 739,301.5 740,301.5 741,301.5 742,301.5 743,301.6 744,301.6 745,301.7 746,301.9 747,302.5 748,302.7 749,302.9 750,303.4 751,303.8 752,304.5 753,304.8 753.7,305 754.4,306 755,306.9 755.2,308 754.7,309 754.4,310 754,310.8 753.5,312 753,312.5 752.2,313 751,314 750,314.7 749.3,315 748,315.9 747,316.6 746,317 745,317.5 744,317.6 743,317.7 742,317.9 741,318.4 740,318.5 739,318.7 738.2,319 737,318.7 736,318.5 735,318.4 734,318.4 733,318.4 732,318.3 731,318.1 730,317.6 729,317.2 728,316.6 727,316.2 726,315.6 725,315.2 724,314.6 723,314.2 722,313.6 721,313.2 720,312.3 719,311.6 718,311.2 717,310.5 716,310.1 715,309.4 714,309 713,308.1 712,307.3 711.2,307 710,306 709,305.2 708,304.8 707,304.2 706,304 705,303.6 704,303.1 703.1,303 702,302.6 701,302.1 700,301.5 699.3,301 698.5,300 699,299.3 700,298.3 700.6,298 702,297.3 702.9,297 704,296.9 705,296.4 706,296 707,295.9ZM770,322 771,321.5 772,321.3 773,321.3 774,321.4 775,321.7 775.7,322 777,322.8 776.5,324 775,324.6 774,324.7 773,324.7 772,324.7 771,324.7 770,324.4 769.1,324 768.5,323 769,322.5 769.9,322Z"/>
<path fill="#FF00FF" fill-rule="evenodd" d="M735,303 736,303.3 737,303.5 738,303.5 739,303.5 740,303.5 741,303.5 742,303.6 743,303.7 744,304.3 745,304.5 746,304.8 747,305.3 748,305.6 749,305.7 750,305.9 751,306.8 751.8,308 751.5,309 751.1,310 750.4,311 750,311.8 749,312.4 748.3,313 747.2,314 746,314.6 745.4,315 744,315.5 743,315.5 742,315.7 741,316.3 740,316.5 739,316.7 738,317 737,316.7 736,316.5 735,316.5 734,316.5 733,316.5 732,316.5 731,316.2 730,315.7 729,315.3 728,314.6 727,314.2 726,313.6 725,313.1 724,312.3 723,311.3 722,310.3 721,309.2 720.4,308 720,307.2 719.8,306 721,305.5 722,305.2 723,304.6 724,304.2 725,303.7 726,303.5 727,303.5 728,303.4 729,303.4 730,303.4 731,303.4 732,303.4 733,303.4 734,303.2 734.8,303Z"/>
<path fill="#9933CC" fill-rule="evenodd" d="M733,307.9 734,307.3 735,307.2 736,307.2 737,307.2 738,307.2 739,307.3 740,307.9 741,308.2 742,309 742.8,310 742.7,311 742,311.6 741.1,312 740,312.7 739,312.8 738,312.8 737,312.8 736,312.8 735,312.8 734,312.8 733,312.7 732,312.1 731,311.6 730.3,311 730.2,310 730.9,309 732,308.2 732.7,308Z"/></g>
<defs><clipPath id="clipf"><rect x="262.6" y="79.2" width="675" height="740.8"/></clipPath></defs>
<path d="M301.1 821.2V79.2M359 821.2V79.2M416.8 821.2V79.2M474.7 821.2V79.2M532.5 821.2V79.2M590.4 821.2V79.2M648.2 821.2V79.2M706 821.2V79.2M763.9 821.2V79.2M821.8 821.2V79.2M879.6 821.2V79.2" fill="none" stroke="#a2a2a2" stroke-width="1.15" stroke-dasharray="2.4 7.12"/>
<path d="M262.6 124H937.6M262.6 191.4H937.6M262.6 258.8H937.6M262.6 326.2H937.6M262.6 393.6H937.6M262.6 461H937.6M262.6 528.4H937.6M262.6 595.8H937.6M262.6 663.2H937.6M262.6 730.6H937.6M262.6 798H937.6" fill="none" stroke="#a2a2a2" stroke-width="1.15" stroke-dasharray="2.4 7.39"/>
<path d="M278 79.5L287.5 95L295 101.2L304.5 122L322 129.5L325 138.8L317.5 135.5L311.2 141.8L318.8 148.8L322.5 155L317.5 163L303.8 162L298.2 165.5L291.8 159.2L278 171.2L295 179.5L308.8 191.8L320 189.2L325 194.2L327 202.5L328.2 220L324.5 233.8L332.5 229.5L329.5 239.5L322.5 242.5L313.8 249.2L303.8 252L300.8 261.2L305.5 270.8L300 278.8L292.5 286.2L288 293.2L293.2 301.2L291.2 313.8L293.8 326.2L298.8 334.5L305.5 353.8L330.5 393L348 401.2L360 401.2L380 405L388.8 408L403 420L428.8 461.2L437.5 465L444.5 445L452.5 441.2L454.5 428.8L464.5 431.2L473.8 417.5L482 409.5L472 411.8L468.8 400L468.8 385.5L456.2 385.5L448.8 378.8L437.5 375.5L430 372L422.5 361.2L411.2 351.2L407 315.8L399.5 309.2L406.2 315L416.2 331.2L425 335.5L435 333.8L441.2 341.2L450.5 343.2L457 351.2L464.5 355.8L471.2 364.2L480 369.5L488.8 373L497.5 375L488.8 379.5L498.8 377.5L505.5 383.8L508 396.2L515 402.5L525 417.5L525 431.2L520 440L518 450.5L525 458.8L532.5 467.5L543.8 478.8L553.8 477L563.8 479.5L573.8 483.8L592.5 487.5L610 495L621.2 511.2L630 512.5L657.5 524.5L672.5 537.5L677.5 544.5L686.2 549.5L692.5 555L698.8 563L705 568.8L710 578.8L716.2 584.5L721.2 592.5L725 602.5L722 612.5L723.8 625L728.8 633L721.2 640L717 646.2L727 644.5L718.8 648.8L716.5 661.2L702.5 672.5L699.2 682.5L708 696.2L723.8 708.8L729.5 718.8L737 722.5L749.2 720.5L783.8 736.2L788.8 728.8L788.8 715L786.2 706.2L780 696.2L764.5 688.8L758.8 680L751.2 660.5L773 656.8L783.8 672.5L800 679.5L811.2 682.5L817.5 688L806.2 688.8L810 696.2L821.2 698.8L813 702.5L818 710L821.2 722L816.2 730L814.5 742.5L825 751.8L838.8 762.5L850 776.2L856.2 787.5L860.8 798L860.8 814.2L867.5 814.2L869.5 802L866.2 792.5L865.5 780L867 767.5L872.5 758.2L890 750.5L900 748.8L920 752L930 756.2L937.5 758M420.5 347L422.5 343.2L432.5 345L437 352.5L428 355L420.5 347M326.2 79.5L332.5 85.5L350 93.8L355 101.2L360 105L372.5 110L387.5 112L397.5 116.2L407.5 123L425 125.5L440 127L457.5 135.5L467.5 135.5L478.8 139.2L487.5 137.5L493.8 132.5L497.5 123.8L498.2 115L499.5 98.8L496.2 87.5L491.2 79.5M450 101.8L456.2 109.5L447.5 113.2L450 101.8M322 129.5L335 101.2L344.5 99.5L357.5 110L473.8 159.2L519.5 130L526.2 135.5L538 135.5L553.8 145L569.5 157.5L579.5 148L586.2 163L605 172.5L611.2 194.2L622.5 195.8L631.2 199.5L640 196.2L650 202.5L662.5 211.2L675 208.2L690 200L700 197.5L712.5 190.8L715 185L712.5 163M673.8 79.5L677.5 107.5L685 127.5L695 150L703 162.5L712.5 163L720 167.5L726.2 182.5L728.8 191.2L723.8 184.5L723 197.5L720 207L728 204.2L733.8 212.5L736.2 230L746.2 250L750.8 260L757.5 270.8L759.2 277.5L766.7 289.2L775 301.7L785 316.2L793.8 327L810 350L825 370.8L835 369.5L840 380L870 426.2L878 431.2L880 438.8L887 448L893.8 452.5L915 457L923.8 469.5L937.5 479M923.8 469.5L917.5 481.2L908.8 484.5L900 473.8L890 465L880 461.2L871.2 463.5L866 471.2L872.5 485L863.8 487L856.2 492.5L853 500L853.8 581.2L862.5 583L872.5 587.5L878.8 593.8L890 601.2L895 608.8L892.5 616.2L886.2 623.8L867.5 632.5L863.8 642L857.5 648.5L861.2 658.5L870.5 673.8L873.8 692.5L874.5 712.5L870 720L862.5 726.2L852.5 728.8L845 738.8L837 744.5L832 746.2L840 756.2L854.5 764.5L857.5 780L862.5 796.2L862.5 814.2" fill="none" stroke="#000" stroke-width="1.05" stroke-linejoin="round" clip-path="url(#clipf)"/>
<rect x="262.6" y="79.2" width="675" height="740.8" fill="none" stroke="#000" stroke-width="1.5"/>
<path d="M301.1 820v5.2M359 820v5.2M416.8 820v5.2M474.7 820v5.2M532.5 820v5.2M590.4 820v5.2M648.2 820v5.2M706 820v5.2M763.9 820v5.2M821.8 820v5.2M879.6 820v5.2M262.6 124h-5.6M262.6 191.4h-5.6M262.6 258.8h-5.6M262.6 326.2h-5.6M262.6 393.6h-5.6M262.6 461h-5.6M262.6 528.4h-5.6M262.6 595.8h-5.6M262.6 663.2h-5.6M262.6 730.6h-5.6M262.6 798h-5.6" fill="none" stroke="#000" stroke-width="1.3"/>
<g font-size="17.6" text-anchor="middle">
<text x="301.4" y="841.4" textLength="46.5" lengthAdjust="spacingAndGlyphs">85.8W</text>
<text x="359.3" y="841.4" textLength="46.5" lengthAdjust="spacingAndGlyphs">85.5W</text>
<text x="417.1" y="841.4" textLength="46.5" lengthAdjust="spacingAndGlyphs">85.2W</text>
<text x="475" y="841.4" textLength="46.5" lengthAdjust="spacingAndGlyphs">84.9W</text>
<text x="532.8" y="841.4" textLength="46.5" lengthAdjust="spacingAndGlyphs">84.6W</text>
<text x="590.6" y="841.4" textLength="46.5" lengthAdjust="spacingAndGlyphs">84.3W</text>
<text x="648.5" y="841.4" textLength="33.1" lengthAdjust="spacingAndGlyphs">84W</text>
<text x="706.3" y="841.4" textLength="46.5" lengthAdjust="spacingAndGlyphs">83.7W</text>
<text x="764.2" y="841.4" textLength="46.5" lengthAdjust="spacingAndGlyphs">83.4W</text>
<text x="822" y="841.4" textLength="46.5" lengthAdjust="spacingAndGlyphs">83.1W</text>
<text x="879.9" y="841.4" textLength="46.5" lengthAdjust="spacingAndGlyphs">82.8W</text>
</g>
<g font-size="17.6" text-anchor="end">
<text x="253.7" y="130.5" textLength="43" lengthAdjust="spacingAndGlyphs">11.1N</text>
<text x="253.7" y="197.9" textLength="43" lengthAdjust="spacingAndGlyphs">10.8N</text>
<text x="253.7" y="265.3" textLength="43" lengthAdjust="spacingAndGlyphs">10.5N</text>
<text x="253.7" y="332.7" textLength="43" lengthAdjust="spacingAndGlyphs">10.2N</text>
<text x="253.7" y="400.1" textLength="34" lengthAdjust="spacingAndGlyphs">9.9N</text>
<text x="253.7" y="467.5" textLength="34" lengthAdjust="spacingAndGlyphs">9.6N</text>
<text x="253.7" y="534.9" textLength="34" lengthAdjust="spacingAndGlyphs">9.3N</text>
<text x="253.7" y="602.3" textLength="20.6" lengthAdjust="spacingAndGlyphs">9N</text>
<text x="253.7" y="669.7" textLength="34" lengthAdjust="spacingAndGlyphs">8.7N</text>
<text x="253.7" y="737.1" textLength="34" lengthAdjust="spacingAndGlyphs">8.4N</text>
<text x="253.7" y="804.5" textLength="34" lengthAdjust="spacingAndGlyphs">8.1N</text>
</g>
<text class="t" y="30.4" font-size="31.2"><tspan x="119.8" textLength="265.3" lengthAdjust="spacing">IMN/SARAPIQUI_5</tspan> <tspan x="399.4" textLength="193.1" lengthAdjust="spacing">Precipitacion</tspan> <tspan x="607.7" textLength="163.2" lengthAdjust="spacing">Acumulada</tspan> <tspan x="787" textLength="37.5" lengthAdjust="spacing">en</tspan> <tspan x="839.7" textLength="39.2" lengthAdjust="spacing">24</tspan> <tspan x="893.4" textLength="86.1" lengthAdjust="spacing">horas</tspan> <tspan x="993.6" textLength="86.5" lengthAdjust="spacing">(mm)</tspan></text>
<text class="t" y="61.9" font-size="30"><tspan x="490.6" textLength="76.6" lengthAdjust="spacingAndGlyphs">2026</tspan><tspan x="567.6" textLength="26.8" lengthAdjust="spacingAndGlyphs">-</tspan><tspan x="593.2" textLength="36.2" lengthAdjust="spacingAndGlyphs">02</tspan><tspan x="630.2" textLength="25.2" lengthAdjust="spacingAndGlyphs">-</tspan><tspan x="660.3" textLength="31.5" lengthAdjust="spacingAndGlyphs">10</tspan></text>
<text class="t2" y="877" font-size="22"><tspan x="326.3" textLength="105.2" lengthAdjust="spacing">Instituto</tspan> <tspan x="443.3" textLength="178.8" lengthAdjust="spacing">Meteorologico</tspan> <tspan x="634" textLength="110.6" lengthAdjust="spacing">Nacional</tspan> <tspan x="757.4" textLength="74.7" lengthAdjust="spacing">Costa</tspan> <tspan x="842.9" textLength="57.6" lengthAdjust="spacing">Rica</tspan></text>
<rect x="1057.8" y="725.3" width="21.9" height="42.4" fill="#66FFFF" stroke="#000" stroke-width="1.1"/>
<rect x="1057.8" y="682.9" width="21.9" height="42.4" fill="#3399FF" stroke="#000" stroke-width="1.1"/>
<rect x="1057.8" y="640.5" width="21.9" height="42.4" fill="#0000FF" stroke="#000" stroke-width="1.1"/>
<rect x="1057.8" y="598.1" width="21.9" height="42.4" fill="#00FF00" stroke="#000" stroke-width="1.1"/>
<rect x="1057.8" y="555.7" width="21.9" height="42.4" fill="#00CC00" stroke="#000" stroke-width="1.1"/>
<rect x="1057.8" y="513.3" width="21.9" height="42.4" fill="#009900" stroke="#000" stroke-width="1.1"/>
<rect x="1057.8" y="470.9" width="21.9" height="42.4" fill="#FFFF00" stroke="#000" stroke-width="1.1"/>
<rect x="1057.8" y="428.4" width="21.9" height="42.4" fill="#FFCC00" stroke="#000" stroke-width="1.1"/>
<rect x="1057.8" y="386" width="21.9" height="42.4" fill="#FF6600" stroke="#000" stroke-width="1.1"/>
<rect x="1057.8" y="343.6" width="21.9" height="42.4" fill="#FF0000" stroke="#000" stroke-width="1.1"/>
<rect x="1057.8" y="301.2" width="21.9" height="42.4" fill="#CC3300" stroke="#000" stroke-width="1.1"/>
<rect x="1057.8" y="258.8" width="21.9" height="42.4" fill="#990000" stroke="#000" stroke-width="1.1"/>
<rect x="1057.8" y="216.4" width="21.9" height="42.4" fill="#FF00FF" stroke="#000" stroke-width="1.1"/>
<rect x="1057.8" y="174" width="21.9" height="42.4" fill="#9933CC" stroke="#000" stroke-width="1.1"/>
<rect x="1057.8" y="131.6" width="21.9" height="42.4" fill="#F3F3F3" stroke="#000" stroke-width="1.1"/>
<path d="M1057.8 131.6L1068.8 89L1079.7 131.6Z" fill="#AAAAAA" stroke="#000" stroke-width="1.1" stroke-linejoin="miter"/>
<path d="M1057.8 767.7L1068.8 810.6L1079.7 767.7Z" fill="#fff" stroke="#000" stroke-width="1.1" stroke-linejoin="miter"/>
<g class="t" font-size="21">
<text class="t" x="1085" y="776.2">3.5</text>
<text class="t" x="1085" y="733.8">7</text>
<text class="t" x="1085" y="691.4">12.5</text>
<text class="t" x="1085" y="649">15</text>
<text class="t" x="1085" y="606.6">20</text>
<text class="t" x="1085" y="564.2">25</text>
<text class="t" x="1085" y="521.8">30</text>
<text class="t" x="1085" y="479.4">40</text>
<text class="t" x="1085" y="436.9">50</text>
<text class="t" x="1085" y="394.5">60</text>
<text class="t" x="1085" y="352.1">75</text>
<text class="t" x="1085" y="309.7">90</text>
<text class="t" x="1085" y="267.3">100</text>
<text class="t" x="1085" y="224.9">120</text>
<text class="t" x="1085" y="182.5">150</text>
<text class="t" x="1085" y="140.1">200</text>
</g>
</svg></body></html>
